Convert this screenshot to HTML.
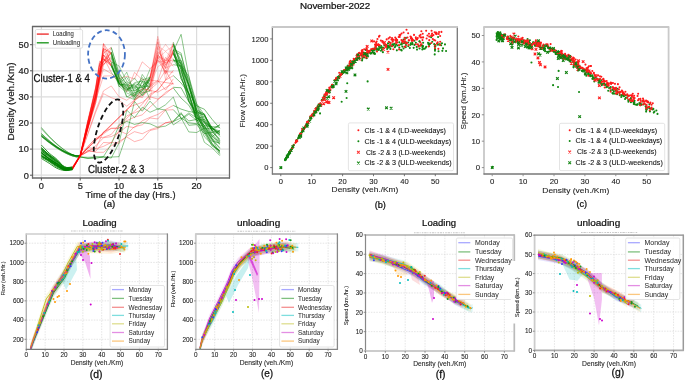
<!DOCTYPE html>
<html><head><meta charset="utf-8"><style>
html,body{margin:0;padding:0;background:#fff;}
svg{display:block;font-family:"Liberation Sans", sans-serif;will-change:transform;}
</style></head><body>
<svg width="685" height="380" viewBox="0 0 685 380">
<rect width="685" height="380" fill="#fff"/>
<text x="335.1" y="9.1" font-size="9.7" text-anchor="middle" fill="#111" stroke="#111" stroke-width="0.24" textLength="70.4" lengthAdjust="spacingAndGlyphs">November-2022</text>
<line x1="41.4" y1="26.5" x2="41.4" y2="178" stroke="#dcdcdc" stroke-width="1.2"/>
<line x1="80.2" y1="26.5" x2="80.2" y2="178" stroke="#dcdcdc" stroke-width="1.2"/>
<line x1="119" y1="26.5" x2="119" y2="178" stroke="#dcdcdc" stroke-width="1.2"/>
<line x1="157.8" y1="26.5" x2="157.8" y2="178" stroke="#dcdcdc" stroke-width="1.2"/>
<line x1="196.6" y1="26.5" x2="196.6" y2="178" stroke="#dcdcdc" stroke-width="1.2"/>
<line x1="32.5" y1="175.2" x2="229.5" y2="175.2" stroke="#dcdcdc" stroke-width="1.2"/>
<line x1="32.5" y1="149.1" x2="229.5" y2="149.1" stroke="#dcdcdc" stroke-width="1.2"/>
<line x1="32.5" y1="123" x2="229.5" y2="123" stroke="#dcdcdc" stroke-width="1.2"/>
<line x1="32.5" y1="96.9" x2="229.5" y2="96.9" stroke="#dcdcdc" stroke-width="1.2"/>
<line x1="32.5" y1="70.8" x2="229.5" y2="70.8" stroke="#dcdcdc" stroke-width="1.2"/>
<line x1="32.5" y1="44.7" x2="229.5" y2="44.7" stroke="#dcdcdc" stroke-width="1.2"/>
<clipPath id="c1"><rect x="32.5" y="26.5" width="197" height="151.5"/></clipPath><g clip-path="url(#c1)">
<polyline points="41.4,135.12 42.1,135.72 43.1,136.58 44.22,137.53 45.28,138.41 46.25,139.21 47.22,139.99 48.19,140.76 49.16,141.51 50.13,142.25 51.1,142.98 52.07,143.7 53.04,144.4 54.01,145.09 54.98,145.76 55.95,146.42 56.92,147.06 57.89,147.69 58.86,148.3 59.83,148.9 60.8,149.48 61.77,150.04 62.74,150.59 63.71,151.12 64.68,151.63 65.65,152.12 66.62,152.59 67.59,153.03 68.56,153.46 69.53,153.86 70.5,154.24 71.47,154.59 72.44,154.91 73.41,155.19 74.38,155.45 75.35,155.66 76.32,155.82 77.38,155.9 78.5,155.91 79.5,155.89 80.2,155.89" fill="none" stroke="#008000" stroke-width="1" stroke-opacity="0.5" stroke-linejoin="round"/>
<polyline points="80.2,155.89 87.96,150.19 95.72,152.34 103.48,152.31 111.24,145.78 119,141.5 126.76,136.98 134.52,141.65 142.28,139.31 150.04,130.47 157.8,128.62 165.56,122.72 173.32,121.87" fill="none" stroke="#ff0000" stroke-width="1" stroke-opacity="0.3" stroke-linejoin="round"/>
<polyline points="173.32,121.87 181.08,113.97 188.84,120.93 196.6,119.48 204.36,125.62 212.12,126.68 219.88,127.21" fill="none" stroke="#008000" stroke-width="1" stroke-opacity="0.5" stroke-linejoin="round"/>
<polyline points="41.4,136.2 42.1,136.76 43.1,137.57 44.22,138.48 45.28,139.32 46.25,140.07 47.22,140.81 48.19,141.54 49.16,142.25 50.13,142.96 51.1,143.65 52.07,144.33 53.04,144.99 54.01,145.64 54.98,146.28 55.95,146.91 56.92,147.52 57.89,148.11 58.86,148.7 59.83,149.26 60.8,149.81 61.77,150.35 62.74,150.86 63.71,151.37 64.68,151.85 65.65,152.31 66.62,152.76 67.59,153.18 68.56,153.58 69.53,153.96 70.5,154.33 71.47,154.66 72.44,154.96 73.41,155.23 74.38,155.47 75.35,155.68 76.32,155.82 77.38,155.9 78.5,155.91 79.5,155.89 80.2,155.89" fill="none" stroke="#008000" stroke-width="1" stroke-opacity="0.5" stroke-linejoin="round"/>
<polyline points="80.2,155.89 87.96,150.83 95.72,148.82 103.48,146.36 111.24,142.46 119,143.36 126.76,136.15 134.52,131.67 142.28,133.76 150.04,129.77 157.8,127.11 165.56,122.91 173.32,120.89" fill="none" stroke="#ff0000" stroke-width="1" stroke-opacity="0.3" stroke-linejoin="round"/>
<polyline points="173.32,120.89 181.08,112.67 188.84,125.27 196.6,124.6 204.36,133.49 212.12,132.37 219.88,131.5" fill="none" stroke="#008000" stroke-width="1" stroke-opacity="0.5" stroke-linejoin="round"/>
<polyline points="41.4,127.49 42.1,128.3 43.1,129.47 44.22,130.78 45.28,131.99 46.25,133.07 47.22,134.14 48.19,135.19 49.16,136.22 50.13,137.24 51.1,138.24 52.07,139.21 53.04,140.17 54.01,141.11 54.98,142.04 55.95,142.94 56.92,143.82 57.89,144.68 58.86,145.52 59.83,146.33 60.8,147.13 61.77,147.9 62.74,148.64 63.71,149.37 64.68,150.06 65.65,150.73 66.62,151.37 67.59,151.99 68.56,152.56 69.53,153.11 70.5,153.64 71.47,154.12 72.44,154.55 73.41,154.94 74.38,155.29 75.35,155.58 76.32,155.79 77.38,155.9 78.5,155.92 79.5,155.9 80.2,155.89" fill="none" stroke="#008000" stroke-width="1" stroke-opacity="0.5" stroke-linejoin="round"/>
<polyline points="80.2,155.89 87.96,151.68 95.72,151.27 103.48,142.48 111.24,142.9 119,130.62 126.76,134.18 134.52,126.57 142.28,124.83 150.04,117.97 157.8,118.96 165.56,110.07 173.32,109.7" fill="none" stroke="#ff0000" stroke-width="1" stroke-opacity="0.3" stroke-linejoin="round"/>
<polyline points="173.32,109.7 181.08,118.04 188.84,122.86 196.6,123.68 204.36,126.79 212.12,136.73 219.88,130.31" fill="none" stroke="#008000" stroke-width="1" stroke-opacity="0.5" stroke-linejoin="round"/>
<polyline points="41.4,136.04 42.1,136.61 43.1,137.43 44.22,138.34 45.28,139.18 46.25,139.94 47.22,140.69 48.19,141.42 49.16,142.14 50.13,142.85 51.1,143.55 52.07,144.23 53.04,144.9 54.01,145.56 54.98,146.21 55.95,146.84 56.92,147.45 57.89,148.05 58.86,148.64 59.83,149.21 60.8,149.76 61.77,150.3 62.74,150.82 63.71,151.33 64.68,151.81 65.65,152.28 66.62,152.73 67.59,153.16 68.56,153.56 69.53,153.95 70.5,154.31 71.47,154.65 72.44,154.95 73.41,155.22 74.38,155.47 75.35,155.67 76.32,155.82 77.38,155.9 78.5,155.91 79.5,155.89 80.2,155.89" fill="none" stroke="#008000" stroke-width="1" stroke-opacity="0.5" stroke-linejoin="round"/>
<polyline points="80.2,155.89 87.96,151.55 95.72,145.83 103.48,137.76 111.24,136.6 119,132.59 126.76,126.45 134.52,127.67 142.28,120.77 150.04,117.32 157.8,114.47 165.56,109.48 173.32,105.43" fill="none" stroke="#ff0000" stroke-width="1" stroke-opacity="0.3" stroke-linejoin="round"/>
<polyline points="173.32,105.43 181.08,109.12 188.84,111.53 196.6,112.65 204.36,123.49 212.12,128.89 219.88,124.83" fill="none" stroke="#008000" stroke-width="1" stroke-opacity="0.5" stroke-linejoin="round"/>
<polyline points="41.4,128.61 42.1,129.4 43.1,130.52 44.22,131.77 45.28,132.94 46.25,133.98 47.22,135 48.19,136.01 49.16,137 50.13,137.98 51.1,138.94 52.07,139.88 53.04,140.8 54.01,141.7 54.98,142.59 55.95,143.45 56.92,144.3 57.89,145.12 58.86,145.93 59.83,146.71 60.8,147.47 61.77,148.21 62.74,148.93 63.71,149.62 64.68,150.29 65.65,150.93 66.62,151.55 67.59,152.14 68.56,152.7 69.53,153.22 70.5,153.72 71.47,154.19 72.44,154.6 73.41,154.98 74.38,155.31 75.35,155.59 76.32,155.8 77.38,155.9 78.5,155.92 79.5,155.9 80.2,155.89" fill="none" stroke="#008000" stroke-width="1" stroke-opacity="0.5" stroke-linejoin="round"/>
<polyline points="80.2,155.89 87.96,147.68 95.72,148.5 103.48,131.84 111.24,128.43 119,127.96 126.76,120.69 134.52,117.17 142.28,114.87 150.04,106.98 157.8,99.98 165.56,92.18 173.32,87.98" fill="none" stroke="#ff0000" stroke-width="1" stroke-opacity="0.3" stroke-linejoin="round"/>
<polyline points="173.32,87.98 181.08,98.12 188.84,105.19 196.6,118.68 204.36,116.51 212.12,130.59 219.88,133.8" fill="none" stroke="#008000" stroke-width="1" stroke-opacity="0.5" stroke-linejoin="round"/>
<polyline points="41.4,135.05 42.1,135.64 43.1,136.5 44.22,137.46 45.28,138.35 46.25,139.14 47.22,139.93 48.19,140.7 49.16,141.46 50.13,142.2 51.1,142.93 52.07,143.65 53.04,144.36 54.01,145.05 54.98,145.72 55.95,146.38 56.92,147.03 57.89,147.66 58.86,148.28 59.83,148.88 60.8,149.46 61.77,150.02 62.74,150.57 63.71,151.1 64.68,151.61 65.65,152.1 66.62,152.57 67.59,153.02 68.56,153.45 69.53,153.85 70.5,154.23 71.47,154.59 72.44,154.9 73.41,155.19 74.38,155.45 75.35,155.66 76.32,155.82 77.38,155.9 78.5,155.91 79.5,155.89 80.2,155.89" fill="none" stroke="#008000" stroke-width="1" stroke-opacity="0.5" stroke-linejoin="round"/>
<polyline points="80.2,155.89 87.96,146.13 95.72,138.48 103.48,137.27 111.24,134.53 119,124.59 126.76,115.83 134.52,112.8 142.28,109.61 150.04,96.81 157.8,99.09 165.56,93.82 173.32,87.31" fill="none" stroke="#ff0000" stroke-width="1" stroke-opacity="0.3" stroke-linejoin="round"/>
<polyline points="173.32,87.31 181.08,87.76 188.84,101.86 196.6,111.68 204.36,115.4 212.12,128.78 219.88,130.93" fill="none" stroke="#008000" stroke-width="1" stroke-opacity="0.5" stroke-linejoin="round"/>
<polyline points="41.4,133.8 42.1,134.43 43.1,135.34 44.22,136.36 45.28,137.3 46.25,138.14 47.22,138.97 48.19,139.79 49.16,140.59 50.13,141.38 51.1,142.16 52.07,142.92 53.04,143.67 54.01,144.4 54.98,145.11 55.95,145.82 56.92,146.5 57.89,147.17 58.86,147.82 59.83,148.46 60.8,149.07 61.77,149.67 62.74,150.25 63.71,150.81 64.68,151.35 65.65,151.87 66.62,152.38 67.59,152.85 68.56,153.3 69.53,153.73 70.5,154.14 71.47,154.51 72.44,154.85 73.41,155.15 74.38,155.42 75.35,155.65 76.32,155.82 77.38,155.9 78.5,155.91 79.5,155.89 80.2,155.89" fill="none" stroke="#008000" stroke-width="1" stroke-opacity="0.5" stroke-linejoin="round"/>
<polyline points="80.2,155.89 87.96,146.97 95.72,138.1 103.48,133.85 111.24,128.29 119,128.28 126.76,118.15 134.52,111.16 142.28,104.26 150.04,94.09 157.8,90.32 165.56,80.14 173.32,75.68" fill="none" stroke="#ff0000" stroke-width="1" stroke-opacity="0.3" stroke-linejoin="round"/>
<polyline points="173.32,75.68 181.08,83.01 188.84,93.24 196.6,105.87 204.36,109.24 212.12,119.37 219.88,128.33" fill="none" stroke="#008000" stroke-width="1" stroke-opacity="0.5" stroke-linejoin="round"/>
<polyline points="80.2,155.89 87.96,134.09 95.72,112.3 103.48,93.61 111.24,97.66 119,100.24 126.76,106.23 134.52,99.94 142.28,95.79 150.04,89.55 157.8,82.85 165.56,70.28 173.32,84.46" fill="none" stroke="#ff0000" stroke-width="1" stroke-opacity="0.28" stroke-linejoin="round"/>
<polyline points="80.2,155.89 87.96,133.14 95.72,110.39 103.48,90.89 111.24,85.92 119,96.78 126.76,100.28 134.52,94.34 142.28,97.7 150.04,85.18 157.8,80.46 165.56,90.1 173.32,78.89" fill="none" stroke="#ff0000" stroke-width="1" stroke-opacity="0.28" stroke-linejoin="round"/>
<polyline points="80.2,155.89 87.96,127.95 95.72,100.01 103.48,76.06 111.24,75.84 119,80.05 126.76,91.99 134.52,72.39 142.28,79.77 150.04,80.12 157.8,81.07 165.56,57.4 173.32,66.29" fill="none" stroke="#ff0000" stroke-width="1" stroke-opacity="0.28" stroke-linejoin="round"/>
<polyline points="80.2,155.89 87.96,125.42 95.72,94.95 103.48,68.83 111.24,73.69 119,78.67 126.76,76.29 134.52,79.09 142.28,61.86 150.04,68.7 157.8,60.41 165.56,71.65 173.32,72.21" fill="none" stroke="#ff0000" stroke-width="1" stroke-opacity="0.28" stroke-linejoin="round"/>
<polyline points="41.4,135.79 45.28,139.14 49.16,142.29 53.04,145.23 56.92,147.95 60.8,150.41 64.68,152.59 68.56,154.46 72.44,155.93 76.32,156.86 80.2,156.93 87.96,158.32 95.72,158.43 103.48,156.63 111.24,144.2 119,125.28 126.76,121.39 134.52,124.4 142.28,122.54 150.04,123.83 157.8,127.35 165.56,126.1 173.32,121.54 181.08,117.92 188.84,131.95 196.6,132.51 204.36,128.12 212.12,128.89 219.88,132.73" fill="none" stroke="#008000" stroke-width="1" stroke-opacity="0.45" stroke-linejoin="round"/>
<polyline points="41.4,133.44 45.28,137.16 49.16,140.67 53.04,143.93 56.92,146.95 60.8,149.68 64.68,152.11 68.56,154.18 72.44,155.82 76.32,156.85 80.2,156.93 87.96,157.31 95.72,157 103.48,156.5 111.24,158.09 119,143.06 126.76,110.12 134.52,117.64 142.28,107.21 150.04,112.29 157.8,108.8 165.56,110.06 173.32,124.91 181.08,119.73 188.84,114.22 196.6,120.32 204.36,119.33 212.12,130.53 219.88,124.71" fill="none" stroke="#008000" stroke-width="1" stroke-opacity="0.45" stroke-linejoin="round"/>
<polyline points="41.4,136.57 45.28,139.8 49.16,142.84 53.04,145.67 56.92,148.28 60.8,150.65 64.68,152.75 68.56,154.55 72.44,155.97 76.32,156.86 80.2,156.93 87.96,158.46 95.72,156.85 103.48,157.65 111.24,157.04 119,156.7 126.76,134.11 134.52,101.37 142.28,111.22 150.04,101.18 157.8,109.49 165.56,104.77 173.32,97.09 181.08,118.79 188.84,112.94 196.6,117.81 204.36,121.9 212.12,127.95 219.88,132.88" fill="none" stroke="#008000" stroke-width="1" stroke-opacity="0.45" stroke-linejoin="round"/>
<polyline points="41.4,156.67 42.79,157.29 44.8,158.18 47.04,159.24 49.16,160.39 51.1,161.7 53.04,163.17 54.98,164.65 56.92,165.97 58.86,167.15 60.8,168.27 62.74,169.2 64.68,169.8 66.8,169.93 69.05,169.7 71.05,169.35 72.44,169.13" fill="none" stroke="#008000" stroke-width="1" stroke-opacity="0.8" stroke-linejoin="round"/>
<polyline points="72.44,169.13 80.2,155.93 87.96,126.98 95.72,100.71 99.6,79.89 103.48,54.57 111.24,62.44" fill="none" stroke="#ff0000" stroke-width="1" stroke-opacity="0.3" stroke-linejoin="round"/>
<polyline points="111.24,62.44 119,85.98 126.76,92.98 134.52,96.29 142.28,81.26 150.04,99.87" fill="none" stroke="#008000" stroke-width="1" stroke-opacity="0.38" stroke-linejoin="round"/>
<polyline points="150.04,99.87 157.8,54.76 165.56,63.01 173.32,59.5" fill="none" stroke="#ff0000" stroke-width="1" stroke-opacity="0.2" stroke-linejoin="round"/>
<polyline points="173.32,59.5 181.08,71.84 188.84,92.85 196.6,118.88 204.36,133.26 212.12,146.17 219.88,150.78" fill="none" stroke="#008000" stroke-width="1" stroke-opacity="0.45" stroke-linejoin="round"/>
<polyline points="41.4,149.46 42.79,150.68 44.8,152.44 47.04,154.39 49.16,156.19 51.1,157.79 53.04,159.36 54.98,160.91 56.92,162.43 58.86,164.05 60.8,165.74 62.74,167.23 64.68,168.28 66.8,168.69 69.05,168.65 71.05,168.43 72.44,168.3" fill="none" stroke="#008000" stroke-width="1" stroke-opacity="0.8" stroke-linejoin="round"/>
<polyline points="72.44,168.3 80.2,154.96 87.96,121.88 95.72,90.55 99.6,65.36 103.48,61.6 111.24,53.03" fill="none" stroke="#ff0000" stroke-width="1" stroke-opacity="0.3" stroke-linejoin="round"/>
<polyline points="111.24,53.03 119,76.43 126.76,96.55 134.52,99.64 142.28,94.54 150.04,77.7" fill="none" stroke="#008000" stroke-width="1" stroke-opacity="0.38" stroke-linejoin="round"/>
<polyline points="150.04,77.7 157.8,41.7 165.56,68.32 173.32,44.26" fill="none" stroke="#ff0000" stroke-width="1" stroke-opacity="0.2" stroke-linejoin="round"/>
<polyline points="173.32,44.26 181.08,60.82 188.84,84.66 196.6,109.53 204.36,121.39 212.12,136.86 219.88,141.73" fill="none" stroke="#008000" stroke-width="1" stroke-opacity="0.45" stroke-linejoin="round"/>
<polyline points="41.4,156.01 42.79,156.72 44.8,157.75 47.04,158.93 49.16,160.11 51.1,161.29 53.04,162.54 54.98,163.81 56.92,165.07 58.86,166.41 60.8,167.84 62.74,169.09 64.68,169.94 66.8,170.19 69.05,170.03 71.05,169.71 72.44,169.51" fill="none" stroke="#008000" stroke-width="1" stroke-opacity="0.8" stroke-linejoin="round"/>
<polyline points="72.44,169.51 80.2,156.11 87.96,127.94 95.72,97.18 99.6,78.99 103.48,62.15 111.24,51.89" fill="none" stroke="#ff0000" stroke-width="1" stroke-opacity="0.3" stroke-linejoin="round"/>
<polyline points="111.24,51.89 119,78.02 126.76,97.06 134.52,92.68 142.28,89.51 150.04,83.72" fill="none" stroke="#008000" stroke-width="1" stroke-opacity="0.38" stroke-linejoin="round"/>
<polyline points="150.04,83.72 157.8,51.43 165.56,60.67 173.32,52.1" fill="none" stroke="#ff0000" stroke-width="1" stroke-opacity="0.2" stroke-linejoin="round"/>
<polyline points="173.32,52.1 181.08,76.16 188.84,100.64 196.6,114.26 204.36,131.58 212.12,143.31 219.88,154.49" fill="none" stroke="#008000" stroke-width="1" stroke-opacity="0.45" stroke-linejoin="round"/>
<polyline points="41.4,152.35 42.79,153.61 44.8,155.43 47.04,157.4 49.16,159.08 51.1,160.35 53.04,161.43 54.98,162.47 56.92,163.61 58.86,165.03 60.8,166.62 62.74,168.04 64.68,168.98 66.8,169.24 69.05,169.02 71.05,168.64 72.44,168.4" fill="none" stroke="#008000" stroke-width="1" stroke-opacity="0.8" stroke-linejoin="round"/>
<polyline points="72.44,168.4 80.2,155.72 87.96,124.52 95.72,93.46 99.6,75.16 103.48,44.2 111.24,62.65" fill="none" stroke="#ff0000" stroke-width="1" stroke-opacity="0.3" stroke-linejoin="round"/>
<polyline points="111.24,62.65 119,86.83 126.76,81.82 134.52,96.3 142.28,90.47 150.04,77.69" fill="none" stroke="#008000" stroke-width="1" stroke-opacity="0.38" stroke-linejoin="round"/>
<polyline points="150.04,77.69 157.8,42.42 165.56,73.04 173.32,49.21" fill="none" stroke="#ff0000" stroke-width="1" stroke-opacity="0.2" stroke-linejoin="round"/>
<polyline points="173.32,49.21 181.08,53.07 188.84,85.48 196.6,114.18 204.36,128.45 212.12,139.08 219.88,147.76" fill="none" stroke="#008000" stroke-width="1" stroke-opacity="0.45" stroke-linejoin="round"/>
<polyline points="41.4,153.19 42.79,154.2 44.8,155.65 47.04,157.26 49.16,158.74 51.1,160.03 53.04,161.28 54.98,162.51 56.92,163.77 58.86,165.19 60.8,166.71 62.74,168.07 64.68,169.01 66.8,169.36 69.05,169.3 71.05,169.07 72.44,168.93" fill="none" stroke="#008000" stroke-width="1" stroke-opacity="0.8" stroke-linejoin="round"/>
<polyline points="72.44,168.93 80.2,155.28 87.96,125.77 95.72,96.05 99.6,75.14 103.48,59.14 111.24,64.03" fill="none" stroke="#ff0000" stroke-width="1" stroke-opacity="0.3" stroke-linejoin="round"/>
<polyline points="111.24,64.03 119,82.73 126.76,72.21 134.52,93.19 142.28,88.76 150.04,76.22" fill="none" stroke="#008000" stroke-width="1" stroke-opacity="0.38" stroke-linejoin="round"/>
<polyline points="150.04,76.22 157.8,46.31 165.56,51.18 173.32,45.96" fill="none" stroke="#ff0000" stroke-width="1" stroke-opacity="0.2" stroke-linejoin="round"/>
<polyline points="173.32,45.96 181.08,78.84 188.84,94.18 196.6,113.54 204.36,125.57 212.12,135.5 219.88,144.04" fill="none" stroke="#008000" stroke-width="1" stroke-opacity="0.45" stroke-linejoin="round"/>
<polyline points="41.4,152.99 42.79,154.02 44.8,155.51 47.04,157.17 49.16,158.71 51.1,160.09 53.04,161.47 54.98,162.81 56.92,164.09 58.86,165.39 60.8,166.69 62.74,167.83 64.68,168.63 66.8,168.95 69.05,168.91 71.05,168.73 72.44,168.63" fill="none" stroke="#008000" stroke-width="1" stroke-opacity="0.8" stroke-linejoin="round"/>
<polyline points="72.44,168.63 80.2,156.01 87.96,125.53 95.72,93.92 99.6,72.04 103.48,48.68 111.24,52.38" fill="none" stroke="#ff0000" stroke-width="1" stroke-opacity="0.3" stroke-linejoin="round"/>
<polyline points="111.24,52.38 119,76.24 126.76,86.48 134.52,84.57 142.28,95.45 150.04,85.23" fill="none" stroke="#008000" stroke-width="1" stroke-opacity="0.38" stroke-linejoin="round"/>
<polyline points="150.04,85.23 157.8,58.66 165.56,51.49 173.32,59.13" fill="none" stroke="#ff0000" stroke-width="1" stroke-opacity="0.2" stroke-linejoin="round"/>
<polyline points="173.32,59.13 181.08,66.54 188.84,89.06 196.6,109.56 204.36,129.46 212.12,141.17 219.88,142.99" fill="none" stroke="#008000" stroke-width="1" stroke-opacity="0.45" stroke-linejoin="round"/>
<polyline points="41.4,155.61 42.79,156.62 44.8,158.08 47.04,159.7 49.16,161.16 51.1,162.41 53.04,163.61 54.98,164.77 56.92,165.92 58.86,167.2 60.8,168.56 62.74,169.71 64.68,170.4 66.8,170.39 69.05,169.88 71.05,169.23 72.44,168.81" fill="none" stroke="#008000" stroke-width="1" stroke-opacity="0.8" stroke-linejoin="round"/>
<polyline points="72.44,168.81 80.2,156.11 87.96,127.61 95.72,96.49 99.6,77.99 103.48,43.39 111.24,55.2" fill="none" stroke="#ff0000" stroke-width="1" stroke-opacity="0.3" stroke-linejoin="round"/>
<polyline points="111.24,55.2 119,83.33 126.76,85.76 134.52,78.17 142.28,87.96 150.04,80.79" fill="none" stroke="#008000" stroke-width="1" stroke-opacity="0.38" stroke-linejoin="round"/>
<polyline points="150.04,80.79 157.8,48.22 165.56,65.59 173.32,52.66" fill="none" stroke="#ff0000" stroke-width="1" stroke-opacity="0.2" stroke-linejoin="round"/>
<polyline points="173.32,52.66 181.08,74.77 188.84,101.17 196.6,115.6 204.36,129.88 212.12,143.51 219.88,152.02" fill="none" stroke="#008000" stroke-width="1" stroke-opacity="0.45" stroke-linejoin="round"/>
<polyline points="41.4,158.52 42.79,159.37 44.8,160.58 47.04,161.94 49.16,163.26 51.1,164.57 53.04,165.94 54.98,167.23 56.92,168.3 58.86,169.12 60.8,169.77 62.74,170.24 64.68,170.53 66.8,170.55 69.05,170.33 71.05,170.05 72.44,169.86" fill="none" stroke="#008000" stroke-width="1" stroke-opacity="0.8" stroke-linejoin="round"/>
<polyline points="72.44,169.86 80.2,156.16 87.96,128.9 95.72,102.73 99.6,83.95 103.48,55.11 111.24,64.89" fill="none" stroke="#ff0000" stroke-width="1" stroke-opacity="0.3" stroke-linejoin="round"/>
<polyline points="111.24,64.89 119,83.54 126.76,89.8 134.52,90.67 142.28,85.79 150.04,79.65" fill="none" stroke="#008000" stroke-width="1" stroke-opacity="0.38" stroke-linejoin="round"/>
<polyline points="150.04,79.65 157.8,38.87 165.56,79.87 173.32,50.17" fill="none" stroke="#ff0000" stroke-width="1" stroke-opacity="0.2" stroke-linejoin="round"/>
<polyline points="173.32,50.17 181.08,78.66 188.84,93.25 196.6,120.11 204.36,142.3 212.12,147.82 219.88,155.71" fill="none" stroke="#008000" stroke-width="1" stroke-opacity="0.45" stroke-linejoin="round"/>
<polyline points="41.4,149.54 42.79,150.59 44.8,152.09 47.04,153.79 49.16,155.43 51.1,157.01 53.04,158.62 54.98,160.24 56.92,161.82 58.86,163.48 60.8,165.2 62.74,166.72 64.68,167.81 66.8,168.28 69.05,168.3 71.05,168.14 72.44,168.05" fill="none" stroke="#008000" stroke-width="1" stroke-opacity="0.8" stroke-linejoin="round"/>
<polyline points="72.44,168.05 80.2,156.09 87.96,121.61 95.72,88.58 99.6,68.11 103.48,64.41 111.24,56.48" fill="none" stroke="#ff0000" stroke-width="1" stroke-opacity="0.3" stroke-linejoin="round"/>
<polyline points="111.24,56.48 119,77.85 126.76,87.61 134.52,89.16 142.28,77.47 150.04,91.44" fill="none" stroke="#008000" stroke-width="1" stroke-opacity="0.38" stroke-linejoin="round"/>
<polyline points="150.04,91.44 157.8,57.19 165.56,74.16 173.32,60.23" fill="none" stroke="#ff0000" stroke-width="1" stroke-opacity="0.2" stroke-linejoin="round"/>
<polyline points="173.32,60.23 181.08,62.62 188.84,86.35 196.6,109.55 204.36,114.28 212.12,132.16 219.88,138.99" fill="none" stroke="#008000" stroke-width="1" stroke-opacity="0.45" stroke-linejoin="round"/>
<polyline points="41.4,145.09 42.79,146.58 44.8,148.73 47.04,151.08 49.16,153.14 51.1,154.77 53.04,156.22 54.98,157.66 56.92,159.26 58.86,161.27 60.8,163.54 62.74,165.61 64.68,167.03 66.8,167.54 69.05,167.42 71.05,167.06 72.44,166.84" fill="none" stroke="#008000" stroke-width="1" stroke-opacity="0.8" stroke-linejoin="round"/>
<polyline points="72.44,166.84 80.2,155.54 87.96,119.6 95.72,86.63 99.6,61.16 103.48,64.4 111.24,58.16" fill="none" stroke="#ff0000" stroke-width="1" stroke-opacity="0.3" stroke-linejoin="round"/>
<polyline points="111.24,58.16 119,83.5 126.76,90.46 134.52,82.67 142.28,80.93 150.04,83.43" fill="none" stroke="#008000" stroke-width="1" stroke-opacity="0.38" stroke-linejoin="round"/>
<polyline points="150.04,83.43 157.8,60.05 165.56,66.97 173.32,51.37" fill="none" stroke="#ff0000" stroke-width="1" stroke-opacity="0.2" stroke-linejoin="round"/>
<polyline points="173.32,51.37 181.08,34.33 188.84,76.52 196.6,103.54 204.36,115.17 212.12,127.59 219.88,134.94" fill="none" stroke="#008000" stroke-width="1" stroke-opacity="0.45" stroke-linejoin="round"/>
<polyline points="41.4,152.15 42.79,153.31 44.8,154.97 47.04,156.81 49.16,158.51 51.1,160.01 53.04,161.49 54.98,162.92 56.92,164.32 58.86,165.8 60.8,167.33 62.74,168.65 64.68,169.49 66.8,169.65 69.05,169.3 71.05,168.8 72.44,168.47" fill="none" stroke="#008000" stroke-width="1" stroke-opacity="0.8" stroke-linejoin="round"/>
<polyline points="72.44,168.47 80.2,155.69 87.96,125.75 95.72,96.62 99.6,74.62 103.48,48.52 111.24,53.82" fill="none" stroke="#ff0000" stroke-width="1" stroke-opacity="0.3" stroke-linejoin="round"/>
<polyline points="111.24,53.82 119,80.01 126.76,88.57 134.52,86.89 142.28,87.85 150.04,69.11" fill="none" stroke="#008000" stroke-width="1" stroke-opacity="0.38" stroke-linejoin="round"/>
<polyline points="150.04,69.11 157.8,61.99 165.56,60.92 173.32,42.25" fill="none" stroke="#ff0000" stroke-width="1" stroke-opacity="0.2" stroke-linejoin="round"/>
<polyline points="173.32,42.25 181.08,67.35 188.84,84.83 196.6,113.77 204.36,126.33 212.12,139.5 219.88,148.55" fill="none" stroke="#008000" stroke-width="1" stroke-opacity="0.45" stroke-linejoin="round"/>
<polyline points="41.4,154.24 42.79,155.32 44.8,156.88 47.04,158.6 49.16,160.17 51.1,161.56 53.04,162.91 54.98,164.19 56.92,165.38 58.86,166.53 60.8,167.64 62.74,168.57 64.68,169.19 66.8,169.37 69.05,169.22 71.05,168.95 72.44,168.77" fill="none" stroke="#008000" stroke-width="1" stroke-opacity="0.8" stroke-linejoin="round"/>
<polyline points="72.44,168.77 80.2,155.48 87.96,126.79 95.72,98.89 99.6,76.68 103.48,59.2 111.24,66.09" fill="none" stroke="#ff0000" stroke-width="1" stroke-opacity="0.3" stroke-linejoin="round"/>
<polyline points="111.24,66.09 119,82.6 126.76,90.01 134.52,84.91 142.28,93.03 150.04,91.05" fill="none" stroke="#008000" stroke-width="1" stroke-opacity="0.38" stroke-linejoin="round"/>
<polyline points="150.04,91.05 157.8,55.3 165.56,44.37 173.32,54.27" fill="none" stroke="#ff0000" stroke-width="1" stroke-opacity="0.2" stroke-linejoin="round"/>
<polyline points="173.32,54.27 181.08,69.56 188.84,95.37 196.6,116.7 204.36,128.28 212.12,139.29 219.88,153.24" fill="none" stroke="#008000" stroke-width="1" stroke-opacity="0.45" stroke-linejoin="round"/>
<polyline points="41.4,147.79 42.79,149.04 44.8,150.85 47.04,152.82 49.16,154.59 51.1,156.02 53.04,157.31 54.98,158.63 56.92,160.11 58.86,162.01 60.8,164.17 62.74,166.15 64.68,167.5 66.8,167.96 69.05,167.81 71.05,167.43 72.44,167.2" fill="none" stroke="#008000" stroke-width="1" stroke-opacity="0.8" stroke-linejoin="round"/>
<polyline points="72.44,167.2 80.2,154.89 87.96,121.91 95.72,87.61 99.6,64.41 103.48,57.43 111.24,72.33" fill="none" stroke="#ff0000" stroke-width="1" stroke-opacity="0.3" stroke-linejoin="round"/>
<polyline points="111.24,72.33 119,83.31 126.76,87.71 134.52,96.59 142.28,74.42 150.04,85.51" fill="none" stroke="#008000" stroke-width="1" stroke-opacity="0.38" stroke-linejoin="round"/>
<polyline points="150.04,85.51 157.8,55.82 165.56,60.33 173.32,60.99" fill="none" stroke="#ff0000" stroke-width="1" stroke-opacity="0.2" stroke-linejoin="round"/>
<polyline points="173.32,60.99 181.08,60.46 188.84,79.82 196.6,104.47 204.36,119.38 212.12,129.78 219.88,140.4" fill="none" stroke="#008000" stroke-width="1" stroke-opacity="0.45" stroke-linejoin="round"/>
<polyline points="41.4,150.92 42.79,151.9 44.8,153.3 47.04,154.91 49.16,156.5 51.1,158.1 53.04,159.79 54.98,161.47 56.92,163.05 58.86,164.6 60.8,166.15 62.74,167.49 64.68,168.4 66.8,168.71 69.05,168.58 71.05,168.27 72.44,168.09" fill="none" stroke="#008000" stroke-width="1" stroke-opacity="0.8" stroke-linejoin="round"/>
<polyline points="72.44,168.09 80.2,155.96 87.96,121.15 95.72,92.02 99.6,70.7 103.48,62.2 111.24,47.76" fill="none" stroke="#ff0000" stroke-width="1" stroke-opacity="0.3" stroke-linejoin="round"/>
<polyline points="111.24,47.76 119,72.92 126.76,84.51 134.52,98.35 142.28,91.45 150.04,79.67" fill="none" stroke="#008000" stroke-width="1" stroke-opacity="0.38" stroke-linejoin="round"/>
<polyline points="150.04,79.67 157.8,56.81 165.56,67.95 173.32,64.68" fill="none" stroke="#ff0000" stroke-width="1" stroke-opacity="0.2" stroke-linejoin="round"/>
<polyline points="173.32,64.68 181.08,65.9 188.84,85.61 196.6,111.87 204.36,122.56 212.12,127.07 219.88,136.53" fill="none" stroke="#008000" stroke-width="1" stroke-opacity="0.45" stroke-linejoin="round"/>
<polyline points="41.4,155.44 42.79,156.37 44.8,157.71 47.04,159.22 49.16,160.64 51.1,161.97 53.04,163.33 54.98,164.63 56.92,165.8 58.86,166.86 60.8,167.84 62.74,168.65 64.68,169.21 66.8,169.42 69.05,169.34 71.05,169.16 72.44,169.04" fill="none" stroke="#008000" stroke-width="1" stroke-opacity="0.8" stroke-linejoin="round"/>
<polyline points="72.44,169.04 80.2,156.02 87.96,127.04 95.72,99.03 99.6,76.41 103.48,50.37 111.24,66.15" fill="none" stroke="#ff0000" stroke-width="1" stroke-opacity="0.3" stroke-linejoin="round"/>
<polyline points="111.24,66.15 119,83.89 126.76,91.66 134.52,83.53 142.28,86.12 150.04,77.81" fill="none" stroke="#008000" stroke-width="1" stroke-opacity="0.38" stroke-linejoin="round"/>
<polyline points="150.04,77.81 157.8,53.05 165.56,74.19 173.32,49.71" fill="none" stroke="#ff0000" stroke-width="1" stroke-opacity="0.2" stroke-linejoin="round"/>
<polyline points="173.32,49.71 181.08,69.56 188.84,93.85 196.6,122.06 204.36,131.31 212.12,145.11 219.88,151.09" fill="none" stroke="#008000" stroke-width="1" stroke-opacity="0.45" stroke-linejoin="round"/>
<polyline points="41.4,150.89 42.79,152.09 44.8,153.82 47.04,155.74 49.16,157.52 51.1,159.11 53.04,160.67 54.98,162.2 56.92,163.69 58.86,165.29 60.8,166.95 62.74,168.39 64.68,169.32 66.8,169.53 69.05,169.2 71.05,168.7 72.44,168.38" fill="none" stroke="#008000" stroke-width="1" stroke-opacity="0.8" stroke-linejoin="round"/>
<polyline points="72.44,168.38 80.2,155.09 87.96,123.52 95.72,95.66 99.6,73.27 103.48,53.14 111.24,47.27" fill="none" stroke="#ff0000" stroke-width="1" stroke-opacity="0.3" stroke-linejoin="round"/>
<polyline points="111.24,47.27 119,74.23 126.76,84.07 134.52,87.73 142.28,95.51 150.04,86.92" fill="none" stroke="#008000" stroke-width="1" stroke-opacity="0.38" stroke-linejoin="round"/>
<polyline points="150.04,86.92 157.8,55.31 165.56,64.42 173.32,53.26" fill="none" stroke="#ff0000" stroke-width="1" stroke-opacity="0.2" stroke-linejoin="round"/>
<polyline points="173.32,53.26 181.08,64.53 188.84,85.44 196.6,106.22 204.36,121.26 212.12,134.23 219.88,142.66" fill="none" stroke="#008000" stroke-width="1" stroke-opacity="0.45" stroke-linejoin="round"/>
<polyline points="41.4,157.25 42.79,158.02 44.8,159.11 47.04,160.38 49.16,161.66 51.1,163.01 53.04,164.49 54.98,165.91 56.92,167.09 58.86,167.98 60.8,168.69 62.74,169.21 64.68,169.57 66.8,169.69 69.05,169.59 71.05,169.41 72.44,169.29" fill="none" stroke="#008000" stroke-width="1" stroke-opacity="0.8" stroke-linejoin="round"/>
<polyline points="72.44,169.29 80.2,155.88 87.96,128.13 95.72,102.67 99.6,77.42 103.48,65.54 111.24,52" fill="none" stroke="#ff0000" stroke-width="1" stroke-opacity="0.3" stroke-linejoin="round"/>
<polyline points="111.24,52 119,84.58 126.76,84.64 134.52,94.54 142.28,90.81 150.04,77.6" fill="none" stroke="#008000" stroke-width="1" stroke-opacity="0.38" stroke-linejoin="round"/>
<polyline points="150.04,77.6 157.8,36.28 165.56,65.04 173.32,53.74" fill="none" stroke="#ff0000" stroke-width="1" stroke-opacity="0.2" stroke-linejoin="round"/>
<polyline points="173.32,53.74 181.08,68.01 188.84,101.46 196.6,118.27 204.36,136.8 212.12,144.51 219.88,150.67" fill="none" stroke="#008000" stroke-width="1" stroke-opacity="0.45" stroke-linejoin="round"/>
<polyline points="41.4,148.09 42.79,149.45 44.8,151.41 47.04,153.54 49.16,155.43 51.1,156.94 53.04,158.29 54.98,159.62 56.92,161.08 58.86,162.9 60.8,164.92 62.74,166.76 64.68,168 66.8,168.4 69.05,168.22 71.05,167.83 72.44,167.59" fill="none" stroke="#008000" stroke-width="1" stroke-opacity="0.8" stroke-linejoin="round"/>
<polyline points="72.44,167.59 80.2,154.72 87.96,120.99 95.72,89.63 99.6,64.28 103.48,55.13 111.24,65.55" fill="none" stroke="#ff0000" stroke-width="1" stroke-opacity="0.3" stroke-linejoin="round"/>
<polyline points="111.24,65.55 119,83.37 126.76,77.2 134.52,91.13 142.28,86.87 150.04,86.18" fill="none" stroke="#008000" stroke-width="1" stroke-opacity="0.38" stroke-linejoin="round"/>
<polyline points="150.04,86.18 157.8,66.61 165.56,62.15 173.32,50.58" fill="none" stroke="#ff0000" stroke-width="1" stroke-opacity="0.2" stroke-linejoin="round"/>
<polyline points="173.32,50.58 181.08,55.01 188.84,81.84 196.6,112.92 204.36,114.82 212.12,128.52 219.88,134.88" fill="none" stroke="#008000" stroke-width="1" stroke-opacity="0.45" stroke-linejoin="round"/>
<polyline points="41.4,148.22 42.79,149.43 44.8,151.17 47.04,153.11 49.16,154.9 51.1,156.48 53.04,158.03 54.98,159.55 56.92,161.05 58.86,162.62 60.8,164.24 62.74,165.71 64.68,166.83 66.8,167.51 69.05,167.86 71.05,168.04 72.44,168.18" fill="none" stroke="#008000" stroke-width="1" stroke-opacity="0.8" stroke-linejoin="round"/>
<polyline points="72.44,168.18 80.2,155.38 87.96,121.81 95.72,87.79 99.6,63.22 103.48,58.76 111.24,65.52" fill="none" stroke="#ff0000" stroke-width="1" stroke-opacity="0.3" stroke-linejoin="round"/>
<polyline points="111.24,65.52 119,80.94 126.76,88.32 134.52,99.54 142.28,81.3 150.04,87.4" fill="none" stroke="#008000" stroke-width="1" stroke-opacity="0.38" stroke-linejoin="round"/>
<polyline points="150.04,87.4 157.8,46.82 165.56,69.08 173.32,43.82" fill="none" stroke="#ff0000" stroke-width="1" stroke-opacity="0.2" stroke-linejoin="round"/>
<polyline points="173.32,43.82 181.08,65.19 188.84,76.46 196.6,111.44 204.36,113.82 212.12,130.87 219.88,141.15" fill="none" stroke="#008000" stroke-width="1" stroke-opacity="0.45" stroke-linejoin="round"/>
<polyline points="41.4,152.82 42.79,153.98 44.8,155.63 47.04,157.46 49.16,159.1 51.1,160.51 53.04,161.85 54.98,163.14 56.92,164.37 58.86,165.64 60.8,166.92 62.74,168.03 64.68,168.78 66.8,169.05 69.05,168.96 71.05,168.73 72.44,168.58" fill="none" stroke="#008000" stroke-width="1" stroke-opacity="0.8" stroke-linejoin="round"/>
<polyline points="72.44,168.58 80.2,156.89 87.96,125.19 95.72,94.78 99.6,74.08 103.48,48.54 111.24,62.07" fill="none" stroke="#ff0000" stroke-width="1" stroke-opacity="0.3" stroke-linejoin="round"/>
<polyline points="111.24,62.07 119,65.91 126.76,81.24 134.52,86.95 142.28,79.84 150.04,77.37" fill="none" stroke="#008000" stroke-width="1" stroke-opacity="0.38" stroke-linejoin="round"/>
<polyline points="150.04,77.37 157.8,51.68 165.56,63.09 173.32,44.48" fill="none" stroke="#ff0000" stroke-width="1" stroke-opacity="0.2" stroke-linejoin="round"/>
<polyline points="173.32,44.48 181.08,63.05 188.84,98.01 196.6,117.25 204.36,125.5 212.12,138.42 219.88,144.38" fill="none" stroke="#008000" stroke-width="1" stroke-opacity="0.45" stroke-linejoin="round"/>
<polyline points="80.2,155.62 103.48,132.77 129.86,107.15 142.28,88.64 157.8,92.15 173.32,83.33" fill="none" stroke="#ff0000" stroke-width="1" stroke-opacity="0.3" stroke-linejoin="round"/>
<polyline points="80.2,155.62 103.48,133.1 129.86,106.37 142.28,92.79 157.8,81.3 173.32,83.73" fill="none" stroke="#ff0000" stroke-width="1" stroke-opacity="0.3" stroke-linejoin="round"/>
<polyline points="80.2,155.62 103.48,132.22 129.86,106.73 142.28,102.34 157.8,89.79 173.32,70.35" fill="none" stroke="#ff0000" stroke-width="1" stroke-opacity="0.3" stroke-linejoin="round"/>
</g>
<ellipse cx="106.5" cy="54.4" rx="18.4" ry="24.2" fill="none" stroke="#4472c4" stroke-width="1.8" stroke-dasharray="5 3.2"/>
<ellipse cx="108.5" cy="131" rx="11.2" ry="33" transform="rotate(18 108.5 131)" fill="none" stroke="#111" stroke-width="1.8" stroke-dasharray="5 3.2"/>
<line x1="32.5" y1="26" x2="32.5" y2="178.5" stroke="#6a6a6a" stroke-width="1.3"/>
<line x1="229.5" y1="26" x2="229.5" y2="178.5" stroke="#6a6a6a" stroke-width="1.3"/>
<line x1="32" y1="26.5" x2="230" y2="26.5" stroke="#666" stroke-width="1.3"/>
<line x1="32" y1="178" x2="230" y2="178" stroke="#6a6a6a" stroke-width="1.3"/>
<line x1="41.4" y1="178" x2="41.4" y2="180.5" stroke="#555" stroke-width="1"/>
<text x="41.4" y="188.5" font-size="9.2" text-anchor="middle" fill="#222" stroke="#222" stroke-width="0.23">0</text>
<line x1="80.2" y1="178" x2="80.2" y2="180.5" stroke="#555" stroke-width="1"/>
<text x="80.2" y="188.5" font-size="9.2" text-anchor="middle" fill="#222" stroke="#222" stroke-width="0.23">5</text>
<line x1="119" y1="178" x2="119" y2="180.5" stroke="#555" stroke-width="1"/>
<text x="119" y="188.5" font-size="9.2" text-anchor="middle" fill="#222" stroke="#222" stroke-width="0.23">10</text>
<line x1="157.8" y1="178" x2="157.8" y2="180.5" stroke="#555" stroke-width="1"/>
<text x="157.8" y="188.5" font-size="9.2" text-anchor="middle" fill="#222" stroke="#222" stroke-width="0.23">15</text>
<line x1="196.6" y1="178" x2="196.6" y2="180.5" stroke="#555" stroke-width="1"/>
<text x="196.6" y="188.5" font-size="9.2" text-anchor="middle" fill="#222" stroke="#222" stroke-width="0.23">20</text>
<line x1="30" y1="175.2" x2="32.5" y2="175.2" stroke="#555" stroke-width="1"/>
<text x="28.8" y="178.5" font-size="9.2" text-anchor="end" fill="#222" stroke="#222" stroke-width="0.23">0</text>
<line x1="30" y1="149.1" x2="32.5" y2="149.1" stroke="#555" stroke-width="1"/>
<text x="28.8" y="152.4" font-size="9.2" text-anchor="end" fill="#222" stroke="#222" stroke-width="0.23">10</text>
<line x1="30" y1="123" x2="32.5" y2="123" stroke="#555" stroke-width="1"/>
<text x="28.8" y="126.3" font-size="9.2" text-anchor="end" fill="#222" stroke="#222" stroke-width="0.23">20</text>
<line x1="30" y1="96.9" x2="32.5" y2="96.9" stroke="#555" stroke-width="1"/>
<text x="28.8" y="100.2" font-size="9.2" text-anchor="end" fill="#222" stroke="#222" stroke-width="0.23">30</text>
<line x1="30" y1="70.8" x2="32.5" y2="70.8" stroke="#555" stroke-width="1"/>
<text x="28.8" y="74.1" font-size="9.2" text-anchor="end" fill="#222" stroke="#222" stroke-width="0.23">40</text>
<line x1="30" y1="44.7" x2="32.5" y2="44.7" stroke="#555" stroke-width="1"/>
<text x="28.8" y="48" font-size="9.2" text-anchor="end" fill="#222" stroke="#222" stroke-width="0.23">50</text>
<text x="13.6" y="101.5" font-size="9.6" text-anchor="middle" fill="#222" stroke="#222" stroke-width="0.24" transform="rotate(-90 13.6 101.5)" textLength="78" lengthAdjust="spacingAndGlyphs">Density (veh./Km)</text>
<text x="130.5" y="198.4" font-size="9.6" text-anchor="middle" fill="#222" stroke="#222" stroke-width="0.24" textLength="90" lengthAdjust="spacingAndGlyphs">Time of the day (Hrs.)</text>
<text x="109.4" y="207.3" font-size="9.6" text-anchor="middle" fill="#111" stroke="#111" stroke-width="0.24">(a)</text>
<rect x="33.4" y="73.5" width="57" height="9.8" fill="#fff" fill-opacity="1" stroke="none" stroke-width="1" rx="0"/>
<text x="33.5" y="81.8" font-size="10.2" text-anchor="start" fill="#111" stroke="#111" stroke-width="0.26" textLength="56.5" lengthAdjust="spacingAndGlyphs">Cluster-1 &amp; 4</text>
<rect x="87.3" y="164.2" width="58" height="10" fill="#fff" fill-opacity="1" stroke="none" stroke-width="1" rx="0"/>
<text x="87.9" y="172.8" font-size="10.2" text-anchor="start" fill="#111" stroke="#111" stroke-width="0.26" textLength="56.6" lengthAdjust="spacingAndGlyphs">Cluster-2 &amp; 3</text>
<rect x="35.3" y="29.5" width="47.3" height="18.7" fill="#fff" fill-opacity="0.85" stroke="#d8d8d8" stroke-width="0.8" rx="1.5"/>
<line x1="36.8" y1="34.1" x2="48.8" y2="34.1" stroke="#ee3333" stroke-width="1.4"/>
<line x1="36.8" y1="42.8" x2="48.8" y2="42.8" stroke="#229922" stroke-width="1.4"/>
<text x="52.8" y="36.3" font-size="6.3" text-anchor="start" fill="#333" stroke="#333" stroke-width="0.08" textLength="21" lengthAdjust="spacingAndGlyphs">Loading</text>
<text x="52.8" y="45" font-size="6.3" text-anchor="start" fill="#333" stroke="#333" stroke-width="0.08" textLength="27.2" lengthAdjust="spacingAndGlyphs">Unloading</text>
<line x1="272.4" y1="26.5" x2="272.4" y2="174.5" stroke="#808080" stroke-width="1.3"/>
<line x1="457.3" y1="26.5" x2="457.3" y2="174.5" stroke="#777" stroke-width="1.3"/>
<line x1="271.9" y1="27" x2="457.8" y2="27" stroke="#c8c8c8" stroke-width="1.8"/>
<line x1="271.9" y1="174" x2="457.8" y2="174" stroke="#777" stroke-width="1.3"/>
<clipPath id="c2"><rect x="272.4" y="27" width="184.9" height="147"/></clipPath><g clip-path="url(#c2)">
<circle cx="446.07" cy="50.96" r="1.05" fill="#118811" fill-opacity="1"/>
<circle cx="285.65" cy="159.2" r="1.05" fill="#118811" fill-opacity="1"/>
<circle cx="368.76" cy="52.47" r="1.05" fill="#118811" fill-opacity="1"/>
<circle cx="296.39" cy="141.13" r="1.05" fill="#118811" fill-opacity="1"/>
<circle cx="298.1" cy="138.27" r="1.05" fill="#118811" fill-opacity="1"/>
<circle cx="296.55" cy="140.49" r="1.05" fill="#118811" fill-opacity="1"/>
<circle cx="292.33" cy="147.71" r="1.05" fill="#118811" fill-opacity="1"/>
<circle cx="375.09" cy="48.03" r="1.05" fill="#118811" fill-opacity="1"/>
<circle cx="287.45" cy="155.95" r="1.05" fill="#118811" fill-opacity="1"/>
<circle cx="385.61" cy="45.24" r="1.05" fill="#118811" fill-opacity="1"/>
<circle cx="324.19" cy="96.2" r="1.05" fill="#118811" fill-opacity="1"/>
<circle cx="381.4" cy="47.71" r="1.05" fill="#118811" fill-opacity="1"/>
<circle cx="389.81" cy="46.96" r="1.05" fill="#118811" fill-opacity="1"/>
<circle cx="362.08" cy="60.55" r="1.05" fill="#118811" fill-opacity="1"/>
<circle cx="325.76" cy="94.39" r="1.05" fill="#118811" fill-opacity="1"/>
<circle cx="290.85" cy="150.2" r="1.05" fill="#118811" fill-opacity="1"/>
<circle cx="340.26" cy="74.99" r="1.05" fill="#118811" fill-opacity="1"/>
<circle cx="302.31" cy="131.23" r="1.05" fill="#118811" fill-opacity="1"/>
<circle cx="382.27" cy="47.73" r="1.05" fill="#118811" fill-opacity="1"/>
<circle cx="295.96" cy="141.69" r="1.05" fill="#118811" fill-opacity="1"/>
<circle cx="287.25" cy="156.51" r="1.05" fill="#118811" fill-opacity="1"/>
<circle cx="340.43" cy="74.72" r="1.05" fill="#118811" fill-opacity="1"/>
<circle cx="378.99" cy="46.36" r="1.05" fill="#118811" fill-opacity="1"/>
<circle cx="381.92" cy="49.71" r="1.05" fill="#118811" fill-opacity="1"/>
<circle cx="419.56" cy="48.54" r="1.05" fill="#118811" fill-opacity="1"/>
<circle cx="401.66" cy="50.41" r="1.05" fill="#118811" fill-opacity="1"/>
<circle cx="418.83" cy="45.61" r="1.05" fill="#118811" fill-opacity="1"/>
<circle cx="286.38" cy="157.89" r="1.05" fill="#118811" fill-opacity="1"/>
<circle cx="397.73" cy="45.47" r="1.05" fill="#118811" fill-opacity="1"/>
<circle cx="379.17" cy="47.95" r="1.05" fill="#118811" fill-opacity="1"/>
<circle cx="285.5" cy="159.37" r="1.05" fill="#118811" fill-opacity="1"/>
<circle cx="439.9" cy="44.25" r="1.05" fill="#118811" fill-opacity="1"/>
<circle cx="326.93" cy="94.09" r="1.05" fill="#118811" fill-opacity="1"/>
<circle cx="289.47" cy="152.6" r="1.05" fill="#118811" fill-opacity="1"/>
<circle cx="421.12" cy="44.72" r="1.05" fill="#118811" fill-opacity="1"/>
<circle cx="317.03" cy="108.44" r="1.05" fill="#118811" fill-opacity="1"/>
<circle cx="361.63" cy="54.36" r="1.05" fill="#118811" fill-opacity="1"/>
<circle cx="287.48" cy="156.18" r="1.05" fill="#118811" fill-opacity="1"/>
<circle cx="363.98" cy="57.4" r="1.05" fill="#118811" fill-opacity="1"/>
<circle cx="437.92" cy="44.79" r="1.05" fill="#118811" fill-opacity="1"/>
<circle cx="443.03" cy="48.41" r="1.05" fill="#118811" fill-opacity="1"/>
<circle cx="357.37" cy="58.15" r="1.05" fill="#118811" fill-opacity="1"/>
<circle cx="292.38" cy="147.41" r="1.05" fill="#118811" fill-opacity="1"/>
<circle cx="429.56" cy="44.19" r="1.05" fill="#118811" fill-opacity="1"/>
<circle cx="324.39" cy="97.13" r="1.05" fill="#118811" fill-opacity="1"/>
<circle cx="347.37" cy="66.38" r="1.05" fill="#118811" fill-opacity="1"/>
<circle cx="328.65" cy="91.31" r="1.05" fill="#118811" fill-opacity="1"/>
<circle cx="423.17" cy="42.77" r="1.05" fill="#118811" fill-opacity="1"/>
<circle cx="388.72" cy="47.4" r="1.05" fill="#118811" fill-opacity="1"/>
<circle cx="368.59" cy="52.52" r="1.05" fill="#118811" fill-opacity="1"/>
<circle cx="286.38" cy="157.76" r="1.05" fill="#118811" fill-opacity="1"/>
<circle cx="321.7" cy="100.25" r="1.05" fill="#118811" fill-opacity="1"/>
<circle cx="342.07" cy="74.08" r="1.05" fill="#118811" fill-opacity="1"/>
<circle cx="417.02" cy="49.6" r="1.05" fill="#118811" fill-opacity="1"/>
<circle cx="289.02" cy="153.67" r="1.05" fill="#118811" fill-opacity="1"/>
<circle cx="288.01" cy="155.17" r="1.05" fill="#118811" fill-opacity="1"/>
<circle cx="292.19" cy="148.19" r="1.05" fill="#118811" fill-opacity="1"/>
<circle cx="402" cy="42.93" r="1.05" fill="#118811" fill-opacity="1"/>
<circle cx="444.97" cy="44.42" r="1.05" fill="#118811" fill-opacity="1"/>
<circle cx="396.84" cy="50.35" r="1.05" fill="#118811" fill-opacity="1"/>
<circle cx="416.76" cy="46.91" r="1.05" fill="#118811" fill-opacity="1"/>
<circle cx="373.66" cy="48.77" r="1.05" fill="#118811" fill-opacity="1"/>
<circle cx="301.17" cy="132.88" r="1.05" fill="#118811" fill-opacity="1"/>
<circle cx="410.72" cy="43.29" r="1.05" fill="#118811" fill-opacity="1"/>
<circle cx="339.28" cy="75.73" r="1.05" fill="#118811" fill-opacity="1"/>
<circle cx="300.18" cy="134.98" r="1.05" fill="#118811" fill-opacity="1"/>
<circle cx="396.8" cy="40.36" r="1.05" fill="#118811" fill-opacity="1"/>
<circle cx="422.86" cy="46.24" r="1.05" fill="#118811" fill-opacity="1"/>
<circle cx="387.6" cy="45.88" r="1.05" fill="#118811" fill-opacity="1"/>
<circle cx="328.25" cy="90.27" r="1.05" fill="#118811" fill-opacity="1"/>
<circle cx="377.09" cy="49.51" r="1.05" fill="#118811" fill-opacity="1"/>
<circle cx="318.18" cy="106.31" r="1.05" fill="#118811" fill-opacity="1"/>
<circle cx="432.28" cy="41.7" r="1.05" fill="#118811" fill-opacity="1"/>
<circle cx="306.53" cy="124.95" r="1.05" fill="#118811" fill-opacity="1"/>
<circle cx="378.57" cy="49.3" r="1.05" fill="#118811" fill-opacity="1"/>
<circle cx="323.91" cy="98.58" r="1.05" fill="#118811" fill-opacity="1"/>
<circle cx="332.92" cy="86.68" r="1.05" fill="#118811" fill-opacity="1"/>
<circle cx="289.82" cy="152.41" r="1.05" fill="#118811" fill-opacity="1"/>
<circle cx="325.87" cy="93.71" r="1.05" fill="#118811" fill-opacity="1"/>
<circle cx="429.07" cy="43.44" r="1.05" fill="#118811" fill-opacity="1"/>
<circle cx="356.95" cy="59.83" r="1.05" fill="#118811" fill-opacity="1"/>
<circle cx="338.55" cy="76.88" r="1.05" fill="#118811" fill-opacity="1"/>
<circle cx="386.72" cy="45.34" r="1.05" fill="#118811" fill-opacity="1"/>
<circle cx="285.98" cy="158.64" r="1.05" fill="#118811" fill-opacity="1"/>
<circle cx="386.42" cy="46.21" r="1.05" fill="#118811" fill-opacity="1"/>
<circle cx="393.13" cy="44.29" r="1.05" fill="#118811" fill-opacity="1"/>
<circle cx="405.97" cy="42.33" r="1.05" fill="#118811" fill-opacity="1"/>
<circle cx="441.12" cy="45.29" r="1.05" fill="#118811" fill-opacity="1"/>
<circle cx="424.72" cy="48.82" r="1.05" fill="#118811" fill-opacity="1"/>
<circle cx="400.98" cy="49.73" r="1.05" fill="#118811" fill-opacity="1"/>
<circle cx="366.47" cy="53.31" r="1.05" fill="#118811" fill-opacity="1"/>
<circle cx="285.81" cy="158.86" r="1.05" fill="#118811" fill-opacity="1"/>
<circle cx="289.69" cy="152.01" r="1.05" fill="#118811" fill-opacity="1"/>
<circle cx="419.49" cy="41.53" r="1.05" fill="#118811" fill-opacity="1"/>
<circle cx="403.51" cy="39.59" r="1.05" fill="#118811" fill-opacity="1"/>
<circle cx="442.33" cy="50.84" r="1.05" fill="#118811" fill-opacity="1"/>
<circle cx="285.89" cy="158.7" r="1.05" fill="#118811" fill-opacity="1"/>
<circle cx="363.61" cy="55.44" r="1.05" fill="#118811" fill-opacity="1"/>
<circle cx="408.14" cy="42.52" r="1.05" fill="#118811" fill-opacity="1"/>
<circle cx="350.29" cy="63.61" r="1.05" fill="#118811" fill-opacity="1"/>
<circle cx="289.55" cy="152.76" r="1.05" fill="#118811" fill-opacity="1"/>
<circle cx="441.96" cy="43.28" r="1.05" fill="#118811" fill-opacity="1"/>
<circle cx="300.21" cy="134.76" r="1.05" fill="#118811" fill-opacity="1"/>
<circle cx="307.88" cy="123.29" r="1.05" fill="#118811" fill-opacity="1"/>
<circle cx="346.91" cy="68.01" r="1.05" fill="#118811" fill-opacity="1"/>
<circle cx="336.65" cy="82.64" r="1.05" fill="#118811" fill-opacity="1"/>
<circle cx="400.99" cy="44.41" r="1.05" fill="#118811" fill-opacity="1"/>
<circle cx="344.15" cy="72.36" r="1.05" fill="#118811" fill-opacity="1"/>
<circle cx="373.19" cy="49.03" r="1.05" fill="#118811" fill-opacity="1"/>
<circle cx="396.22" cy="44.58" r="1.05" fill="#118811" fill-opacity="1"/>
<circle cx="287.14" cy="156.51" r="1.05" fill="#118811" fill-opacity="1"/>
<circle cx="376.68" cy="48.25" r="1.05" fill="#118811" fill-opacity="1"/>
<circle cx="437.55" cy="43.59" r="1.05" fill="#118811" fill-opacity="1"/>
<circle cx="288.05" cy="155.01" r="1.05" fill="#118811" fill-opacity="1"/>
<circle cx="348.02" cy="65.57" r="1.05" fill="#118811" fill-opacity="1"/>
<circle cx="351.52" cy="63.04" r="1.05" fill="#118811" fill-opacity="1"/>
<circle cx="296.87" cy="140.13" r="1.05" fill="#118811" fill-opacity="1"/>
<circle cx="365.7" cy="49.99" r="1.05" fill="#118811" fill-opacity="1"/>
<circle cx="287.2" cy="156.32" r="1.05" fill="#118811" fill-opacity="1"/>
<circle cx="296.84" cy="140.48" r="1.05" fill="#118811" fill-opacity="1"/>
<circle cx="413.64" cy="47.87" r="1.05" fill="#118811" fill-opacity="1"/>
<circle cx="392.94" cy="44.45" r="1.05" fill="#118811" fill-opacity="1"/>
<circle cx="293.82" cy="144.9" r="1.05" fill="#118811" fill-opacity="1"/>
<circle cx="428.4" cy="44.12" r="1.05" fill="#118811" fill-opacity="1"/>
<circle cx="434.71" cy="54.41" r="1.05" fill="#118811" fill-opacity="1"/>
<circle cx="431.09" cy="37.14" r="1.05" fill="#118811" fill-opacity="1"/>
<circle cx="290.92" cy="150.81" r="1.05" fill="#118811" fill-opacity="1"/>
<circle cx="324.57" cy="95.61" r="1.05" fill="#118811" fill-opacity="1"/>
<circle cx="333.45" cy="85.19" r="1.05" fill="#118811" fill-opacity="1"/>
<circle cx="308.98" cy="120.54" r="1.05" fill="#118811" fill-opacity="1"/>
<circle cx="288.52" cy="154.13" r="1.05" fill="#118811" fill-opacity="1"/>
<circle cx="430.1" cy="43.72" r="1.05" fill="#118811" fill-opacity="1"/>
<circle cx="285.26" cy="159.73" r="1.05" fill="#118811" fill-opacity="1"/>
<circle cx="311.18" cy="118.57" r="1.05" fill="#118811" fill-opacity="1"/>
<circle cx="435.45" cy="45.14" r="1.05" fill="#118811" fill-opacity="1"/>
<circle cx="288.31" cy="154.67" r="1.05" fill="#118811" fill-opacity="1"/>
<circle cx="409.84" cy="47.93" r="1.05" fill="#118811" fill-opacity="1"/>
<circle cx="288.97" cy="153.28" r="1.05" fill="#118811" fill-opacity="1"/>
<circle cx="401.79" cy="44.19" r="1.05" fill="#118811" fill-opacity="1"/>
<circle cx="350.26" cy="64" r="1.05" fill="#118811" fill-opacity="1"/>
<circle cx="366.62" cy="58.21" r="1.05" fill="#118811" fill-opacity="1"/>
<circle cx="380.97" cy="50.78" r="1.05" fill="#118811" fill-opacity="1"/>
<circle cx="377.3" cy="49.44" r="1.05" fill="#118811" fill-opacity="1"/>
<circle cx="402.37" cy="46.58" r="1.05" fill="#118811" fill-opacity="1"/>
<circle cx="290.84" cy="150.61" r="1.05" fill="#118811" fill-opacity="1"/>
<circle cx="415.87" cy="42.8" r="1.05" fill="#118811" fill-opacity="1"/>
<circle cx="288.84" cy="153.56" r="1.05" fill="#118811" fill-opacity="1"/>
<circle cx="291.15" cy="149.79" r="1.05" fill="#118811" fill-opacity="1"/>
<circle cx="362.24" cy="58.93" r="1.05" fill="#118811" fill-opacity="1"/>
<circle cx="374.9" cy="53.91" r="1.05" fill="#118811" fill-opacity="1"/>
<circle cx="438.07" cy="36.97" r="1.05" fill="#118811" fill-opacity="1"/>
<circle cx="316.27" cy="109.95" r="1.05" fill="#118811" fill-opacity="1"/>
<circle cx="301.11" cy="133.98" r="1.05" fill="#118811" fill-opacity="1"/>
<circle cx="352.47" cy="61.47" r="1.05" fill="#118811" fill-opacity="1"/>
<circle cx="338.05" cy="80.33" r="1.05" fill="#118811" fill-opacity="1"/>
<circle cx="287.73" cy="155.74" r="1.05" fill="#118811" fill-opacity="1"/>
<circle cx="380.54" cy="47.64" r="1.05" fill="#118811" fill-opacity="1"/>
<circle cx="285.78" cy="158.84" r="1.05" fill="#118811" fill-opacity="1"/>
<circle cx="312.44" cy="114.68" r="1.05" fill="#118811" fill-opacity="1"/>
<circle cx="414.45" cy="44.89" r="1.05" fill="#118811" fill-opacity="1"/>
<circle cx="332.01" cy="85.53" r="1.05" fill="#118811" fill-opacity="1"/>
<circle cx="390.39" cy="48.9" r="1.05" fill="#118811" fill-opacity="1"/>
<circle cx="332.22" cy="85.14" r="1.05" fill="#118811" fill-opacity="1"/>
<circle cx="317.98" cy="107.23" r="1.05" fill="#118811" fill-opacity="1"/>
<circle cx="285.51" cy="159.44" r="1.05" fill="#118811" fill-opacity="1"/>
<circle cx="285.45" cy="159.68" r="1.05" fill="#118811" fill-opacity="1"/>
<circle cx="369.26" cy="52.41" r="1.05" fill="#118811" fill-opacity="1"/>
<circle cx="307.99" cy="122.34" r="1.05" fill="#118811" fill-opacity="1"/>
<circle cx="387.65" cy="47.76" r="1.05" fill="#118811" fill-opacity="1"/>
<circle cx="306.89" cy="124.22" r="1.05" fill="#118811" fill-opacity="1"/>
<circle cx="290.2" cy="151.37" r="1.05" fill="#118811" fill-opacity="1"/>
<circle cx="393.52" cy="45.15" r="1.05" fill="#118811" fill-opacity="1"/>
<circle cx="404.72" cy="41.93" r="1.05" fill="#118811" fill-opacity="1"/>
<circle cx="308.51" cy="121.04" r="1.05" fill="#118811" fill-opacity="1"/>
<circle cx="331.45" cy="87.03" r="1.05" fill="#118811" fill-opacity="1"/>
<circle cx="372.64" cy="51.08" r="1.05" fill="#118811" fill-opacity="1"/>
<circle cx="364.7" cy="54.58" r="1.05" fill="#118811" fill-opacity="1"/>
<circle cx="439.52" cy="44.55" r="1.05" fill="#118811" fill-opacity="1"/>
<circle cx="285.78" cy="159" r="1.05" fill="#118811" fill-opacity="1"/>
<circle cx="389.26" cy="45.56" r="1.05" fill="#118811" fill-opacity="1"/>
<circle cx="317.63" cy="106.61" r="1.05" fill="#118811" fill-opacity="1"/>
<circle cx="361.78" cy="55.54" r="1.05" fill="#118811" fill-opacity="1"/>
<circle cx="434.22" cy="44.13" r="1.05" fill="#118811" fill-opacity="1"/>
<circle cx="375.85" cy="48.62" r="1.05" fill="#118811" fill-opacity="1"/>
<circle cx="378.87" cy="49.89" r="1.05" fill="#118811" fill-opacity="1"/>
<circle cx="422.51" cy="47.17" r="1.05" fill="#118811" fill-opacity="1"/>
<circle cx="306.35" cy="124.88" r="1.05" fill="#118811" fill-opacity="1"/>
<circle cx="332.42" cy="84.68" r="1.05" fill="#118811" fill-opacity="1"/>
<circle cx="392.23" cy="44.68" r="1.05" fill="#118811" fill-opacity="1"/>
<circle cx="344.06" cy="70.95" r="1.05" fill="#118811" fill-opacity="1"/>
<circle cx="289.81" cy="151.94" r="1.05" fill="#118811" fill-opacity="1"/>
<circle cx="292.34" cy="148.15" r="1.05" fill="#118811" fill-opacity="1"/>
<circle cx="391.56" cy="46.19" r="1.05" fill="#118811" fill-opacity="1"/>
<circle cx="342.92" cy="73.01" r="1.05" fill="#118811" fill-opacity="1"/>
<circle cx="285.6" cy="159.3" r="1.05" fill="#118811" fill-opacity="1"/>
<circle cx="298.55" cy="137.89" r="1.05" fill="#118811" fill-opacity="1"/>
<circle cx="318.52" cy="104.53" r="1.05" fill="#118811" fill-opacity="1"/>
<circle cx="371.16" cy="53.01" r="1.05" fill="#118811" fill-opacity="1"/>
<circle cx="288.21" cy="154.81" r="1.05" fill="#118811" fill-opacity="1"/>
<circle cx="336.55" cy="79.9" r="1.05" fill="#118811" fill-opacity="1"/>
<circle cx="288.92" cy="153.18" r="1.05" fill="#118811" fill-opacity="1"/>
<circle cx="305.48" cy="126.75" r="1.05" fill="#118811" fill-opacity="1"/>
<circle cx="307.54" cy="123.17" r="1.05" fill="#118811" fill-opacity="1"/>
<circle cx="376.89" cy="49.66" r="1.05" fill="#118811" fill-opacity="1"/>
<circle cx="333.65" cy="86.83" r="1.05" fill="#118811" fill-opacity="1"/>
<circle cx="323.34" cy="99.33" r="1.05" fill="#118811" fill-opacity="1"/>
<circle cx="435.15" cy="49.2" r="1.05" fill="#118811" fill-opacity="1"/>
<circle cx="342.33" cy="71.47" r="1.05" fill="#118811" fill-opacity="1"/>
<circle cx="374.73" cy="49.88" r="1.05" fill="#118811" fill-opacity="1"/>
<circle cx="364.77" cy="54.77" r="1.05" fill="#118811" fill-opacity="1"/>
<circle cx="435.05" cy="49.21" r="1.05" fill="#118811" fill-opacity="1"/>
<circle cx="408.33" cy="46.23" r="1.05" fill="#118811" fill-opacity="1"/>
<circle cx="365.49" cy="54.67" r="1.05" fill="#118811" fill-opacity="1"/>
<circle cx="286.63" cy="157.71" r="1.05" fill="#118811" fill-opacity="1"/>
<circle cx="405.99" cy="37.89" r="1.05" fill="#118811" fill-opacity="1"/>
<circle cx="286.37" cy="157.68" r="1.05" fill="#118811" fill-opacity="1"/>
<circle cx="288.44" cy="154.7" r="1.05" fill="#118811" fill-opacity="1"/>
<circle cx="290.31" cy="151.57" r="1.05" fill="#118811" fill-opacity="1"/>
<circle cx="289.43" cy="152.75" r="1.05" fill="#118811" fill-opacity="1"/>
<circle cx="290.47" cy="150.77" r="1.05" fill="#118811" fill-opacity="1"/>
<circle cx="290.79" cy="150.61" r="1.05" fill="#118811" fill-opacity="1"/>
<circle cx="368.37" cy="51.14" r="1.05" fill="#118811" fill-opacity="1"/>
<circle cx="435.34" cy="46.46" r="1.05" fill="#118811" fill-opacity="1"/>
<circle cx="310.59" cy="117.54" r="1.05" fill="#118811" fill-opacity="1"/>
<circle cx="356.6" cy="57.59" r="1.05" fill="#118811" fill-opacity="1"/>
<circle cx="410.32" cy="44.86" r="1.05" fill="#118811" fill-opacity="1"/>
<circle cx="287.22" cy="156.4" r="1.05" fill="#118811" fill-opacity="1"/>
<circle cx="395.46" cy="46.14" r="1.05" fill="#118811" fill-opacity="1"/>
<circle cx="422.77" cy="45.77" r="1.05" fill="#118811" fill-opacity="1"/>
<circle cx="370.97" cy="53.47" r="1.05" fill="#118811" fill-opacity="1"/>
<circle cx="388.13" cy="46.11" r="1.05" fill="#118811" fill-opacity="1"/>
<circle cx="287.25" cy="156.53" r="1.05" fill="#118811" fill-opacity="1"/>
<circle cx="412.56" cy="44.08" r="1.05" fill="#118811" fill-opacity="1"/>
<circle cx="366.77" cy="54.54" r="1.05" fill="#118811" fill-opacity="1"/>
<circle cx="286.63" cy="157.24" r="1.05" fill="#118811" fill-opacity="1"/>
<circle cx="421.46" cy="45.45" r="1.05" fill="#118811" fill-opacity="1"/>
<circle cx="351.85" cy="63.49" r="1.05" fill="#118811" fill-opacity="1"/>
<circle cx="289.02" cy="153.54" r="1.05" fill="#118811" fill-opacity="1"/>
<circle cx="382.97" cy="47.67" r="1.05" fill="#118811" fill-opacity="1"/>
<circle cx="339.21" cy="78.13" r="1.05" fill="#118811" fill-opacity="1"/>
<circle cx="349.91" cy="66.72" r="1.05" fill="#118811" fill-opacity="1"/>
<circle cx="399.33" cy="47.59" r="1.05" fill="#118811" fill-opacity="1"/>
<circle cx="287.06" cy="156.74" r="1.05" fill="#118811" fill-opacity="1"/>
<circle cx="285.23" cy="159.96" r="1.05" fill="#118811" fill-opacity="1"/>
<circle cx="306.09" cy="125.81" r="1.05" fill="#118811" fill-opacity="1"/>
<circle cx="366.45" cy="53.76" r="1.05" fill="#118811" fill-opacity="1"/>
<circle cx="291.77" cy="148.68" r="1.05" fill="#118811" fill-opacity="1"/>
<circle cx="422.33" cy="49.38" r="1.05" fill="#118811" fill-opacity="1"/>
<circle cx="403.97" cy="43.2" r="1.05" fill="#118811" fill-opacity="1"/>
<circle cx="291.69" cy="149.23" r="1.05" fill="#118811" fill-opacity="1"/>
<circle cx="322.03" cy="99.82" r="1.05" fill="#118811" fill-opacity="1"/>
<circle cx="287.87" cy="155.34" r="1.05" fill="#118811" fill-opacity="1"/>
<circle cx="286.76" cy="157.14" r="1.05" fill="#118811" fill-opacity="1"/>
<circle cx="405.95" cy="45.05" r="1.05" fill="#118811" fill-opacity="1"/>
<circle cx="316.16" cy="107.93" r="1.05" fill="#118811" fill-opacity="1"/>
<circle cx="324.62" cy="97.24" r="1.05" fill="#118811" fill-opacity="1"/>
<circle cx="362.39" cy="56.99" r="1.05" fill="#118811" fill-opacity="1"/>
<circle cx="411.97" cy="44.2" r="1.05" fill="#118811" fill-opacity="1"/>
<circle cx="426.25" cy="46.82" r="1.05" fill="#118811" fill-opacity="1"/>
<circle cx="434.99" cy="50.78" r="1.05" fill="#118811" fill-opacity="1"/>
<circle cx="356.83" cy="59.45" r="1.05" fill="#118811" fill-opacity="1"/>
<circle cx="403.59" cy="48.45" r="1.05" fill="#118811" fill-opacity="1"/>
<circle cx="320.28" cy="103.46" r="1.05" fill="#118811" fill-opacity="1"/>
<circle cx="412.24" cy="42.69" r="1.05" fill="#118811" fill-opacity="1"/>
<circle cx="289.08" cy="153.23" r="1.05" fill="#118811" fill-opacity="1"/>
<circle cx="289.62" cy="152.6" r="1.05" fill="#118811" fill-opacity="1"/>
<circle cx="312.45" cy="115.18" r="1.05" fill="#118811" fill-opacity="1"/>
<circle cx="288.28" cy="154.68" r="1.05" fill="#118811" fill-opacity="1"/>
<circle cx="285.17" cy="160.27" r="1.05" fill="#118811" fill-opacity="1"/>
<circle cx="342.41" cy="73.6" r="1.05" fill="#118811" fill-opacity="1"/>
<circle cx="301.54" cy="132.6" r="1.05" fill="#118811" fill-opacity="1"/>
<circle cx="289.59" cy="152.46" r="1.05" fill="#118811" fill-opacity="1"/>
<circle cx="366.62" cy="53.52" r="1.05" fill="#118811" fill-opacity="1"/>
<circle cx="387.14" cy="48.95" r="1.05" fill="#118811" fill-opacity="1"/>
<circle cx="316.94" cy="108.96" r="1.05" fill="#118811" fill-opacity="1"/>
<circle cx="326.69" cy="93.17" r="1.05" fill="#118811" fill-opacity="1"/>
<circle cx="419.53" cy="41.28" r="1.05" fill="#118811" fill-opacity="1"/>
<circle cx="290.06" cy="151.56" r="1.05" fill="#118811" fill-opacity="1"/>
<circle cx="304.03" cy="128.64" r="1.05" fill="#118811" fill-opacity="1"/>
<circle cx="425.68" cy="47.75" r="1.05" fill="#118811" fill-opacity="1"/>
<circle cx="339.72" cy="76.31" r="1.05" fill="#118811" fill-opacity="1"/>
<circle cx="302" cy="132.08" r="1.05" fill="#118811" fill-opacity="1"/>
<circle cx="434.81" cy="46.39" r="1.05" fill="#118811" fill-opacity="1"/>
<circle cx="365.33" cy="55.28" r="1.05" fill="#118811" fill-opacity="1"/>
<circle cx="313.67" cy="113.4" r="1.05" fill="#118811" fill-opacity="1"/>
<circle cx="290.13" cy="151.32" r="1.05" fill="#118811" fill-opacity="1"/>
<circle cx="336.6" cy="79.28" r="1.05" fill="#118811" fill-opacity="1"/>
<circle cx="336.85" cy="79.24" r="1.05" fill="#118811" fill-opacity="1"/>
<circle cx="287.69" cy="155.64" r="1.05" fill="#118811" fill-opacity="1"/>
<circle cx="323.3" cy="98.77" r="1.05" fill="#118811" fill-opacity="1"/>
<circle cx="364.08" cy="52.81" r="1.05" fill="#118811" fill-opacity="1"/>
<circle cx="399.31" cy="42.37" r="1.05" fill="#118811" fill-opacity="1"/>
<circle cx="428.01" cy="42.8" r="1.05" fill="#118811" fill-opacity="1"/>
<circle cx="332.38" cy="85.47" r="1.05" fill="#118811" fill-opacity="1"/>
<circle cx="370.54" cy="53.42" r="1.05" fill="#118811" fill-opacity="1"/>
<circle cx="381.14" cy="46.03" r="1.05" fill="#118811" fill-opacity="1"/>
<circle cx="394.76" cy="47.31" r="1.05" fill="#118811" fill-opacity="1"/>
<circle cx="310.4" cy="118.81" r="1.05" fill="#118811" fill-opacity="1"/>
<circle cx="429.12" cy="45.99" r="1.05" fill="#118811" fill-opacity="1"/>
<circle cx="384.39" cy="45.29" r="1.05" fill="#118811" fill-opacity="1"/>
<circle cx="288.43" cy="154.45" r="1.05" fill="#118811" fill-opacity="1"/>
<circle cx="290.73" cy="150.62" r="1.05" fill="#118811" fill-opacity="1"/>
<circle cx="299.39" cy="135.67" r="1.05" fill="#118811" fill-opacity="1"/>
<circle cx="394.71" cy="43.87" r="1.05" fill="#118811" fill-opacity="1"/>
<circle cx="288.51" cy="154.22" r="1.05" fill="#118811" fill-opacity="1"/>
<circle cx="371.74" cy="50.14" r="1.05" fill="#118811" fill-opacity="1"/>
<circle cx="423.4" cy="48.79" r="1.05" fill="#118811" fill-opacity="1"/>
<circle cx="288.64" cy="154.33" r="1.05" fill="#118811" fill-opacity="1"/>
<circle cx="389.79" cy="42.58" r="1.05" fill="#118811" fill-opacity="1"/>
<circle cx="414.46" cy="40.72" r="1.05" fill="#118811" fill-opacity="1"/>
<circle cx="438.52" cy="51.3" r="1.05" fill="#118811" fill-opacity="1"/>
<circle cx="310.14" cy="118.03" r="1.05" fill="#118811" fill-opacity="1"/>
<circle cx="405.71" cy="47.17" r="1.05" fill="#118811" fill-opacity="1"/>
<circle cx="288.18" cy="154.83" r="1.05" fill="#118811" fill-opacity="1"/>
<circle cx="354.58" cy="60.32" r="1.05" fill="#118811" fill-opacity="1"/>
<circle cx="388" cy="43.4" r="1.05" fill="#118811" fill-opacity="1"/>
<circle cx="335.96" cy="78.88" r="1.05" fill="#118811" fill-opacity="1"/>
<circle cx="329" cy="89.96" r="1.05" fill="#118811" fill-opacity="1"/>
<circle cx="382.89" cy="52.16" r="1.05" fill="#118811" fill-opacity="1"/>
<circle cx="339.22" cy="76.75" r="1.05" fill="#118811" fill-opacity="1"/>
<circle cx="280.8" cy="167.6" r="1.05" fill="#118811" fill-opacity="1"/>
<circle cx="281.26" cy="167.6" r="1.05" fill="#118811" fill-opacity="1"/>
<circle cx="320.04" cy="113.39" r="1.05" fill="#118811" fill-opacity="1"/>
<circle cx="341.67" cy="101.68" r="1.05" fill="#118811" fill-opacity="1"/>
<circle cx="346.62" cy="97.93" r="1.05" fill="#118811" fill-opacity="1"/>
<circle cx="347.24" cy="83.2" r="1.05" fill="#118811" fill-opacity="1"/>
<circle cx="367.63" cy="81.41" r="1.05" fill="#118811" fill-opacity="1"/>
<circle cx="396.23" cy="40.89" r="1.05" fill="#ff1a1a" fill-opacity="1"/>
<circle cx="434.9" cy="47.94" r="1.05" fill="#ff1a1a" fill-opacity="1"/>
<circle cx="410.86" cy="38.32" r="1.05" fill="#ff1a1a" fill-opacity="1"/>
<circle cx="375.42" cy="46.42" r="1.05" fill="#ff1a1a" fill-opacity="1"/>
<circle cx="435" cy="45.54" r="1.05" fill="#ff1a1a" fill-opacity="1"/>
<circle cx="319.62" cy="105.62" r="1.05" fill="#ff1a1a" fill-opacity="1"/>
<circle cx="375.89" cy="45.8" r="1.05" fill="#ff1a1a" fill-opacity="1"/>
<circle cx="389.91" cy="37.36" r="1.05" fill="#ff1a1a" fill-opacity="1"/>
<circle cx="295.94" cy="141.61" r="1.05" fill="#ff1a1a" fill-opacity="1"/>
<circle cx="431.88" cy="35.28" r="1.05" fill="#ff1a1a" fill-opacity="1"/>
<circle cx="414.01" cy="34.91" r="1.05" fill="#ff1a1a" fill-opacity="1"/>
<circle cx="324.49" cy="94.58" r="1.05" fill="#ff1a1a" fill-opacity="1"/>
<circle cx="395.53" cy="40.49" r="1.05" fill="#ff1a1a" fill-opacity="1"/>
<circle cx="426.63" cy="38.48" r="1.05" fill="#ff1a1a" fill-opacity="1"/>
<circle cx="336.95" cy="78.11" r="1.05" fill="#ff1a1a" fill-opacity="1"/>
<circle cx="426.75" cy="26.02" r="1.05" fill="#ff1a1a" fill-opacity="1"/>
<circle cx="349.8" cy="61.81" r="1.05" fill="#ff1a1a" fill-opacity="1"/>
<circle cx="403.18" cy="41.31" r="1.05" fill="#ff1a1a" fill-opacity="1"/>
<circle cx="336.16" cy="77.91" r="1.05" fill="#ff1a1a" fill-opacity="1"/>
<circle cx="437.67" cy="42.36" r="1.05" fill="#ff1a1a" fill-opacity="1"/>
<circle cx="429.25" cy="40.13" r="1.05" fill="#ff1a1a" fill-opacity="1"/>
<circle cx="329.44" cy="88.04" r="1.05" fill="#ff1a1a" fill-opacity="1"/>
<circle cx="325.78" cy="93.53" r="1.05" fill="#ff1a1a" fill-opacity="1"/>
<circle cx="393.69" cy="39.72" r="1.05" fill="#ff1a1a" fill-opacity="1"/>
<circle cx="292.19" cy="148.09" r="1.05" fill="#ff1a1a" fill-opacity="1"/>
<circle cx="352.97" cy="62.65" r="1.05" fill="#ff1a1a" fill-opacity="1"/>
<circle cx="420.36" cy="42.48" r="1.05" fill="#ff1a1a" fill-opacity="1"/>
<circle cx="377.55" cy="44.88" r="1.05" fill="#ff1a1a" fill-opacity="1"/>
<circle cx="406.52" cy="29.8" r="1.05" fill="#ff1a1a" fill-opacity="1"/>
<circle cx="298.97" cy="136.16" r="1.05" fill="#ff1a1a" fill-opacity="1"/>
<circle cx="412.07" cy="38.63" r="1.05" fill="#ff1a1a" fill-opacity="1"/>
<circle cx="416.67" cy="39.44" r="1.05" fill="#ff1a1a" fill-opacity="1"/>
<circle cx="361.34" cy="54.23" r="1.05" fill="#ff1a1a" fill-opacity="1"/>
<circle cx="305.29" cy="126.34" r="1.05" fill="#ff1a1a" fill-opacity="1"/>
<circle cx="332.07" cy="84.72" r="1.05" fill="#ff1a1a" fill-opacity="1"/>
<circle cx="412.79" cy="39.76" r="1.05" fill="#ff1a1a" fill-opacity="1"/>
<circle cx="433.42" cy="35.1" r="1.05" fill="#ff1a1a" fill-opacity="1"/>
<circle cx="359.67" cy="55.86" r="1.05" fill="#ff1a1a" fill-opacity="1"/>
<circle cx="383.41" cy="42.94" r="1.05" fill="#ff1a1a" fill-opacity="1"/>
<circle cx="411.9" cy="41.02" r="1.05" fill="#ff1a1a" fill-opacity="1"/>
<circle cx="417.81" cy="38" r="1.05" fill="#ff1a1a" fill-opacity="1"/>
<circle cx="435.28" cy="40.45" r="1.05" fill="#ff1a1a" fill-opacity="1"/>
<circle cx="315.19" cy="111.27" r="1.05" fill="#ff1a1a" fill-opacity="1"/>
<circle cx="432.08" cy="33.58" r="1.05" fill="#ff1a1a" fill-opacity="1"/>
<circle cx="357.48" cy="54.46" r="1.05" fill="#ff1a1a" fill-opacity="1"/>
<circle cx="353.35" cy="61.81" r="1.05" fill="#ff1a1a" fill-opacity="1"/>
<circle cx="354.01" cy="59.66" r="1.05" fill="#ff1a1a" fill-opacity="1"/>
<circle cx="326.36" cy="93.18" r="1.05" fill="#ff1a1a" fill-opacity="1"/>
<circle cx="404.6" cy="37.85" r="1.05" fill="#ff1a1a" fill-opacity="1"/>
<circle cx="305.73" cy="125.59" r="1.05" fill="#ff1a1a" fill-opacity="1"/>
<circle cx="439.97" cy="44.87" r="1.05" fill="#ff1a1a" fill-opacity="1"/>
<circle cx="341.55" cy="73.41" r="1.05" fill="#ff1a1a" fill-opacity="1"/>
<circle cx="392.51" cy="39.33" r="1.05" fill="#ff1a1a" fill-opacity="1"/>
<circle cx="369.31" cy="51.47" r="1.05" fill="#ff1a1a" fill-opacity="1"/>
<circle cx="307.43" cy="122.67" r="1.05" fill="#ff1a1a" fill-opacity="1"/>
<circle cx="379.23" cy="44.95" r="1.05" fill="#ff1a1a" fill-opacity="1"/>
<circle cx="422.73" cy="33.74" r="1.05" fill="#ff1a1a" fill-opacity="1"/>
<circle cx="435.74" cy="33.73" r="1.05" fill="#ff1a1a" fill-opacity="1"/>
<circle cx="397.19" cy="40.05" r="1.05" fill="#ff1a1a" fill-opacity="1"/>
<circle cx="371.11" cy="49.27" r="1.05" fill="#ff1a1a" fill-opacity="1"/>
<circle cx="326.43" cy="92.95" r="1.05" fill="#ff1a1a" fill-opacity="1"/>
<circle cx="373.7" cy="48.86" r="1.05" fill="#ff1a1a" fill-opacity="1"/>
<circle cx="441.4" cy="31.89" r="1.05" fill="#ff1a1a" fill-opacity="1"/>
<circle cx="373.75" cy="53.18" r="1.05" fill="#ff1a1a" fill-opacity="1"/>
<circle cx="378.5" cy="45.27" r="1.05" fill="#ff1a1a" fill-opacity="1"/>
<circle cx="350.06" cy="66.03" r="1.05" fill="#ff1a1a" fill-opacity="1"/>
<circle cx="366.77" cy="49.1" r="1.05" fill="#ff1a1a" fill-opacity="1"/>
<circle cx="440.16" cy="36.07" r="1.05" fill="#ff1a1a" fill-opacity="1"/>
<circle cx="436.89" cy="43.57" r="1.05" fill="#ff1a1a" fill-opacity="1"/>
<circle cx="357.26" cy="58.82" r="1.05" fill="#ff1a1a" fill-opacity="1"/>
<circle cx="314.77" cy="111.45" r="1.05" fill="#ff1a1a" fill-opacity="1"/>
<circle cx="426.16" cy="30.81" r="1.05" fill="#ff1a1a" fill-opacity="1"/>
<circle cx="360.63" cy="53.6" r="1.05" fill="#ff1a1a" fill-opacity="1"/>
<circle cx="405.27" cy="46.56" r="1.05" fill="#ff1a1a" fill-opacity="1"/>
<circle cx="401.45" cy="39.97" r="1.05" fill="#ff1a1a" fill-opacity="1"/>
<circle cx="406.5" cy="43.53" r="1.05" fill="#ff1a1a" fill-opacity="1"/>
<circle cx="348.48" cy="68.66" r="1.05" fill="#ff1a1a" fill-opacity="1"/>
<circle cx="404.81" cy="39.51" r="1.05" fill="#ff1a1a" fill-opacity="1"/>
<circle cx="350.5" cy="60.78" r="1.05" fill="#ff1a1a" fill-opacity="1"/>
<circle cx="390.79" cy="43.11" r="1.05" fill="#ff1a1a" fill-opacity="1"/>
<circle cx="295.42" cy="142.85" r="1.05" fill="#ff1a1a" fill-opacity="1"/>
<circle cx="402.4" cy="41.01" r="1.05" fill="#ff1a1a" fill-opacity="1"/>
<circle cx="375.05" cy="44.51" r="1.05" fill="#ff1a1a" fill-opacity="1"/>
<circle cx="417.86" cy="44.39" r="1.05" fill="#ff1a1a" fill-opacity="1"/>
<circle cx="358.66" cy="58.06" r="1.05" fill="#ff1a1a" fill-opacity="1"/>
<circle cx="421.52" cy="44.33" r="1.05" fill="#ff1a1a" fill-opacity="1"/>
<circle cx="358.97" cy="53.23" r="1.05" fill="#ff1a1a" fill-opacity="1"/>
<circle cx="404.49" cy="46.68" r="1.05" fill="#ff1a1a" fill-opacity="1"/>
<circle cx="438.76" cy="34.02" r="1.05" fill="#ff1a1a" fill-opacity="1"/>
<circle cx="384.03" cy="44.06" r="1.05" fill="#ff1a1a" fill-opacity="1"/>
<circle cx="329.48" cy="87.56" r="1.05" fill="#ff1a1a" fill-opacity="1"/>
<circle cx="377.01" cy="51.46" r="1.05" fill="#ff1a1a" fill-opacity="1"/>
<circle cx="404.88" cy="41.28" r="1.05" fill="#ff1a1a" fill-opacity="1"/>
<circle cx="330.48" cy="90.01" r="1.05" fill="#ff1a1a" fill-opacity="1"/>
<circle cx="415.78" cy="44.26" r="1.05" fill="#ff1a1a" fill-opacity="1"/>
<circle cx="369.18" cy="50.9" r="1.05" fill="#ff1a1a" fill-opacity="1"/>
<circle cx="396.34" cy="39.75" r="1.05" fill="#ff1a1a" fill-opacity="1"/>
<circle cx="408.47" cy="45.1" r="1.05" fill="#ff1a1a" fill-opacity="1"/>
<circle cx="300.33" cy="134.08" r="1.05" fill="#ff1a1a" fill-opacity="1"/>
<circle cx="399.69" cy="36.88" r="1.05" fill="#ff1a1a" fill-opacity="1"/>
<circle cx="338.55" cy="77.84" r="1.05" fill="#ff1a1a" fill-opacity="1"/>
<circle cx="304.08" cy="129.09" r="1.05" fill="#ff1a1a" fill-opacity="1"/>
<circle cx="376.23" cy="45.58" r="1.05" fill="#ff1a1a" fill-opacity="1"/>
<circle cx="323.51" cy="97.48" r="1.05" fill="#ff1a1a" fill-opacity="1"/>
<circle cx="354.09" cy="59.39" r="1.05" fill="#ff1a1a" fill-opacity="1"/>
<circle cx="302.49" cy="130.48" r="1.05" fill="#ff1a1a" fill-opacity="1"/>
<circle cx="375.38" cy="49.06" r="1.05" fill="#ff1a1a" fill-opacity="1"/>
<circle cx="392.02" cy="37.93" r="1.05" fill="#ff1a1a" fill-opacity="1"/>
<circle cx="341.64" cy="72.9" r="1.05" fill="#ff1a1a" fill-opacity="1"/>
<circle cx="366.99" cy="50.42" r="1.05" fill="#ff1a1a" fill-opacity="1"/>
<circle cx="348.12" cy="66.61" r="1.05" fill="#ff1a1a" fill-opacity="1"/>
<circle cx="421.9" cy="37.49" r="1.05" fill="#ff1a1a" fill-opacity="1"/>
<circle cx="362.46" cy="50.16" r="1.05" fill="#ff1a1a" fill-opacity="1"/>
<circle cx="315.94" cy="109.1" r="1.05" fill="#ff1a1a" fill-opacity="1"/>
<circle cx="386.14" cy="44.77" r="1.05" fill="#ff1a1a" fill-opacity="1"/>
<circle cx="436.72" cy="34.11" r="1.05" fill="#ff1a1a" fill-opacity="1"/>
<circle cx="420.36" cy="45.69" r="1.05" fill="#ff1a1a" fill-opacity="1"/>
<circle cx="398.7" cy="37.04" r="1.05" fill="#ff1a1a" fill-opacity="1"/>
<circle cx="361.82" cy="51.74" r="1.05" fill="#ff1a1a" fill-opacity="1"/>
<circle cx="388.59" cy="38.39" r="1.05" fill="#ff1a1a" fill-opacity="1"/>
<circle cx="436.59" cy="33.01" r="1.05" fill="#ff1a1a" fill-opacity="1"/>
<circle cx="359.13" cy="56.13" r="1.05" fill="#ff1a1a" fill-opacity="1"/>
<circle cx="429.21" cy="36.59" r="1.05" fill="#ff1a1a" fill-opacity="1"/>
<circle cx="388.85" cy="41.86" r="1.05" fill="#ff1a1a" fill-opacity="1"/>
<circle cx="395.24" cy="37.49" r="1.05" fill="#ff1a1a" fill-opacity="1"/>
<circle cx="428.96" cy="33.74" r="1.05" fill="#ff1a1a" fill-opacity="1"/>
<circle cx="362.75" cy="54.5" r="1.05" fill="#ff1a1a" fill-opacity="1"/>
<circle cx="350.14" cy="63.21" r="1.05" fill="#ff1a1a" fill-opacity="1"/>
<circle cx="438.34" cy="48.84" r="1.05" fill="#ff1a1a" fill-opacity="1"/>
<circle cx="431.58" cy="30.76" r="1.05" fill="#ff1a1a" fill-opacity="1"/>
<circle cx="392.75" cy="41.67" r="1.05" fill="#ff1a1a" fill-opacity="1"/>
<circle cx="379.6" cy="35.75" r="1.05" fill="#ff1a1a" fill-opacity="1"/>
<circle cx="368.43" cy="52.5" r="1.05" fill="#ff1a1a" fill-opacity="1"/>
<circle cx="378.98" cy="36.63" r="1.05" fill="#ff1a1a" fill-opacity="1"/>
<circle cx="349.35" cy="65.54" r="1.05" fill="#ff1a1a" fill-opacity="1"/>
<circle cx="396.08" cy="40.31" r="1.05" fill="#ff1a1a" fill-opacity="1"/>
<circle cx="372.35" cy="48.68" r="1.05" fill="#ff1a1a" fill-opacity="1"/>
<circle cx="421.35" cy="31.29" r="1.05" fill="#ff1a1a" fill-opacity="1"/>
<circle cx="295.97" cy="141.96" r="1.05" fill="#ff1a1a" fill-opacity="1"/>
<circle cx="434.07" cy="40.05" r="1.05" fill="#ff1a1a" fill-opacity="1"/>
<circle cx="415.97" cy="38.71" r="1.05" fill="#ff1a1a" fill-opacity="1"/>
<circle cx="327.43" cy="91.05" r="1.05" fill="#ff1a1a" fill-opacity="1"/>
<circle cx="440.21" cy="41.76" r="1.05" fill="#ff1a1a" fill-opacity="1"/>
<circle cx="376.65" cy="41.61" r="1.05" fill="#ff1a1a" fill-opacity="1"/>
<circle cx="399.03" cy="45.14" r="1.05" fill="#ff1a1a" fill-opacity="1"/>
<circle cx="320.59" cy="103.39" r="1.05" fill="#ff1a1a" fill-opacity="1"/>
<circle cx="413.36" cy="40.56" r="1.05" fill="#ff1a1a" fill-opacity="1"/>
<circle cx="356.91" cy="54.87" r="1.05" fill="#ff1a1a" fill-opacity="1"/>
<circle cx="350.96" cy="65.11" r="1.05" fill="#ff1a1a" fill-opacity="1"/>
<circle cx="360.59" cy="54.95" r="1.05" fill="#ff1a1a" fill-opacity="1"/>
<circle cx="411.49" cy="40.06" r="1.05" fill="#ff1a1a" fill-opacity="1"/>
<circle cx="343.99" cy="70.45" r="1.05" fill="#ff1a1a" fill-opacity="1"/>
<circle cx="374.04" cy="41.42" r="1.05" fill="#ff1a1a" fill-opacity="1"/>
<circle cx="386.19" cy="45.89" r="1.05" fill="#ff1a1a" fill-opacity="1"/>
<circle cx="296.42" cy="140.8" r="1.05" fill="#ff1a1a" fill-opacity="1"/>
<circle cx="390.13" cy="45.13" r="1.05" fill="#ff1a1a" fill-opacity="1"/>
<circle cx="406.96" cy="42.77" r="1.05" fill="#ff1a1a" fill-opacity="1"/>
<circle cx="431.34" cy="42.95" r="1.05" fill="#ff1a1a" fill-opacity="1"/>
<circle cx="364.14" cy="55.63" r="1.05" fill="#ff1a1a" fill-opacity="1"/>
<circle cx="334.75" cy="80.15" r="1.05" fill="#ff1a1a" fill-opacity="1"/>
<circle cx="350.9" cy="62.68" r="1.05" fill="#ff1a1a" fill-opacity="1"/>
<circle cx="422.48" cy="40.08" r="1.05" fill="#ff1a1a" fill-opacity="1"/>
<circle cx="405.27" cy="42.93" r="1.05" fill="#ff1a1a" fill-opacity="1"/>
<circle cx="415.83" cy="37.39" r="1.05" fill="#ff1a1a" fill-opacity="1"/>
<circle cx="431.22" cy="35.61" r="1.05" fill="#ff1a1a" fill-opacity="1"/>
<circle cx="386.65" cy="39.39" r="1.05" fill="#ff1a1a" fill-opacity="1"/>
<circle cx="379.79" cy="45.22" r="1.05" fill="#ff1a1a" fill-opacity="1"/>
<circle cx="391.46" cy="39.56" r="1.05" fill="#ff1a1a" fill-opacity="1"/>
<circle cx="419.56" cy="35.89" r="1.05" fill="#ff1a1a" fill-opacity="1"/>
<circle cx="420.49" cy="37.39" r="1.05" fill="#ff1a1a" fill-opacity="1"/>
<circle cx="417.16" cy="39.26" r="1.05" fill="#ff1a1a" fill-opacity="1"/>
<circle cx="408.74" cy="40.23" r="1.05" fill="#ff1a1a" fill-opacity="1"/>
<circle cx="439.05" cy="32.11" r="1.05" fill="#ff1a1a" fill-opacity="1"/>
<circle cx="305.81" cy="125.46" r="1.05" fill="#ff1a1a" fill-opacity="1"/>
<circle cx="423.17" cy="37.4" r="1.05" fill="#ff1a1a" fill-opacity="1"/>
<circle cx="436.02" cy="32.64" r="1.05" fill="#ff1a1a" fill-opacity="1"/>
<circle cx="407.48" cy="37.46" r="1.05" fill="#ff1a1a" fill-opacity="1"/>
<circle cx="432.07" cy="36.1" r="1.05" fill="#ff1a1a" fill-opacity="1"/>
<circle cx="326.51" cy="94.42" r="1.05" fill="#ff1a1a" fill-opacity="1"/>
<circle cx="328.59" cy="91.33" r="1.05" fill="#ff1a1a" fill-opacity="1"/>
<circle cx="396.17" cy="38.9" r="1.05" fill="#ff1a1a" fill-opacity="1"/>
<circle cx="363.24" cy="52.4" r="1.05" fill="#ff1a1a" fill-opacity="1"/>
<circle cx="311.12" cy="115.91" r="1.05" fill="#ff1a1a" fill-opacity="1"/>
<circle cx="411.16" cy="37.27" r="1.05" fill="#ff1a1a" fill-opacity="1"/>
<circle cx="427.46" cy="35.47" r="1.05" fill="#ff1a1a" fill-opacity="1"/>
<circle cx="353.67" cy="58.74" r="1.05" fill="#ff1a1a" fill-opacity="1"/>
<circle cx="393.32" cy="49.25" r="1.05" fill="#ff1a1a" fill-opacity="1"/>
<circle cx="362.51" cy="52.83" r="1.05" fill="#ff1a1a" fill-opacity="1"/>
<circle cx="307.44" cy="122.95" r="1.05" fill="#ff1a1a" fill-opacity="1"/>
<circle cx="397.31" cy="42.41" r="1.05" fill="#ff1a1a" fill-opacity="1"/>
<circle cx="380.89" cy="40.61" r="1.05" fill="#ff1a1a" fill-opacity="1"/>
<circle cx="395.97" cy="43.03" r="1.05" fill="#ff1a1a" fill-opacity="1"/>
<circle cx="345.72" cy="69.65" r="1.05" fill="#ff1a1a" fill-opacity="1"/>
<circle cx="412.17" cy="40.06" r="1.05" fill="#ff1a1a" fill-opacity="1"/>
<circle cx="382.38" cy="41.94" r="1.05" fill="#ff1a1a" fill-opacity="1"/>
<circle cx="362.08" cy="52.24" r="1.05" fill="#ff1a1a" fill-opacity="1"/>
<circle cx="410.48" cy="36.48" r="1.05" fill="#ff1a1a" fill-opacity="1"/>
<circle cx="400.31" cy="34.9" r="1.05" fill="#ff1a1a" fill-opacity="1"/>
<circle cx="313.96" cy="112.68" r="1.05" fill="#ff1a1a" fill-opacity="1"/>
<circle cx="321.86" cy="100.8" r="1.05" fill="#ff1a1a" fill-opacity="1"/>
<circle cx="392.51" cy="40.59" r="1.05" fill="#ff1a1a" fill-opacity="1"/>
<circle cx="377.45" cy="39.07" r="1.05" fill="#ff1a1a" fill-opacity="1"/>
<circle cx="354.98" cy="58.96" r="1.05" fill="#ff1a1a" fill-opacity="1"/>
<circle cx="409.03" cy="40.35" r="1.05" fill="#ff1a1a" fill-opacity="1"/>
<circle cx="306.95" cy="122.56" r="1.05" fill="#ff1a1a" fill-opacity="1"/>
<circle cx="403.59" cy="32.5" r="1.05" fill="#ff1a1a" fill-opacity="1"/>
<circle cx="339.22" cy="72.83" r="1.05" fill="#ff1a1a" fill-opacity="1"/>
<circle cx="401.58" cy="33.44" r="1.05" fill="#ff1a1a" fill-opacity="1"/>
<circle cx="420.61" cy="34.8" r="1.05" fill="#ff1a1a" fill-opacity="1"/>
<circle cx="359.6" cy="52.83" r="1.05" fill="#ff1a1a" fill-opacity="1"/>
<circle cx="341.18" cy="74.7" r="1.05" fill="#ff1a1a" fill-opacity="1"/>
<circle cx="358.77" cy="53.21" r="1.05" fill="#ff1a1a" fill-opacity="1"/>
<circle cx="364.18" cy="49.23" r="1.05" fill="#ff1a1a" fill-opacity="1"/>
<circle cx="399.41" cy="35" r="1.05" fill="#ff1a1a" fill-opacity="1"/>
<circle cx="418.69" cy="46.42" r="1.05" fill="#ff1a1a" fill-opacity="1"/>
<circle cx="382.45" cy="40.95" r="1.05" fill="#ff1a1a" fill-opacity="1"/>
<circle cx="392.34" cy="46.26" r="1.05" fill="#ff1a1a" fill-opacity="1"/>
<circle cx="365.58" cy="52.93" r="1.05" fill="#ff1a1a" fill-opacity="1"/>
<circle cx="316.39" cy="108.06" r="1.05" fill="#ff1a1a" fill-opacity="1"/>
<circle cx="303.47" cy="129.16" r="1.05" fill="#ff1a1a" fill-opacity="1"/>
<circle cx="428.72" cy="46.53" r="1.05" fill="#ff1a1a" fill-opacity="1"/>
<circle cx="290.53" cy="150.73" r="1.05" fill="#ff1a1a" fill-opacity="1"/>
<circle cx="376.04" cy="42.63" r="1.05" fill="#ff1a1a" fill-opacity="1"/>
<circle cx="370.28" cy="50.75" r="1.05" fill="#ff1a1a" fill-opacity="1"/>
<circle cx="375.41" cy="44.69" r="1.05" fill="#ff1a1a" fill-opacity="1"/>
<circle cx="328.2" cy="90.54" r="1.05" fill="#ff1a1a" fill-opacity="1"/>
<circle cx="362.57" cy="56.66" r="1.05" fill="#ff1a1a" fill-opacity="1"/>
<circle cx="326.95" cy="91.03" r="1.05" fill="#ff1a1a" fill-opacity="1"/>
<circle cx="344.25" cy="70.09" r="1.05" fill="#ff1a1a" fill-opacity="1"/>
<circle cx="349.45" cy="63.36" r="1.05" fill="#ff1a1a" fill-opacity="1"/>
<circle cx="341.2" cy="73.93" r="1.05" fill="#ff1a1a" fill-opacity="1"/>
<circle cx="432.83" cy="38.99" r="1.05" fill="#ff1a1a" fill-opacity="1"/>
<circle cx="361.75" cy="50.52" r="1.05" fill="#ff1a1a" fill-opacity="1"/>
<circle cx="402.68" cy="42.38" r="1.05" fill="#ff1a1a" fill-opacity="1"/>
<circle cx="376.25" cy="44.31" r="1.05" fill="#ff1a1a" fill-opacity="1"/>
<circle cx="402.02" cy="40.82" r="1.05" fill="#ff1a1a" fill-opacity="1"/>
<circle cx="350.07" cy="65.26" r="1.05" fill="#ff1a1a" fill-opacity="1"/>
<circle cx="328.95" cy="91.86" r="1.05" fill="#ff1a1a" fill-opacity="1"/>
<circle cx="335.53" cy="79.87" r="1.05" fill="#ff1a1a" fill-opacity="1"/>
<circle cx="312.46" cy="114.72" r="1.05" fill="#ff1a1a" fill-opacity="1"/>
<circle cx="366.38" cy="48.51" r="1.05" fill="#ff1a1a" fill-opacity="1"/>
<circle cx="353.25" cy="61.06" r="1.05" fill="#ff1a1a" fill-opacity="1"/>
<circle cx="375.75" cy="46.93" r="1.05" fill="#ff1a1a" fill-opacity="1"/>
<circle cx="408.16" cy="33.22" r="1.05" fill="#ff1a1a" fill-opacity="1"/>
<circle cx="328.97" cy="89.79" r="1.05" fill="#ff1a1a" fill-opacity="1"/>
<circle cx="434.67" cy="32.18" r="1.05" fill="#ff1a1a" fill-opacity="1"/>
<circle cx="399.16" cy="49.42" r="1.05" fill="#ff1a1a" fill-opacity="1"/>
<circle cx="293.44" cy="145.45" r="1.05" fill="#ff1a1a" fill-opacity="1"/>
<circle cx="308.62" cy="120.77" r="1.05" fill="#ff1a1a" fill-opacity="1"/>
<circle cx="304.85" cy="127.68" r="1.05" fill="#ff1a1a" fill-opacity="1"/>
<path d="M327.4,91.08L330,93.68M327.4,93.68L330,91.08" stroke="#ff2020" stroke-width="1.15" fill="none"/>
<path d="M384.43,45.57L387.03,48.17M384.43,48.17L387.03,45.57" stroke="#ff2020" stroke-width="1.15" fill="none"/>
<path d="M299.3,133.75L301.9,136.35M299.3,136.35L301.9,133.75" stroke="#ff2020" stroke-width="1.15" fill="none"/>
<path d="M345.34,67.88L347.94,70.48M345.34,70.48L347.94,67.88" stroke="#ff2020" stroke-width="1.15" fill="none"/>
<path d="M299.32,132.84L301.92,135.44M299.32,135.44L301.92,132.84" stroke="#ff2020" stroke-width="1.15" fill="none"/>
<path d="M370.44,39.66L373.04,42.26M370.44,42.26L373.04,39.66" stroke="#ff2020" stroke-width="1.15" fill="none"/>
<path d="M316.12,107.15L318.72,109.75M316.12,109.75L318.72,107.15" stroke="#ff2020" stroke-width="1.15" fill="none"/>
<path d="M306.64,121.41L309.24,124.01M306.64,124.01L309.24,121.41" stroke="#ff2020" stroke-width="1.15" fill="none"/>
<path d="M313.33,110.07L315.93,112.67M313.33,112.67L315.93,110.07" stroke="#ff2020" stroke-width="1.15" fill="none"/>
<path d="M318.68,103.12L321.28,105.72M318.68,105.72L321.28,103.12" stroke="#ff2020" stroke-width="1.15" fill="none"/>
<path d="M301.21,128.22L303.81,130.82M301.21,130.82L303.81,128.22" stroke="#ff2020" stroke-width="1.15" fill="none"/>
<path d="M365.85,45.12L368.45,47.72M365.85,47.72L368.45,45.12" stroke="#ff2020" stroke-width="1.15" fill="none"/>
<path d="M383.11,41.26L385.71,43.86M383.11,43.86L385.71,41.26" stroke="#ff2020" stroke-width="1.15" fill="none"/>
<path d="M319.38,104.04L321.98,106.64M319.38,106.64L321.98,104.04" stroke="#ff2020" stroke-width="1.15" fill="none"/>
<path d="M311.15,114.47L313.75,117.07M311.15,117.07L313.75,114.47" stroke="#ff2020" stroke-width="1.15" fill="none"/>
<path d="M311.76,113.07L314.36,115.67M311.76,115.67L314.36,113.07" stroke="#ff2020" stroke-width="1.15" fill="none"/>
<path d="M363.91,52.92L366.51,55.52M363.91,55.52L366.51,52.92" stroke="#ff2020" stroke-width="1.15" fill="none"/>
<path d="M324.14,94.93L326.74,97.53M324.14,97.53L326.74,94.93" stroke="#ff2020" stroke-width="1.15" fill="none"/>
<path d="M376.33,43.33L378.93,45.93M376.33,45.93L378.93,43.33" stroke="#ff2020" stroke-width="1.15" fill="none"/>
<path d="M365.02,55.71L367.62,58.31M365.02,58.31L367.62,55.71" stroke="#ff2020" stroke-width="1.15" fill="none"/>
<path d="M382.29,47.97L384.89,50.57M382.29,50.57L384.89,47.97" stroke="#ff2020" stroke-width="1.15" fill="none"/>
<path d="M349.86,64.27L352.46,66.87M349.86,66.87L352.46,64.27" stroke="#ff2020" stroke-width="1.15" fill="none"/>
<path d="M322,96.96L324.6,99.56M322,99.56L324.6,96.96" stroke="#ff2020" stroke-width="1.15" fill="none"/>
<path d="M338.78,74.94L341.38,77.54M338.78,77.54L341.38,74.94" stroke="#ff2020" stroke-width="1.15" fill="none"/>
<path d="M306.46,121.14L309.06,123.74M306.46,123.74L309.06,121.14" stroke="#ff2020" stroke-width="1.15" fill="none"/>
<path d="M330.21,85.86L332.81,88.46M330.21,88.46L332.81,85.86" stroke="#ff2020" stroke-width="1.15" fill="none"/>
<path d="M386.63,50.79L389.23,53.39M386.63,53.39L389.23,50.79" stroke="#ff2020" stroke-width="1.15" fill="none"/>
<path d="M366.25,50.69L368.85,53.29M366.25,53.29L368.85,50.69" stroke="#ff2020" stroke-width="1.15" fill="none"/>
<path d="M351.7,62.79L354.3,65.39M351.7,65.39L354.3,62.79" stroke="#ff2020" stroke-width="1.15" fill="none"/>
<path d="M325.33,91.78L327.93,94.38M325.33,94.38L327.93,91.78" stroke="#ff2020" stroke-width="1.15" fill="none"/>
<path d="M355.71,55.2L358.31,57.8M355.71,57.8L358.31,55.2" stroke="#ff2020" stroke-width="1.15" fill="none"/>
<path d="M323.23,98.39L325.83,100.99M323.23,100.99L325.83,98.39" stroke="#ff2020" stroke-width="1.15" fill="none"/>
<path d="M309.27,115.96L311.87,118.56M309.27,118.56L311.87,115.96" stroke="#ff2020" stroke-width="1.15" fill="none"/>
<path d="M316.8,105.72L319.4,108.32M316.8,108.32L319.4,105.72" stroke="#ff2020" stroke-width="1.15" fill="none"/>
<path d="M295.48,139.55L298.08,142.15M295.48,142.15L298.08,139.55" stroke="#ff2020" stroke-width="1.15" fill="none"/>
<path d="M314.61,108.29L317.21,110.89M314.61,110.89L317.21,108.29" stroke="#ff2020" stroke-width="1.15" fill="none"/>
<path d="M358.59,57.81L361.19,60.41M358.59,60.41L361.19,57.81" stroke="#ff2020" stroke-width="1.15" fill="none"/>
<path d="M364.94,53.11L367.54,55.71M364.94,55.71L367.54,53.11" stroke="#ff2020" stroke-width="1.15" fill="none"/>
<path d="M314.73,108.4L317.33,111M314.73,111L317.33,108.4" stroke="#ff2020" stroke-width="1.15" fill="none"/>
<path d="M351.66,62.32L354.26,64.92M351.66,64.92L354.26,62.32" stroke="#ff2020" stroke-width="1.15" fill="none"/>
<path d="M322.3,102.43L324.9,105.03M322.3,105.03L324.9,102.43" stroke="#ff2020" stroke-width="1.15" fill="none"/>
<path d="M325.23,100.43L327.83,103.03M325.23,103.03L327.83,100.43" stroke="#ff2020" stroke-width="1.15" fill="none"/>
<path d="M326.78,100.99L329.38,103.59M326.78,103.59L329.38,100.99" stroke="#ff2020" stroke-width="1.15" fill="none"/>
<path d="M327.7,101.22L330.3,103.82M327.7,103.82L330.3,101.22" stroke="#ff2020" stroke-width="1.15" fill="none"/>
<path d="M332.34,96.43L334.94,99.03M332.34,99.03L334.94,96.43" stroke="#ff2020" stroke-width="1.15" fill="none"/>
<path d="M386.72,68.05L389.32,70.65M386.72,70.65L389.32,68.05" stroke="#ff2020" stroke-width="1.15" fill="none"/>
<path d="M350.57,63.06L353.17,65.66M350.57,65.66L353.17,63.06" stroke="#108010" stroke-width="1.15" fill="none"/>
<path d="M366.27,54.61L368.87,57.21M366.27,57.21L368.87,54.61" stroke="#108010" stroke-width="1.15" fill="none"/>
<path d="M343.43,70.2L346.03,72.8M343.43,72.8L346.03,70.2" stroke="#108010" stroke-width="1.15" fill="none"/>
<path d="M301.73,129.57L304.33,132.17M301.73,132.17L304.33,129.57" stroke="#108010" stroke-width="1.15" fill="none"/>
<path d="M328.03,90.18L330.63,92.78M328.03,92.78L330.63,90.18" stroke="#108010" stroke-width="1.15" fill="none"/>
<path d="M354.04,59.88L356.64,62.48M354.04,62.48L356.64,59.88" stroke="#108010" stroke-width="1.15" fill="none"/>
<path d="M316.8,107.37L319.4,109.97M316.8,109.97L319.4,107.37" stroke="#108010" stroke-width="1.15" fill="none"/>
<path d="M363.19,52.37L365.79,54.97M363.19,54.97L365.79,52.37" stroke="#108010" stroke-width="1.15" fill="none"/>
<path d="M312.61,113.63L315.21,116.23M312.61,116.23L315.21,113.63" stroke="#108010" stroke-width="1.15" fill="none"/>
<path d="M345.9,68.47L348.5,71.07M345.9,71.07L348.5,68.47" stroke="#108010" stroke-width="1.15" fill="none"/>
<path d="M313.56,110.97L316.16,113.57M313.56,113.57L316.16,110.97" stroke="#108010" stroke-width="1.15" fill="none"/>
<path d="M340.78,70.43L343.38,73.03M340.78,73.03L343.38,70.43" stroke="#108010" stroke-width="1.15" fill="none"/>
<path d="M344.89,66.7L347.49,69.3M344.89,69.3L347.49,66.7" stroke="#108010" stroke-width="1.15" fill="none"/>
<path d="M336.94,76.04L339.54,78.64M336.94,78.64L339.54,76.04" stroke="#108010" stroke-width="1.15" fill="none"/>
<path d="M302.49,126.6L305.09,129.2M302.49,129.2L305.09,126.6" stroke="#108010" stroke-width="1.15" fill="none"/>
<path d="M286.1,154.71L288.7,157.31M286.1,157.31L288.7,154.71" stroke="#108010" stroke-width="1.15" fill="none"/>
<path d="M331.13,85.4L333.73,88M331.13,88L333.73,85.4" stroke="#108010" stroke-width="1.15" fill="none"/>
<path d="M309.57,116.61L312.17,119.21M309.57,119.21L312.17,116.61" stroke="#108010" stroke-width="1.15" fill="none"/>
<path d="M299.35,134.34L301.95,136.94M299.35,136.94L301.95,134.34" stroke="#108010" stroke-width="1.15" fill="none"/>
<path d="M291.62,145.24L294.22,147.84M291.62,147.84L294.22,145.24" stroke="#108010" stroke-width="1.15" fill="none"/>
<path d="M317.28,105.72L319.88,108.32M317.28,108.32L319.88,105.72" stroke="#108010" stroke-width="1.15" fill="none"/>
<path d="M286.1,155.32L288.7,157.92M286.1,157.92L288.7,155.32" stroke="#108010" stroke-width="1.15" fill="none"/>
<path d="M305.7,123.34L308.3,125.94M305.7,125.94L308.3,123.34" stroke="#108010" stroke-width="1.15" fill="none"/>
<path d="M325.8,89.18L328.4,91.78M325.8,91.78L328.4,89.18" stroke="#108010" stroke-width="1.15" fill="none"/>
<path d="M308.41,119.83L311.01,122.43M308.41,122.43L311.01,119.83" stroke="#108010" stroke-width="1.15" fill="none"/>
<path d="M298.22,134.86L300.82,137.46M298.22,137.46L300.82,134.86" stroke="#108010" stroke-width="1.15" fill="none"/>
<path d="M347,66.7L349.6,69.3M347,69.3L349.6,66.7" stroke="#108010" stroke-width="1.15" fill="none"/>
<path d="M334.78,82.6L337.38,85.2M334.78,85.2L337.38,82.6" stroke="#108010" stroke-width="1.15" fill="none"/>
<path d="M356.75,53.61L359.35,56.21M356.75,56.21L359.35,53.61" stroke="#108010" stroke-width="1.15" fill="none"/>
<path d="M288.31,151.4L290.91,154M288.31,154L290.91,151.4" stroke="#108010" stroke-width="1.15" fill="none"/>
<path d="M331.74,85.31L334.34,87.91M331.74,87.91L334.34,85.31" stroke="#108010" stroke-width="1.15" fill="none"/>
<path d="M348.62,66.45L351.22,69.05M348.62,69.05L351.22,66.45" stroke="#108010" stroke-width="1.15" fill="none"/>
<path d="M318.8,104.22L321.4,106.82M318.8,106.82L321.4,104.22" stroke="#108010" stroke-width="1.15" fill="none"/>
<path d="M347.28,68.1L349.88,70.7M347.28,70.7L349.88,68.1" stroke="#108010" stroke-width="1.15" fill="none"/>
<path d="M371.36,49.91L373.96,52.51M371.36,52.51L373.96,49.91" stroke="#108010" stroke-width="1.15" fill="none"/>
<path d="M350.5,66.55L353.1,69.15M350.5,69.15L353.1,66.55" stroke="#108010" stroke-width="1.15" fill="none"/>
<path d="M305.87,123.65L308.47,126.25M305.87,126.25L308.47,123.65" stroke="#108010" stroke-width="1.15" fill="none"/>
<path d="M289.88,148.99L292.48,151.59M289.88,151.59L292.48,148.99" stroke="#108010" stroke-width="1.15" fill="none"/>
<path d="M355.22,58.05L357.82,60.65M355.22,60.65L357.82,58.05" stroke="#108010" stroke-width="1.15" fill="none"/>
<path d="M333.5,79.97L336.1,82.57M333.5,82.57L336.1,79.97" stroke="#108010" stroke-width="1.15" fill="none"/>
<path d="M352.2,60.95L354.8,63.55M352.2,63.55L354.8,60.95" stroke="#108010" stroke-width="1.15" fill="none"/>
<path d="M372.68,51.62L375.28,54.22M372.68,54.22L375.28,51.62" stroke="#108010" stroke-width="1.15" fill="none"/>
<path d="M325.89,96.96L328.49,99.56M325.89,99.56L328.49,96.96" stroke="#108010" stroke-width="1.15" fill="none"/>
<path d="M314.65,110.59L317.25,113.19M314.65,113.19L317.25,110.59" stroke="#108010" stroke-width="1.15" fill="none"/>
<path d="M351.43,60.93L354.03,63.53M351.43,63.53L354.03,60.93" stroke="#108010" stroke-width="1.15" fill="none"/>
<path d="M357.38,57.03L359.98,59.63M357.38,59.63L359.98,57.03" stroke="#108010" stroke-width="1.15" fill="none"/>
<path d="M345.57,71.58L348.17,74.18M345.57,74.18L348.17,71.58" stroke="#108010" stroke-width="1.15" fill="none"/>
<path d="M365.18,53.05L367.78,55.65M365.18,55.65L367.78,53.05" stroke="#108010" stroke-width="1.15" fill="none"/>
<path d="M297.95,136.27L300.55,138.87M297.95,138.87L300.55,136.27" stroke="#108010" stroke-width="1.15" fill="none"/>
<path d="M350,63L352.6,65.6M350,65.6L352.6,63" stroke="#108010" stroke-width="1.15" fill="none"/>
<path d="M299.28,135.07L301.88,137.67M299.28,137.67L301.88,135.07" stroke="#108010" stroke-width="1.15" fill="none"/>
<path d="M305.76,125L308.37,127.6M305.76,127.6L308.37,125" stroke="#108010" stroke-width="1.15" fill="none"/>
<path d="M316.27,108.48L318.87,111.08M316.27,111.08L318.87,108.48" stroke="#108010" stroke-width="1.15" fill="none"/>
<path d="M327.39,95.48L330,98.08M327.39,98.08L330,95.48" stroke="#108010" stroke-width="1.15" fill="none"/>
<path d="M344.7,90.04L347.3,92.64M344.7,92.64L347.3,90.04" stroke="#108010" stroke-width="1.15" fill="none"/>
<path d="M353.66,73.64L356.26,76.24M353.66,76.24L356.26,73.64" stroke="#108010" stroke-width="1.15" fill="none"/>
<path d="M366.95,107.72L369.55,110.32M366.95,110.32L369.55,107.72" stroke="#108010" stroke-width="1.15" fill="none"/>
<path d="M385.18,106.51L387.78,109.11M385.18,109.11L387.78,106.51" stroke="#108010" stroke-width="1.15" fill="none"/>
<path d="M389.81,106.95L392.41,109.55M389.81,109.55L392.41,106.95" stroke="#108010" stroke-width="1.15" fill="none"/>
<path d="M279.5,166.3L282.1,168.9M279.5,168.9L282.1,166.3" stroke="#108010" stroke-width="1.15" fill="none"/>
</g>
<line x1="280.8" y1="174" x2="280.8" y2="176.2" stroke="#666" stroke-width="0.9"/>
<text x="280.8" y="184" font-size="7.6" text-anchor="middle" fill="#222" stroke="#222" stroke-width="0.09">0</text>
<line x1="311.7" y1="174" x2="311.7" y2="176.2" stroke="#666" stroke-width="0.9"/>
<text x="311.7" y="184" font-size="7.6" text-anchor="middle" fill="#222" stroke="#222" stroke-width="0.09">10</text>
<line x1="342.6" y1="174" x2="342.6" y2="176.2" stroke="#666" stroke-width="0.9"/>
<text x="342.6" y="184" font-size="7.6" text-anchor="middle" fill="#222" stroke="#222" stroke-width="0.09">20</text>
<line x1="373.5" y1="174" x2="373.5" y2="176.2" stroke="#666" stroke-width="0.9"/>
<text x="373.5" y="184" font-size="7.6" text-anchor="middle" fill="#222" stroke="#222" stroke-width="0.09">30</text>
<line x1="404.4" y1="174" x2="404.4" y2="176.2" stroke="#666" stroke-width="0.9"/>
<text x="404.4" y="184" font-size="7.6" text-anchor="middle" fill="#222" stroke="#222" stroke-width="0.09">40</text>
<line x1="435.3" y1="174" x2="435.3" y2="176.2" stroke="#666" stroke-width="0.9"/>
<text x="435.3" y="184" font-size="7.6" text-anchor="middle" fill="#222" stroke="#222" stroke-width="0.09">50</text>
<line x1="270.2" y1="167.6" x2="272.4" y2="167.6" stroke="#666" stroke-width="0.9"/>
<text x="268.4" y="170.3" font-size="7.6" text-anchor="end" fill="#222" stroke="#222" stroke-width="0.09">0</text>
<line x1="270.2" y1="146.15" x2="272.4" y2="146.15" stroke="#666" stroke-width="0.9"/>
<text x="268.4" y="148.85" font-size="7.6" text-anchor="end" fill="#222" stroke="#222" stroke-width="0.09">200</text>
<line x1="270.2" y1="124.7" x2="272.4" y2="124.7" stroke="#666" stroke-width="0.9"/>
<text x="268.4" y="127.4" font-size="7.6" text-anchor="end" fill="#222" stroke="#222" stroke-width="0.09">400</text>
<line x1="270.2" y1="103.25" x2="272.4" y2="103.25" stroke="#666" stroke-width="0.9"/>
<text x="268.4" y="105.95" font-size="7.6" text-anchor="end" fill="#222" stroke="#222" stroke-width="0.09">600</text>
<line x1="270.2" y1="81.8" x2="272.4" y2="81.8" stroke="#666" stroke-width="0.9"/>
<text x="268.4" y="84.5" font-size="7.6" text-anchor="end" fill="#222" stroke="#222" stroke-width="0.09">800</text>
<line x1="270.2" y1="60.35" x2="272.4" y2="60.35" stroke="#666" stroke-width="0.9"/>
<text x="268.4" y="63.05" font-size="7.6" text-anchor="end" fill="#222" stroke="#222" stroke-width="0.09">1000</text>
<line x1="270.2" y1="38.9" x2="272.4" y2="38.9" stroke="#666" stroke-width="0.9"/>
<text x="268.4" y="41.6" font-size="7.6" text-anchor="end" fill="#222" stroke="#222" stroke-width="0.09">1200</text>
<text x="244.9" y="100.7" font-size="7.8" text-anchor="middle" fill="#222" stroke="#222" stroke-width="0.09" transform="rotate(-90 244.9 100.7)" textLength="53.4" lengthAdjust="spacingAndGlyphs">Flow (veh./Hr.)</text>
<text x="365" y="192.4" font-size="7.8" text-anchor="middle" fill="#222" stroke="#222" stroke-width="0.09" textLength="66.8" lengthAdjust="spacingAndGlyphs">Density (veh./Km)</text>
<text x="380.3" y="207.7" font-size="9.2" text-anchor="middle" fill="#111" stroke="#111" stroke-width="0.23">(b)</text>
<rect x="348.4" y="122.9" width="105.1" height="47.8" fill="#fff" fill-opacity="1" stroke="#dddddd" stroke-width="0.8" rx="1.5"/>
<circle cx="358.4" cy="130.3" r="1" fill="#ff1a1a" fill-opacity="1"/>
<circle cx="358.4" cy="141.3" r="1" fill="#118811" fill-opacity="1"/>
<path d="M357.05,150.95L359.75,153.65M357.05,153.65L359.75,150.95" stroke="#ff3333" stroke-width="1.1" fill="none"/>
<path d="M357.05,161.65L359.75,164.35M357.05,164.35L359.75,161.65" stroke="#1a8a1a" stroke-width="1.1" fill="none"/>
<text x="364.5" y="132.6" font-size="7.6" text-anchor="start" fill="#111" stroke="#111" stroke-width="0.09" textLength="81.5" lengthAdjust="spacingAndGlyphs">Cls -1 &amp; 4 (LD-weekdays)</text>
<text x="364.5" y="143.6" font-size="7.6" text-anchor="start" fill="#111" stroke="#111" stroke-width="0.09" textLength="86.6" lengthAdjust="spacingAndGlyphs">Cls -1 &amp; 4 (ULD-weekdays)</text>
<text x="366" y="154.7" font-size="7.6" text-anchor="start" fill="#111" stroke="#111" stroke-width="0.09" textLength="79.5" lengthAdjust="spacingAndGlyphs">Cls -2 &amp; 3 (LD-weekends)</text>
<text x="364.5" y="165.3" font-size="7.6" text-anchor="start" fill="#111" stroke="#111" stroke-width="0.09" textLength="87.2" lengthAdjust="spacingAndGlyphs">Cls -2 &amp; 3 (ULD-weekends)</text>
<line x1="484" y1="26.5" x2="484" y2="174.5" stroke="#c8c8c8" stroke-width="1.8"/>
<line x1="668.6" y1="26.5" x2="668.6" y2="174.5" stroke="#cacaca" stroke-width="1.8"/>
<line x1="483.5" y1="27" x2="669.1" y2="27" stroke="#c8c8c8" stroke-width="1.8"/>
<line x1="483.5" y1="174" x2="669.1" y2="174" stroke="#777" stroke-width="1.3"/>
<clipPath id="c3"><rect x="484" y="27" width="184.6" height="147"/></clipPath><g clip-path="url(#c3)">
<circle cx="657.47" cy="113.88" r="1.05" fill="#118811" fill-opacity="1"/>
<circle cx="497.05" cy="35.84" r="1.05" fill="#118811" fill-opacity="1"/>
<circle cx="580.16" cy="67.97" r="1.05" fill="#118811" fill-opacity="1"/>
<circle cx="507.79" cy="38.38" r="1.05" fill="#118811" fill-opacity="1"/>
<circle cx="509.5" cy="38.58" r="1.05" fill="#118811" fill-opacity="1"/>
<circle cx="507.95" cy="36.58" r="1.05" fill="#118811" fill-opacity="1"/>
<circle cx="503.73" cy="36.3" r="1.05" fill="#118811" fill-opacity="1"/>
<circle cx="586.49" cy="71.08" r="1.05" fill="#118811" fill-opacity="1"/>
<circle cx="498.85" cy="34.34" r="1.05" fill="#118811" fill-opacity="1"/>
<circle cx="597.01" cy="78.74" r="1.05" fill="#118811" fill-opacity="1"/>
<circle cx="535.59" cy="42.34" r="1.05" fill="#118811" fill-opacity="1"/>
<circle cx="592.8" cy="76.88" r="1.05" fill="#118811" fill-opacity="1"/>
<circle cx="601.21" cy="83.36" r="1.05" fill="#118811" fill-opacity="1"/>
<circle cx="573.48" cy="67.35" r="1.05" fill="#118811" fill-opacity="1"/>
<circle cx="537.16" cy="43.66" r="1.05" fill="#118811" fill-opacity="1"/>
<circle cx="502.25" cy="35.85" r="1.05" fill="#118811" fill-opacity="1"/>
<circle cx="551.66" cy="49.05" r="1.05" fill="#118811" fill-opacity="1"/>
<circle cx="513.71" cy="38.91" r="1.05" fill="#118811" fill-opacity="1"/>
<circle cx="593.67" cy="77.68" r="1.05" fill="#118811" fill-opacity="1"/>
<circle cx="507.36" cy="37.51" r="1.05" fill="#118811" fill-opacity="1"/>
<circle cx="498.65" cy="36.68" r="1.05" fill="#118811" fill-opacity="1"/>
<circle cx="551.83" cy="49.04" r="1.05" fill="#118811" fill-opacity="1"/>
<circle cx="590.39" cy="73.62" r="1.05" fill="#118811" fill-opacity="1"/>
<circle cx="593.32" cy="78.86" r="1.05" fill="#118811" fill-opacity="1"/>
<circle cx="630.96" cy="102.29" r="1.05" fill="#118811" fill-opacity="1"/>
<circle cx="613.06" cy="93.79" r="1.05" fill="#118811" fill-opacity="1"/>
<circle cx="630.23" cy="100.32" r="1.05" fill="#118811" fill-opacity="1"/>
<circle cx="497.78" cy="35.19" r="1.05" fill="#118811" fill-opacity="1"/>
<circle cx="609.13" cy="88.1" r="1.05" fill="#118811" fill-opacity="1"/>
<circle cx="590.57" cy="75.01" r="1.05" fill="#118811" fill-opacity="1"/>
<circle cx="496.9" cy="34.4" r="1.05" fill="#118811" fill-opacity="1"/>
<circle cx="651.3" cy="108.58" r="1.05" fill="#118811" fill-opacity="1"/>
<circle cx="538.33" cy="46.32" r="1.05" fill="#118811" fill-opacity="1"/>
<circle cx="500.87" cy="35.95" r="1.05" fill="#118811" fill-opacity="1"/>
<circle cx="632.52" cy="100.94" r="1.05" fill="#118811" fill-opacity="1"/>
<circle cx="528.43" cy="43.29" r="1.05" fill="#118811" fill-opacity="1"/>
<circle cx="573.03" cy="60.96" r="1.05" fill="#118811" fill-opacity="1"/>
<circle cx="498.88" cy="37.38" r="1.05" fill="#118811" fill-opacity="1"/>
<circle cx="575.38" cy="66.75" r="1.05" fill="#118811" fill-opacity="1"/>
<circle cx="649.32" cy="108.1" r="1.05" fill="#118811" fill-opacity="1"/>
<circle cx="654.43" cy="111.67" r="1.05" fill="#118811" fill-opacity="1"/>
<circle cx="568.77" cy="58.8" r="1.05" fill="#118811" fill-opacity="1"/>
<circle cx="503.78" cy="34.88" r="1.05" fill="#118811" fill-opacity="1"/>
<circle cx="640.96" cy="104.45" r="1.05" fill="#118811" fill-opacity="1"/>
<circle cx="535.79" cy="44.53" r="1.05" fill="#118811" fill-opacity="1"/>
<circle cx="558.77" cy="51.86" r="1.05" fill="#118811" fill-opacity="1"/>
<circle cx="540.05" cy="46.24" r="1.05" fill="#118811" fill-opacity="1"/>
<circle cx="634.57" cy="100.86" r="1.05" fill="#118811" fill-opacity="1"/>
<circle cx="600.12" cy="82.82" r="1.05" fill="#118811" fill-opacity="1"/>
<circle cx="579.99" cy="67.82" r="1.05" fill="#118811" fill-opacity="1"/>
<circle cx="497.78" cy="33.46" r="1.05" fill="#118811" fill-opacity="1"/>
<circle cx="533.1" cy="42.24" r="1.05" fill="#118811" fill-opacity="1"/>
<circle cx="553.47" cy="51.41" r="1.05" fill="#118811" fill-opacity="1"/>
<circle cx="628.42" cy="101.66" r="1.05" fill="#118811" fill-opacity="1"/>
<circle cx="500.42" cy="38.59" r="1.05" fill="#118811" fill-opacity="1"/>
<circle cx="499.41" cy="36.44" r="1.05" fill="#118811" fill-opacity="1"/>
<circle cx="503.59" cy="37.81" r="1.05" fill="#118811" fill-opacity="1"/>
<circle cx="613.4" cy="89.3" r="1.05" fill="#118811" fill-opacity="1"/>
<circle cx="656.37" cy="110.49" r="1.05" fill="#118811" fill-opacity="1"/>
<circle cx="608.24" cy="90.69" r="1.05" fill="#118811" fill-opacity="1"/>
<circle cx="628.16" cy="100.03" r="1.05" fill="#118811" fill-opacity="1"/>
<circle cx="585.06" cy="70.19" r="1.05" fill="#118811" fill-opacity="1"/>
<circle cx="512.57" cy="37.88" r="1.05" fill="#118811" fill-opacity="1"/>
<circle cx="622.12" cy="94.77" r="1.05" fill="#118811" fill-opacity="1"/>
<circle cx="550.68" cy="48.01" r="1.05" fill="#118811" fill-opacity="1"/>
<circle cx="511.58" cy="39.5" r="1.05" fill="#118811" fill-opacity="1"/>
<circle cx="608.2" cy="84.11" r="1.05" fill="#118811" fill-opacity="1"/>
<circle cx="634.26" cy="102.58" r="1.05" fill="#118811" fill-opacity="1"/>
<circle cx="599" cy="80.85" r="1.05" fill="#118811" fill-opacity="1"/>
<circle cx="539.65" cy="43.54" r="1.05" fill="#118811" fill-opacity="1"/>
<circle cx="588.49" cy="74.24" r="1.05" fill="#118811" fill-opacity="1"/>
<circle cx="529.58" cy="42.79" r="1.05" fill="#118811" fill-opacity="1"/>
<circle cx="643.68" cy="104.34" r="1.05" fill="#118811" fill-opacity="1"/>
<circle cx="517.93" cy="41.42" r="1.05" fill="#118811" fill-opacity="1"/>
<circle cx="589.97" cy="75.5" r="1.05" fill="#118811" fill-opacity="1"/>
<circle cx="535.31" cy="45.73" r="1.05" fill="#118811" fill-opacity="1"/>
<circle cx="544.32" cy="49.42" r="1.05" fill="#118811" fill-opacity="1"/>
<circle cx="501.22" cy="39.42" r="1.05" fill="#118811" fill-opacity="1"/>
<circle cx="537.27" cy="42.81" r="1.05" fill="#118811" fill-opacity="1"/>
<circle cx="640.47" cy="103.86" r="1.05" fill="#118811" fill-opacity="1"/>
<circle cx="568.35" cy="59.89" r="1.05" fill="#118811" fill-opacity="1"/>
<circle cx="549.95" cy="48.03" r="1.05" fill="#118811" fill-opacity="1"/>
<circle cx="598.12" cy="79.74" r="1.05" fill="#118811" fill-opacity="1"/>
<circle cx="497.38" cy="35.98" r="1.05" fill="#118811" fill-opacity="1"/>
<circle cx="597.82" cy="80.12" r="1.05" fill="#118811" fill-opacity="1"/>
<circle cx="604.53" cy="84.04" r="1.05" fill="#118811" fill-opacity="1"/>
<circle cx="617.37" cy="91.42" r="1.05" fill="#118811" fill-opacity="1"/>
<circle cx="652.52" cy="109.53" r="1.05" fill="#118811" fill-opacity="1"/>
<circle cx="636.12" cy="104.78" r="1.05" fill="#118811" fill-opacity="1"/>
<circle cx="612.38" cy="92.95" r="1.05" fill="#118811" fill-opacity="1"/>
<circle cx="577.87" cy="66.05" r="1.05" fill="#118811" fill-opacity="1"/>
<circle cx="497.21" cy="34.96" r="1.05" fill="#118811" fill-opacity="1"/>
<circle cx="501.09" cy="34.18" r="1.05" fill="#118811" fill-opacity="1"/>
<circle cx="630.89" cy="98.41" r="1.05" fill="#118811" fill-opacity="1"/>
<circle cx="614.91" cy="88.2" r="1.05" fill="#118811" fill-opacity="1"/>
<circle cx="653.73" cy="112.58" r="1.05" fill="#118811" fill-opacity="1"/>
<circle cx="497.29" cy="34.55" r="1.05" fill="#118811" fill-opacity="1"/>
<circle cx="575.01" cy="64.5" r="1.05" fill="#118811" fill-opacity="1"/>
<circle cx="619.54" cy="92.83" r="1.05" fill="#118811" fill-opacity="1"/>
<circle cx="561.69" cy="53.7" r="1.05" fill="#118811" fill-opacity="1"/>
<circle cx="500.95" cy="38.59" r="1.05" fill="#118811" fill-opacity="1"/>
<circle cx="653.36" cy="108.88" r="1.05" fill="#118811" fill-opacity="1"/>
<circle cx="511.61" cy="38.8" r="1.05" fill="#118811" fill-opacity="1"/>
<circle cx="519.28" cy="43.06" r="1.05" fill="#118811" fill-opacity="1"/>
<circle cx="558.31" cy="52.94" r="1.05" fill="#118811" fill-opacity="1"/>
<circle cx="548.05" cy="51.8" r="1.05" fill="#118811" fill-opacity="1"/>
<circle cx="612.39" cy="89.59" r="1.05" fill="#118811" fill-opacity="1"/>
<circle cx="555.55" cy="53.16" r="1.05" fill="#118811" fill-opacity="1"/>
<circle cx="584.59" cy="69.91" r="1.05" fill="#118811" fill-opacity="1"/>
<circle cx="607.62" cy="86.47" r="1.05" fill="#118811" fill-opacity="1"/>
<circle cx="498.54" cy="34.33" r="1.05" fill="#118811" fill-opacity="1"/>
<circle cx="588.08" cy="72.84" r="1.05" fill="#118811" fill-opacity="1"/>
<circle cx="648.95" cy="107.38" r="1.05" fill="#118811" fill-opacity="1"/>
<circle cx="499.45" cy="35.46" r="1.05" fill="#118811" fill-opacity="1"/>
<circle cx="559.42" cy="52.06" r="1.05" fill="#118811" fill-opacity="1"/>
<circle cx="562.92" cy="55.05" r="1.05" fill="#118811" fill-opacity="1"/>
<circle cx="508.27" cy="37.43" r="1.05" fill="#118811" fill-opacity="1"/>
<circle cx="577.1" cy="62.16" r="1.05" fill="#118811" fill-opacity="1"/>
<circle cx="498.6" cy="33.37" r="1.05" fill="#118811" fill-opacity="1"/>
<circle cx="508.24" cy="38.94" r="1.05" fill="#118811" fill-opacity="1"/>
<circle cx="625.04" cy="98.99" r="1.05" fill="#118811" fill-opacity="1"/>
<circle cx="604.34" cy="84.01" r="1.05" fill="#118811" fill-opacity="1"/>
<circle cx="505.22" cy="34.9" r="1.05" fill="#118811" fill-opacity="1"/>
<circle cx="639.8" cy="103.92" r="1.05" fill="#118811" fill-opacity="1"/>
<circle cx="646.11" cy="111.62" r="1.05" fill="#118811" fill-opacity="1"/>
<circle cx="642.49" cy="101.52" r="1.05" fill="#118811" fill-opacity="1"/>
<circle cx="502.32" cy="41.29" r="1.05" fill="#118811" fill-opacity="1"/>
<circle cx="535.97" cy="42.4" r="1.05" fill="#118811" fill-opacity="1"/>
<circle cx="544.85" cy="48.44" r="1.05" fill="#118811" fill-opacity="1"/>
<circle cx="520.38" cy="40.51" r="1.05" fill="#118811" fill-opacity="1"/>
<circle cx="499.92" cy="34.76" r="1.05" fill="#118811" fill-opacity="1"/>
<circle cx="641.5" cy="104.44" r="1.05" fill="#118811" fill-opacity="1"/>
<circle cx="496.66" cy="33.29" r="1.05" fill="#118811" fill-opacity="1"/>
<circle cx="522.58" cy="44.76" r="1.05" fill="#118811" fill-opacity="1"/>
<circle cx="646.85" cy="107.33" r="1.05" fill="#118811" fill-opacity="1"/>
<circle cx="499.71" cy="36.51" r="1.05" fill="#118811" fill-opacity="1"/>
<circle cx="621.24" cy="97" r="1.05" fill="#118811" fill-opacity="1"/>
<circle cx="500.37" cy="34.19" r="1.05" fill="#118811" fill-opacity="1"/>
<circle cx="613.19" cy="89.96" r="1.05" fill="#118811" fill-opacity="1"/>
<circle cx="561.66" cy="54.08" r="1.05" fill="#118811" fill-opacity="1"/>
<circle cx="578.02" cy="70.58" r="1.05" fill="#118811" fill-opacity="1"/>
<circle cx="592.37" cy="78.83" r="1.05" fill="#118811" fill-opacity="1"/>
<circle cx="588.7" cy="74.4" r="1.05" fill="#118811" fill-opacity="1"/>
<circle cx="613.77" cy="91.83" r="1.05" fill="#118811" fill-opacity="1"/>
<circle cx="502.24" cy="38.82" r="1.05" fill="#118811" fill-opacity="1"/>
<circle cx="627.27" cy="97.27" r="1.05" fill="#118811" fill-opacity="1"/>
<circle cx="500.24" cy="34.68" r="1.05" fill="#118811" fill-opacity="1"/>
<circle cx="502.55" cy="36.61" r="1.05" fill="#118811" fill-opacity="1"/>
<circle cx="573.64" cy="66.02" r="1.05" fill="#118811" fill-opacity="1"/>
<circle cx="586.3" cy="75.63" r="1.05" fill="#118811" fill-opacity="1"/>
<circle cx="649.47" cy="104.38" r="1.05" fill="#118811" fill-opacity="1"/>
<circle cx="527.67" cy="43.87" r="1.05" fill="#118811" fill-opacity="1"/>
<circle cx="512.51" cy="41.59" r="1.05" fill="#118811" fill-opacity="1"/>
<circle cx="563.87" cy="54.87" r="1.05" fill="#118811" fill-opacity="1"/>
<circle cx="549.45" cy="51.56" r="1.05" fill="#118811" fill-opacity="1"/>
<circle cx="499.13" cy="37.31" r="1.05" fill="#118811" fill-opacity="1"/>
<circle cx="591.94" cy="76.05" r="1.05" fill="#118811" fill-opacity="1"/>
<circle cx="497.18" cy="33.71" r="1.05" fill="#118811" fill-opacity="1"/>
<circle cx="523.84" cy="40.28" r="1.05" fill="#118811" fill-opacity="1"/>
<circle cx="625.85" cy="97.71" r="1.05" fill="#118811" fill-opacity="1"/>
<circle cx="543.41" cy="45.61" r="1.05" fill="#118811" fill-opacity="1"/>
<circle cx="601.79" cy="85.15" r="1.05" fill="#118811" fill-opacity="1"/>
<circle cx="543.62" cy="45.53" r="1.05" fill="#118811" fill-opacity="1"/>
<circle cx="529.38" cy="44.01" r="1.05" fill="#118811" fill-opacity="1"/>
<circle cx="496.91" cy="35.74" r="1.05" fill="#118811" fill-opacity="1"/>
<circle cx="496.85" cy="37.94" r="1.05" fill="#118811" fill-opacity="1"/>
<circle cx="580.66" cy="68.49" r="1.05" fill="#118811" fill-opacity="1"/>
<circle cx="519.39" cy="40.88" r="1.05" fill="#118811" fill-opacity="1"/>
<circle cx="599.05" cy="82.23" r="1.05" fill="#118811" fill-opacity="1"/>
<circle cx="518.29" cy="41.05" r="1.05" fill="#118811" fill-opacity="1"/>
<circle cx="501.6" cy="36.19" r="1.05" fill="#118811" fill-opacity="1"/>
<circle cx="604.92" cy="84.91" r="1.05" fill="#118811" fill-opacity="1"/>
<circle cx="616.12" cy="90.4" r="1.05" fill="#118811" fill-opacity="1"/>
<circle cx="519.91" cy="39.7" r="1.05" fill="#118811" fill-opacity="1"/>
<circle cx="542.85" cy="46.51" r="1.05" fill="#118811" fill-opacity="1"/>
<circle cx="584.04" cy="71.02" r="1.05" fill="#118811" fill-opacity="1"/>
<circle cx="576.1" cy="65.05" r="1.05" fill="#118811" fill-opacity="1"/>
<circle cx="650.92" cy="108.59" r="1.05" fill="#118811" fill-opacity="1"/>
<circle cx="497.18" cy="36.12" r="1.05" fill="#118811" fill-opacity="1"/>
<circle cx="600.66" cy="81.95" r="1.05" fill="#118811" fill-opacity="1"/>
<circle cx="529.03" cy="41.55" r="1.05" fill="#118811" fill-opacity="1"/>
<circle cx="573.18" cy="62.27" r="1.05" fill="#118811" fill-opacity="1"/>
<circle cx="645.62" cy="106.34" r="1.05" fill="#118811" fill-opacity="1"/>
<circle cx="587.25" cy="72.31" r="1.05" fill="#118811" fill-opacity="1"/>
<circle cx="590.27" cy="76.23" r="1.05" fill="#118811" fill-opacity="1"/>
<circle cx="633.91" cy="102.91" r="1.05" fill="#118811" fill-opacity="1"/>
<circle cx="517.75" cy="40.3" r="1.05" fill="#118811" fill-opacity="1"/>
<circle cx="543.82" cy="45.32" r="1.05" fill="#118811" fill-opacity="1"/>
<circle cx="603.63" cy="83.64" r="1.05" fill="#118811" fill-opacity="1"/>
<circle cx="555.46" cy="51.31" r="1.05" fill="#118811" fill-opacity="1"/>
<circle cx="501.21" cy="35.31" r="1.05" fill="#118811" fill-opacity="1"/>
<circle cx="503.74" cy="39.28" r="1.05" fill="#118811" fill-opacity="1"/>
<circle cx="602.96" cy="84.16" r="1.05" fill="#118811" fill-opacity="1"/>
<circle cx="554.32" cy="51.68" r="1.05" fill="#118811" fill-opacity="1"/>
<circle cx="497" cy="36.01" r="1.05" fill="#118811" fill-opacity="1"/>
<circle cx="509.95" cy="40.21" r="1.05" fill="#118811" fill-opacity="1"/>
<circle cx="529.92" cy="40.32" r="1.05" fill="#118811" fill-opacity="1"/>
<circle cx="582.56" cy="71.07" r="1.05" fill="#118811" fill-opacity="1"/>
<circle cx="499.61" cy="36.24" r="1.05" fill="#118811" fill-opacity="1"/>
<circle cx="547.95" cy="47.86" r="1.05" fill="#118811" fill-opacity="1"/>
<circle cx="500.32" cy="32.39" r="1.05" fill="#118811" fill-opacity="1"/>
<circle cx="516.88" cy="41.6" r="1.05" fill="#118811" fill-opacity="1"/>
<circle cx="518.94" cy="41.1" r="1.05" fill="#118811" fill-opacity="1"/>
<circle cx="588.29" cy="74.17" r="1.05" fill="#118811" fill-opacity="1"/>
<circle cx="545.05" cy="51.28" r="1.05" fill="#118811" fill-opacity="1"/>
<circle cx="534.74" cy="45.44" r="1.05" fill="#118811" fill-opacity="1"/>
<circle cx="646.55" cy="109.21" r="1.05" fill="#118811" fill-opacity="1"/>
<circle cx="553.73" cy="48.68" r="1.05" fill="#118811" fill-opacity="1"/>
<circle cx="586.13" cy="72.2" r="1.05" fill="#118811" fill-opacity="1"/>
<circle cx="576.17" cy="65.32" r="1.05" fill="#118811" fill-opacity="1"/>
<circle cx="646.45" cy="109.18" r="1.05" fill="#118811" fill-opacity="1"/>
<circle cx="619.73" cy="95.16" r="1.05" fill="#118811" fill-opacity="1"/>
<circle cx="576.89" cy="66.1" r="1.05" fill="#118811" fill-opacity="1"/>
<circle cx="498.03" cy="38.44" r="1.05" fill="#118811" fill-opacity="1"/>
<circle cx="617.39" cy="88.73" r="1.05" fill="#118811" fill-opacity="1"/>
<circle cx="497.77" cy="32" r="1.05" fill="#118811" fill-opacity="1"/>
<circle cx="499.84" cy="39.03" r="1.05" fill="#118811" fill-opacity="1"/>
<circle cx="501.71" cy="39.28" r="1.05" fill="#118811" fill-opacity="1"/>
<circle cx="500.83" cy="36.61" r="1.05" fill="#118811" fill-opacity="1"/>
<circle cx="501.87" cy="35.09" r="1.05" fill="#118811" fill-opacity="1"/>
<circle cx="502.19" cy="38.18" r="1.05" fill="#118811" fill-opacity="1"/>
<circle cx="579.77" cy="66.37" r="1.05" fill="#118811" fill-opacity="1"/>
<circle cx="646.74" cy="107.93" r="1.05" fill="#118811" fill-opacity="1"/>
<circle cx="521.99" cy="39.68" r="1.05" fill="#118811" fill-opacity="1"/>
<circle cx="568" cy="57.14" r="1.05" fill="#118811" fill-opacity="1"/>
<circle cx="621.72" cy="95.46" r="1.05" fill="#118811" fill-opacity="1"/>
<circle cx="498.62" cy="34.8" r="1.05" fill="#118811" fill-opacity="1"/>
<circle cx="606.86" cy="86.97" r="1.05" fill="#118811" fill-opacity="1"/>
<circle cx="634.17" cy="102.28" r="1.05" fill="#118811" fill-opacity="1"/>
<circle cx="582.37" cy="71.25" r="1.05" fill="#118811" fill-opacity="1"/>
<circle cx="599.53" cy="81.44" r="1.05" fill="#118811" fill-opacity="1"/>
<circle cx="498.65" cy="36.99" r="1.05" fill="#118811" fill-opacity="1"/>
<circle cx="623.96" cy="96.25" r="1.05" fill="#118811" fill-opacity="1"/>
<circle cx="578.17" cy="67.49" r="1.05" fill="#118811" fill-opacity="1"/>
<circle cx="498.03" cy="32.35" r="1.05" fill="#118811" fill-opacity="1"/>
<circle cx="632.86" cy="101.5" r="1.05" fill="#118811" fill-opacity="1"/>
<circle cx="563.25" cy="56.06" r="1.05" fill="#118811" fill-opacity="1"/>
<circle cx="500.42" cy="37.4" r="1.05" fill="#118811" fill-opacity="1"/>
<circle cx="594.37" cy="78.25" r="1.05" fill="#118811" fill-opacity="1"/>
<circle cx="550.61" cy="51.01" r="1.05" fill="#118811" fill-opacity="1"/>
<circle cx="561.31" cy="56.49" r="1.05" fill="#118811" fill-opacity="1"/>
<circle cx="610.73" cy="90.53" r="1.05" fill="#118811" fill-opacity="1"/>
<circle cx="498.46" cy="35.48" r="1.05" fill="#118811" fill-opacity="1"/>
<circle cx="496.63" cy="36.39" r="1.05" fill="#118811" fill-opacity="1"/>
<circle cx="517.49" cy="41.8" r="1.05" fill="#118811" fill-opacity="1"/>
<circle cx="577.85" cy="66.43" r="1.05" fill="#118811" fill-opacity="1"/>
<circle cx="503.17" cy="36.36" r="1.05" fill="#118811" fill-opacity="1"/>
<circle cx="633.73" cy="104.02" r="1.05" fill="#118811" fill-opacity="1"/>
<circle cx="615.37" cy="90.72" r="1.05" fill="#118811" fill-opacity="1"/>
<circle cx="503.09" cy="39.17" r="1.05" fill="#118811" fill-opacity="1"/>
<circle cx="533.43" cy="42.46" r="1.05" fill="#118811" fill-opacity="1"/>
<circle cx="499.27" cy="35.55" r="1.05" fill="#118811" fill-opacity="1"/>
<circle cx="498.16" cy="34.01" r="1.05" fill="#118811" fill-opacity="1"/>
<circle cx="617.35" cy="93.06" r="1.05" fill="#118811" fill-opacity="1"/>
<circle cx="527.56" cy="39.16" r="1.05" fill="#118811" fill-opacity="1"/>
<circle cx="536.02" cy="45.38" r="1.05" fill="#118811" fill-opacity="1"/>
<circle cx="573.79" cy="64.4" r="1.05" fill="#118811" fill-opacity="1"/>
<circle cx="623.37" cy="95.99" r="1.05" fill="#118811" fill-opacity="1"/>
<circle cx="637.65" cy="104.4" r="1.05" fill="#118811" fill-opacity="1"/>
<circle cx="646.39" cy="109.93" r="1.05" fill="#118811" fill-opacity="1"/>
<circle cx="568.23" cy="59.33" r="1.05" fill="#118811" fill-opacity="1"/>
<circle cx="614.99" cy="93.74" r="1.05" fill="#118811" fill-opacity="1"/>
<circle cx="531.68" cy="43.93" r="1.05" fill="#118811" fill-opacity="1"/>
<circle cx="623.64" cy="95.26" r="1.05" fill="#118811" fill-opacity="1"/>
<circle cx="500.48" cy="35.56" r="1.05" fill="#118811" fill-opacity="1"/>
<circle cx="501.02" cy="38.12" r="1.05" fill="#118811" fill-opacity="1"/>
<circle cx="523.85" cy="41.54" r="1.05" fill="#118811" fill-opacity="1"/>
<circle cx="499.68" cy="36.11" r="1.05" fill="#118811" fill-opacity="1"/>
<circle cx="496.57" cy="39.91" r="1.05" fill="#118811" fill-opacity="1"/>
<circle cx="553.81" cy="51.46" r="1.05" fill="#118811" fill-opacity="1"/>
<circle cx="512.94" cy="39.12" r="1.05" fill="#118811" fill-opacity="1"/>
<circle cx="500.99" cy="36.45" r="1.05" fill="#118811" fill-opacity="1"/>
<circle cx="578.02" cy="66.42" r="1.05" fill="#118811" fill-opacity="1"/>
<circle cx="598.54" cy="82.66" r="1.05" fill="#118811" fill-opacity="1"/>
<circle cx="528.34" cy="44.1" r="1.05" fill="#118811" fill-opacity="1"/>
<circle cx="538.09" cy="44.14" r="1.05" fill="#118811" fill-opacity="1"/>
<circle cx="630.93" cy="98.29" r="1.05" fill="#118811" fill-opacity="1"/>
<circle cx="501.46" cy="35.74" r="1.05" fill="#118811" fill-opacity="1"/>
<circle cx="515.43" cy="39.94" r="1.05" fill="#118811" fill-opacity="1"/>
<circle cx="637.08" cy="104.63" r="1.05" fill="#118811" fill-opacity="1"/>
<circle cx="551.12" cy="49.67" r="1.05" fill="#118811" fill-opacity="1"/>
<circle cx="513.4" cy="40.05" r="1.05" fill="#118811" fill-opacity="1"/>
<circle cx="646.21" cy="107.69" r="1.05" fill="#118811" fill-opacity="1"/>
<circle cx="576.73" cy="66.45" r="1.05" fill="#118811" fill-opacity="1"/>
<circle cx="525.07" cy="42.09" r="1.05" fill="#118811" fill-opacity="1"/>
<circle cx="501.53" cy="34.76" r="1.05" fill="#118811" fill-opacity="1"/>
<circle cx="548" cy="47.11" r="1.05" fill="#118811" fill-opacity="1"/>
<circle cx="548.25" cy="47.6" r="1.05" fill="#118811" fill-opacity="1"/>
<circle cx="499.09" cy="35.44" r="1.05" fill="#118811" fill-opacity="1"/>
<circle cx="534.7" cy="44.32" r="1.05" fill="#118811" fill-opacity="1"/>
<circle cx="575.48" cy="62.68" r="1.05" fill="#118811" fill-opacity="1"/>
<circle cx="610.71" cy="87.17" r="1.05" fill="#118811" fill-opacity="1"/>
<circle cx="639.41" cy="103.07" r="1.05" fill="#118811" fill-opacity="1"/>
<circle cx="543.78" cy="46.39" r="1.05" fill="#118811" fill-opacity="1"/>
<circle cx="581.94" cy="70.74" r="1.05" fill="#118811" fill-opacity="1"/>
<circle cx="592.54" cy="75.37" r="1.05" fill="#118811" fill-opacity="1"/>
<circle cx="606.16" cy="87.25" r="1.05" fill="#118811" fill-opacity="1"/>
<circle cx="521.8" cy="42.12" r="1.05" fill="#118811" fill-opacity="1"/>
<circle cx="640.52" cy="105.19" r="1.05" fill="#118811" fill-opacity="1"/>
<circle cx="595.79" cy="77.72" r="1.05" fill="#118811" fill-opacity="1"/>
<circle cx="499.83" cy="36.41" r="1.05" fill="#118811" fill-opacity="1"/>
<circle cx="502.13" cy="37.42" r="1.05" fill="#118811" fill-opacity="1"/>
<circle cx="510.79" cy="36.85" r="1.05" fill="#118811" fill-opacity="1"/>
<circle cx="606.11" cy="84.92" r="1.05" fill="#118811" fill-opacity="1"/>
<circle cx="499.91" cy="35.5" r="1.05" fill="#118811" fill-opacity="1"/>
<circle cx="583.14" cy="69.28" r="1.05" fill="#118811" fill-opacity="1"/>
<circle cx="634.8" cy="104.18" r="1.05" fill="#118811" fill-opacity="1"/>
<circle cx="500.04" cy="38.85" r="1.05" fill="#118811" fill-opacity="1"/>
<circle cx="601.19" cy="80.29" r="1.05" fill="#118811" fill-opacity="1"/>
<circle cx="625.86" cy="95.34" r="1.05" fill="#118811" fill-opacity="1"/>
<circle cx="649.92" cy="111.47" r="1.05" fill="#118811" fill-opacity="1"/>
<circle cx="521.54" cy="39" r="1.05" fill="#118811" fill-opacity="1"/>
<circle cx="617.11" cy="94.21" r="1.05" fill="#118811" fill-opacity="1"/>
<circle cx="499.58" cy="35.91" r="1.05" fill="#118811" fill-opacity="1"/>
<circle cx="565.98" cy="56.93" r="1.05" fill="#118811" fill-opacity="1"/>
<circle cx="599.4" cy="79.41" r="1.05" fill="#118811" fill-opacity="1"/>
<circle cx="547.36" cy="45.17" r="1.05" fill="#118811" fill-opacity="1"/>
<circle cx="540.4" cy="45" r="1.05" fill="#118811" fill-opacity="1"/>
<circle cx="594.29" cy="81.53" r="1.05" fill="#118811" fill-opacity="1"/>
<circle cx="550.62" cy="49.21" r="1.05" fill="#118811" fill-opacity="1"/>
<circle cx="492.2" cy="167.6" r="1.05" fill="#118811" fill-opacity="1"/>
<circle cx="492.66" cy="166.81" r="1.05" fill="#118811" fill-opacity="1"/>
<circle cx="531.44" cy="62.45" r="1.05" fill="#118811" fill-opacity="1"/>
<circle cx="553.07" cy="85.17" r="1.05" fill="#118811" fill-opacity="1"/>
<circle cx="558.02" cy="87.02" r="1.05" fill="#118811" fill-opacity="1"/>
<circle cx="558.63" cy="70.9" r="1.05" fill="#118811" fill-opacity="1"/>
<circle cx="579.03" cy="92.04" r="1.05" fill="#118811" fill-opacity="1"/>
<circle cx="607.63" cy="84.04" r="1.05" fill="#ff1a1a" fill-opacity="1"/>
<circle cx="646.3" cy="108.49" r="1.05" fill="#ff1a1a" fill-opacity="1"/>
<circle cx="622.26" cy="91.94" r="1.05" fill="#ff1a1a" fill-opacity="1"/>
<circle cx="586.82" cy="70.11" r="1.05" fill="#ff1a1a" fill-opacity="1"/>
<circle cx="646.4" cy="107.34" r="1.05" fill="#ff1a1a" fill-opacity="1"/>
<circle cx="531.02" cy="46.08" r="1.05" fill="#ff1a1a" fill-opacity="1"/>
<circle cx="587.29" cy="70.09" r="1.05" fill="#ff1a1a" fill-opacity="1"/>
<circle cx="601.31" cy="76.74" r="1.05" fill="#ff1a1a" fill-opacity="1"/>
<circle cx="507.34" cy="36.92" r="1.05" fill="#ff1a1a" fill-opacity="1"/>
<circle cx="643.28" cy="100.93" r="1.05" fill="#ff1a1a" fill-opacity="1"/>
<circle cx="625.41" cy="91.78" r="1.05" fill="#ff1a1a" fill-opacity="1"/>
<circle cx="535.89" cy="40.4" r="1.05" fill="#ff1a1a" fill-opacity="1"/>
<circle cx="606.93" cy="83.27" r="1.05" fill="#ff1a1a" fill-opacity="1"/>
<circle cx="638.03" cy="100.2" r="1.05" fill="#ff1a1a" fill-opacity="1"/>
<circle cx="548.35" cy="46.28" r="1.05" fill="#ff1a1a" fill-opacity="1"/>
<circle cx="638.15" cy="93.76" r="1.05" fill="#ff1a1a" fill-opacity="1"/>
<circle cx="561.2" cy="50.89" r="1.05" fill="#ff1a1a" fill-opacity="1"/>
<circle cx="614.58" cy="89.05" r="1.05" fill="#ff1a1a" fill-opacity="1"/>
<circle cx="547.56" cy="44.28" r="1.05" fill="#ff1a1a" fill-opacity="1"/>
<circle cx="649.07" cy="106.83" r="1.05" fill="#ff1a1a" fill-opacity="1"/>
<circle cx="640.65" cy="102.24" r="1.05" fill="#ff1a1a" fill-opacity="1"/>
<circle cx="540.84" cy="43.09" r="1.05" fill="#ff1a1a" fill-opacity="1"/>
<circle cx="537.18" cy="42.25" r="1.05" fill="#ff1a1a" fill-opacity="1"/>
<circle cx="605.09" cy="81.37" r="1.05" fill="#ff1a1a" fill-opacity="1"/>
<circle cx="503.59" cy="37.26" r="1.05" fill="#ff1a1a" fill-opacity="1"/>
<circle cx="564.37" cy="56.9" r="1.05" fill="#ff1a1a" fill-opacity="1"/>
<circle cx="631.76" cy="99.36" r="1.05" fill="#ff1a1a" fill-opacity="1"/>
<circle cx="588.95" cy="71.05" r="1.05" fill="#ff1a1a" fill-opacity="1"/>
<circle cx="617.92" cy="84.17" r="1.05" fill="#ff1a1a" fill-opacity="1"/>
<circle cx="510.37" cy="35.89" r="1.05" fill="#ff1a1a" fill-opacity="1"/>
<circle cx="623.47" cy="92.81" r="1.05" fill="#ff1a1a" fill-opacity="1"/>
<circle cx="628.07" cy="95.8" r="1.05" fill="#ff1a1a" fill-opacity="1"/>
<circle cx="572.74" cy="60.46" r="1.05" fill="#ff1a1a" fill-opacity="1"/>
<circle cx="516.69" cy="39.34" r="1.05" fill="#ff1a1a" fill-opacity="1"/>
<circle cx="543.47" cy="44.56" r="1.05" fill="#ff1a1a" fill-opacity="1"/>
<circle cx="624.19" cy="93.88" r="1.05" fill="#ff1a1a" fill-opacity="1"/>
<circle cx="644.82" cy="101.51" r="1.05" fill="#ff1a1a" fill-opacity="1"/>
<circle cx="571.07" cy="59.76" r="1.05" fill="#ff1a1a" fill-opacity="1"/>
<circle cx="594.81" cy="75.12" r="1.05" fill="#ff1a1a" fill-opacity="1"/>
<circle cx="623.3" cy="94.1" r="1.05" fill="#ff1a1a" fill-opacity="1"/>
<circle cx="629.21" cy="95.6" r="1.05" fill="#ff1a1a" fill-opacity="1"/>
<circle cx="646.68" cy="104.95" r="1.05" fill="#ff1a1a" fill-opacity="1"/>
<circle cx="526.59" cy="42.92" r="1.05" fill="#ff1a1a" fill-opacity="1"/>
<circle cx="643.48" cy="100.16" r="1.05" fill="#ff1a1a" fill-opacity="1"/>
<circle cx="568.88" cy="55.29" r="1.05" fill="#ff1a1a" fill-opacity="1"/>
<circle cx="564.75" cy="56.6" r="1.05" fill="#ff1a1a" fill-opacity="1"/>
<circle cx="565.41" cy="55.37" r="1.05" fill="#ff1a1a" fill-opacity="1"/>
<circle cx="537.76" cy="43.26" r="1.05" fill="#ff1a1a" fill-opacity="1"/>
<circle cx="616" cy="87.82" r="1.05" fill="#ff1a1a" fill-opacity="1"/>
<circle cx="517.13" cy="39.32" r="1.05" fill="#ff1a1a" fill-opacity="1"/>
<circle cx="651.37" cy="108.9" r="1.05" fill="#ff1a1a" fill-opacity="1"/>
<circle cx="552.95" cy="49.6" r="1.05" fill="#ff1a1a" fill-opacity="1"/>
<circle cx="603.91" cy="80.2" r="1.05" fill="#ff1a1a" fill-opacity="1"/>
<circle cx="580.71" cy="67.73" r="1.05" fill="#ff1a1a" fill-opacity="1"/>
<circle cx="518.83" cy="39.17" r="1.05" fill="#ff1a1a" fill-opacity="1"/>
<circle cx="590.63" cy="72.75" r="1.05" fill="#ff1a1a" fill-opacity="1"/>
<circle cx="634.13" cy="95.81" r="1.05" fill="#ff1a1a" fill-opacity="1"/>
<circle cx="647.14" cy="101.83" r="1.05" fill="#ff1a1a" fill-opacity="1"/>
<circle cx="608.59" cy="84.18" r="1.05" fill="#ff1a1a" fill-opacity="1"/>
<circle cx="582.51" cy="67.86" r="1.05" fill="#ff1a1a" fill-opacity="1"/>
<circle cx="537.83" cy="43.05" r="1.05" fill="#ff1a1a" fill-opacity="1"/>
<circle cx="585.1" cy="70.3" r="1.05" fill="#ff1a1a" fill-opacity="1"/>
<circle cx="652.8" cy="103.28" r="1.05" fill="#ff1a1a" fill-opacity="1"/>
<circle cx="585.15" cy="73.89" r="1.05" fill="#ff1a1a" fill-opacity="1"/>
<circle cx="589.9" cy="72.29" r="1.05" fill="#ff1a1a" fill-opacity="1"/>
<circle cx="561.46" cy="55.98" r="1.05" fill="#ff1a1a" fill-opacity="1"/>
<circle cx="578.17" cy="62.67" r="1.05" fill="#ff1a1a" fill-opacity="1"/>
<circle cx="651.56" cy="104.78" r="1.05" fill="#ff1a1a" fill-opacity="1"/>
<circle cx="648.29" cy="107.12" r="1.05" fill="#ff1a1a" fill-opacity="1"/>
<circle cx="568.66" cy="59.3" r="1.05" fill="#ff1a1a" fill-opacity="1"/>
<circle cx="526.17" cy="41.77" r="1.05" fill="#ff1a1a" fill-opacity="1"/>
<circle cx="637.56" cy="95.97" r="1.05" fill="#ff1a1a" fill-opacity="1"/>
<circle cx="572.03" cy="58.9" r="1.05" fill="#ff1a1a" fill-opacity="1"/>
<circle cx="616.67" cy="93.58" r="1.05" fill="#ff1a1a" fill-opacity="1"/>
<circle cx="612.85" cy="87.08" r="1.05" fill="#ff1a1a" fill-opacity="1"/>
<circle cx="617.9" cy="92.46" r="1.05" fill="#ff1a1a" fill-opacity="1"/>
<circle cx="559.88" cy="56.33" r="1.05" fill="#ff1a1a" fill-opacity="1"/>
<circle cx="616.21" cy="88.98" r="1.05" fill="#ff1a1a" fill-opacity="1"/>
<circle cx="561.9" cy="50.94" r="1.05" fill="#ff1a1a" fill-opacity="1"/>
<circle cx="602.19" cy="81.44" r="1.05" fill="#ff1a1a" fill-opacity="1"/>
<circle cx="506.82" cy="38.7" r="1.05" fill="#ff1a1a" fill-opacity="1"/>
<circle cx="613.8" cy="88.36" r="1.05" fill="#ff1a1a" fill-opacity="1"/>
<circle cx="586.45" cy="68.19" r="1.05" fill="#ff1a1a" fill-opacity="1"/>
<circle cx="629.26" cy="99.18" r="1.05" fill="#ff1a1a" fill-opacity="1"/>
<circle cx="570.06" cy="60.51" r="1.05" fill="#ff1a1a" fill-opacity="1"/>
<circle cx="632.92" cy="100.92" r="1.05" fill="#ff1a1a" fill-opacity="1"/>
<circle cx="570.37" cy="56.24" r="1.05" fill="#ff1a1a" fill-opacity="1"/>
<circle cx="615.89" cy="93.19" r="1.05" fill="#ff1a1a" fill-opacity="1"/>
<circle cx="650.16" cy="103.23" r="1.05" fill="#ff1a1a" fill-opacity="1"/>
<circle cx="595.43" cy="76.5" r="1.05" fill="#ff1a1a" fill-opacity="1"/>
<circle cx="540.88" cy="42.44" r="1.05" fill="#ff1a1a" fill-opacity="1"/>
<circle cx="588.41" cy="75.71" r="1.05" fill="#ff1a1a" fill-opacity="1"/>
<circle cx="616.28" cy="90.11" r="1.05" fill="#ff1a1a" fill-opacity="1"/>
<circle cx="541.88" cy="48.72" r="1.05" fill="#ff1a1a" fill-opacity="1"/>
<circle cx="627.18" cy="98.05" r="1.05" fill="#ff1a1a" fill-opacity="1"/>
<circle cx="580.58" cy="67.09" r="1.05" fill="#ff1a1a" fill-opacity="1"/>
<circle cx="607.74" cy="83.37" r="1.05" fill="#ff1a1a" fill-opacity="1"/>
<circle cx="619.87" cy="94.56" r="1.05" fill="#ff1a1a" fill-opacity="1"/>
<circle cx="511.73" cy="36.97" r="1.05" fill="#ff1a1a" fill-opacity="1"/>
<circle cx="611.09" cy="83.91" r="1.05" fill="#ff1a1a" fill-opacity="1"/>
<circle cx="549.95" cy="49.29" r="1.05" fill="#ff1a1a" fill-opacity="1"/>
<circle cx="515.48" cy="41.7" r="1.05" fill="#ff1a1a" fill-opacity="1"/>
<circle cx="587.63" cy="70.28" r="1.05" fill="#ff1a1a" fill-opacity="1"/>
<circle cx="534.91" cy="42.65" r="1.05" fill="#ff1a1a" fill-opacity="1"/>
<circle cx="565.49" cy="55.21" r="1.05" fill="#ff1a1a" fill-opacity="1"/>
<circle cx="513.89" cy="37.37" r="1.05" fill="#ff1a1a" fill-opacity="1"/>
<circle cx="586.78" cy="72.2" r="1.05" fill="#ff1a1a" fill-opacity="1"/>
<circle cx="603.42" cy="78.85" r="1.05" fill="#ff1a1a" fill-opacity="1"/>
<circle cx="553.04" cy="49.11" r="1.05" fill="#ff1a1a" fill-opacity="1"/>
<circle cx="578.39" cy="64.12" r="1.05" fill="#ff1a1a" fill-opacity="1"/>
<circle cx="559.52" cy="53.41" r="1.05" fill="#ff1a1a" fill-opacity="1"/>
<circle cx="633.3" cy="97.41" r="1.05" fill="#ff1a1a" fill-opacity="1"/>
<circle cx="573.86" cy="58.14" r="1.05" fill="#ff1a1a" fill-opacity="1"/>
<circle cx="527.34" cy="40.88" r="1.05" fill="#ff1a1a" fill-opacity="1"/>
<circle cx="597.54" cy="78.84" r="1.05" fill="#ff1a1a" fill-opacity="1"/>
<circle cx="648.12" cy="102.43" r="1.05" fill="#ff1a1a" fill-opacity="1"/>
<circle cx="631.76" cy="101.11" r="1.05" fill="#ff1a1a" fill-opacity="1"/>
<circle cx="610.1" cy="83.31" r="1.05" fill="#ff1a1a" fill-opacity="1"/>
<circle cx="573.22" cy="58.75" r="1.05" fill="#ff1a1a" fill-opacity="1"/>
<circle cx="599.99" cy="76.35" r="1.05" fill="#ff1a1a" fill-opacity="1"/>
<circle cx="647.99" cy="101.84" r="1.05" fill="#ff1a1a" fill-opacity="1"/>
<circle cx="570.53" cy="59.28" r="1.05" fill="#ff1a1a" fill-opacity="1"/>
<circle cx="640.61" cy="100.41" r="1.05" fill="#ff1a1a" fill-opacity="1"/>
<circle cx="600.25" cy="79.02" r="1.05" fill="#ff1a1a" fill-opacity="1"/>
<circle cx="606.64" cy="81.06" r="1.05" fill="#ff1a1a" fill-opacity="1"/>
<circle cx="640.36" cy="98.83" r="1.05" fill="#ff1a1a" fill-opacity="1"/>
<circle cx="574.15" cy="62.55" r="1.05" fill="#ff1a1a" fill-opacity="1"/>
<circle cx="561.54" cy="53" r="1.05" fill="#ff1a1a" fill-opacity="1"/>
<circle cx="649.74" cy="110.22" r="1.05" fill="#ff1a1a" fill-opacity="1"/>
<circle cx="642.98" cy="98.52" r="1.05" fill="#ff1a1a" fill-opacity="1"/>
<circle cx="604.15" cy="81.98" r="1.05" fill="#ff1a1a" fill-opacity="1"/>
<circle cx="591" cy="66.02" r="1.05" fill="#ff1a1a" fill-opacity="1"/>
<circle cx="579.83" cy="67.62" r="1.05" fill="#ff1a1a" fill-opacity="1"/>
<circle cx="590.38" cy="66.06" r="1.05" fill="#ff1a1a" fill-opacity="1"/>
<circle cx="560.75" cy="54.26" r="1.05" fill="#ff1a1a" fill-opacity="1"/>
<circle cx="607.48" cy="83.55" r="1.05" fill="#ff1a1a" fill-opacity="1"/>
<circle cx="583.75" cy="68.73" r="1.05" fill="#ff1a1a" fill-opacity="1"/>
<circle cx="632.75" cy="93.78" r="1.05" fill="#ff1a1a" fill-opacity="1"/>
<circle cx="507.37" cy="38.94" r="1.05" fill="#ff1a1a" fill-opacity="1"/>
<circle cx="645.47" cy="104.25" r="1.05" fill="#ff1a1a" fill-opacity="1"/>
<circle cx="627.37" cy="95.02" r="1.05" fill="#ff1a1a" fill-opacity="1"/>
<circle cx="538.83" cy="42.65" r="1.05" fill="#ff1a1a" fill-opacity="1"/>
<circle cx="651.61" cy="107.51" r="1.05" fill="#ff1a1a" fill-opacity="1"/>
<circle cx="588.05" cy="67.54" r="1.05" fill="#ff1a1a" fill-opacity="1"/>
<circle cx="610.43" cy="88.76" r="1.05" fill="#ff1a1a" fill-opacity="1"/>
<circle cx="531.99" cy="44.76" r="1.05" fill="#ff1a1a" fill-opacity="1"/>
<circle cx="624.76" cy="94.65" r="1.05" fill="#ff1a1a" fill-opacity="1"/>
<circle cx="568.31" cy="54.85" r="1.05" fill="#ff1a1a" fill-opacity="1"/>
<circle cx="562.36" cy="56.4" r="1.05" fill="#ff1a1a" fill-opacity="1"/>
<circle cx="571.99" cy="60.14" r="1.05" fill="#ff1a1a" fill-opacity="1"/>
<circle cx="622.89" cy="93.31" r="1.05" fill="#ff1a1a" fill-opacity="1"/>
<circle cx="555.39" cy="50.57" r="1.05" fill="#ff1a1a" fill-opacity="1"/>
<circle cx="585.44" cy="64.58" r="1.05" fill="#ff1a1a" fill-opacity="1"/>
<circle cx="597.59" cy="79.69" r="1.05" fill="#ff1a1a" fill-opacity="1"/>
<circle cx="507.82" cy="36.99" r="1.05" fill="#ff1a1a" fill-opacity="1"/>
<circle cx="601.53" cy="82.33" r="1.05" fill="#ff1a1a" fill-opacity="1"/>
<circle cx="618.36" cy="92.28" r="1.05" fill="#ff1a1a" fill-opacity="1"/>
<circle cx="642.74" cy="104.57" r="1.05" fill="#ff1a1a" fill-opacity="1"/>
<circle cx="575.54" cy="65.34" r="1.05" fill="#ff1a1a" fill-opacity="1"/>
<circle cx="546.15" cy="44.22" r="1.05" fill="#ff1a1a" fill-opacity="1"/>
<circle cx="562.3" cy="53.67" r="1.05" fill="#ff1a1a" fill-opacity="1"/>
<circle cx="633.88" cy="99.09" r="1.05" fill="#ff1a1a" fill-opacity="1"/>
<circle cx="616.67" cy="91.36" r="1.05" fill="#ff1a1a" fill-opacity="1"/>
<circle cx="627.23" cy="94.19" r="1.05" fill="#ff1a1a" fill-opacity="1"/>
<circle cx="642.62" cy="100.81" r="1.05" fill="#ff1a1a" fill-opacity="1"/>
<circle cx="598.05" cy="75.4" r="1.05" fill="#ff1a1a" fill-opacity="1"/>
<circle cx="591.19" cy="73.49" r="1.05" fill="#ff1a1a" fill-opacity="1"/>
<circle cx="602.86" cy="79.52" r="1.05" fill="#ff1a1a" fill-opacity="1"/>
<circle cx="630.96" cy="95.35" r="1.05" fill="#ff1a1a" fill-opacity="1"/>
<circle cx="631.89" cy="96.65" r="1.05" fill="#ff1a1a" fill-opacity="1"/>
<circle cx="628.56" cy="95.96" r="1.05" fill="#ff1a1a" fill-opacity="1"/>
<circle cx="620.14" cy="91.82" r="1.05" fill="#ff1a1a" fill-opacity="1"/>
<circle cx="650.45" cy="102.43" r="1.05" fill="#ff1a1a" fill-opacity="1"/>
<circle cx="517.21" cy="39.35" r="1.05" fill="#ff1a1a" fill-opacity="1"/>
<circle cx="634.57" cy="97.99" r="1.05" fill="#ff1a1a" fill-opacity="1"/>
<circle cx="647.42" cy="101.42" r="1.05" fill="#ff1a1a" fill-opacity="1"/>
<circle cx="618.88" cy="89.4" r="1.05" fill="#ff1a1a" fill-opacity="1"/>
<circle cx="643.47" cy="101.43" r="1.05" fill="#ff1a1a" fill-opacity="1"/>
<circle cx="537.91" cy="45.74" r="1.05" fill="#ff1a1a" fill-opacity="1"/>
<circle cx="539.99" cy="46.11" r="1.05" fill="#ff1a1a" fill-opacity="1"/>
<circle cx="607.57" cy="82.69" r="1.05" fill="#ff1a1a" fill-opacity="1"/>
<circle cx="574.64" cy="61.23" r="1.05" fill="#ff1a1a" fill-opacity="1"/>
<circle cx="522.52" cy="37.81" r="1.05" fill="#ff1a1a" fill-opacity="1"/>
<circle cx="622.56" cy="91.5" r="1.05" fill="#ff1a1a" fill-opacity="1"/>
<circle cx="638.86" cy="99.02" r="1.05" fill="#ff1a1a" fill-opacity="1"/>
<circle cx="565.07" cy="53.88" r="1.05" fill="#ff1a1a" fill-opacity="1"/>
<circle cx="604.72" cy="87.54" r="1.05" fill="#ff1a1a" fill-opacity="1"/>
<circle cx="573.91" cy="60.68" r="1.05" fill="#ff1a1a" fill-opacity="1"/>
<circle cx="518.84" cy="40.04" r="1.05" fill="#ff1a1a" fill-opacity="1"/>
<circle cx="608.71" cy="85.81" r="1.05" fill="#ff1a1a" fill-opacity="1"/>
<circle cx="592.29" cy="71.02" r="1.05" fill="#ff1a1a" fill-opacity="1"/>
<circle cx="607.37" cy="85.27" r="1.05" fill="#ff1a1a" fill-opacity="1"/>
<circle cx="557.12" cy="52.74" r="1.05" fill="#ff1a1a" fill-opacity="1"/>
<circle cx="623.57" cy="93.7" r="1.05" fill="#ff1a1a" fill-opacity="1"/>
<circle cx="593.78" cy="73.44" r="1.05" fill="#ff1a1a" fill-opacity="1"/>
<circle cx="573.48" cy="59.56" r="1.05" fill="#ff1a1a" fill-opacity="1"/>
<circle cx="621.88" cy="90.63" r="1.05" fill="#ff1a1a" fill-opacity="1"/>
<circle cx="611.71" cy="83.08" r="1.05" fill="#ff1a1a" fill-opacity="1"/>
<circle cx="525.36" cy="41.52" r="1.05" fill="#ff1a1a" fill-opacity="1"/>
<circle cx="533.26" cy="43.76" r="1.05" fill="#ff1a1a" fill-opacity="1"/>
<circle cx="603.91" cy="81.06" r="1.05" fill="#ff1a1a" fill-opacity="1"/>
<circle cx="588.85" cy="66.37" r="1.05" fill="#ff1a1a" fill-opacity="1"/>
<circle cx="566.38" cy="56.13" r="1.05" fill="#ff1a1a" fill-opacity="1"/>
<circle cx="620.43" cy="92.07" r="1.05" fill="#ff1a1a" fill-opacity="1"/>
<circle cx="518.35" cy="36.5" r="1.05" fill="#ff1a1a" fill-opacity="1"/>
<circle cx="614.99" cy="83.85" r="1.05" fill="#ff1a1a" fill-opacity="1"/>
<circle cx="550.62" cy="44.12" r="1.05" fill="#ff1a1a" fill-opacity="1"/>
<circle cx="612.98" cy="83.05" r="1.05" fill="#ff1a1a" fill-opacity="1"/>
<circle cx="632.01" cy="95.3" r="1.05" fill="#ff1a1a" fill-opacity="1"/>
<circle cx="571" cy="56.74" r="1.05" fill="#ff1a1a" fill-opacity="1"/>
<circle cx="552.58" cy="50.47" r="1.05" fill="#ff1a1a" fill-opacity="1"/>
<circle cx="570.17" cy="55.93" r="1.05" fill="#ff1a1a" fill-opacity="1"/>
<circle cx="575.58" cy="59.54" r="1.05" fill="#ff1a1a" fill-opacity="1"/>
<circle cx="610.81" cy="82.5" r="1.05" fill="#ff1a1a" fill-opacity="1"/>
<circle cx="630.09" cy="100.71" r="1.05" fill="#ff1a1a" fill-opacity="1"/>
<circle cx="593.85" cy="72.76" r="1.05" fill="#ff1a1a" fill-opacity="1"/>
<circle cx="603.74" cy="84.79" r="1.05" fill="#ff1a1a" fill-opacity="1"/>
<circle cx="576.98" cy="64.65" r="1.05" fill="#ff1a1a" fill-opacity="1"/>
<circle cx="527.79" cy="40.25" r="1.05" fill="#ff1a1a" fill-opacity="1"/>
<circle cx="514.87" cy="38.54" r="1.05" fill="#ff1a1a" fill-opacity="1"/>
<circle cx="640.12" cy="105.3" r="1.05" fill="#ff1a1a" fill-opacity="1"/>
<circle cx="501.93" cy="35.62" r="1.05" fill="#ff1a1a" fill-opacity="1"/>
<circle cx="587.44" cy="67.72" r="1.05" fill="#ff1a1a" fill-opacity="1"/>
<circle cx="581.68" cy="68.2" r="1.05" fill="#ff1a1a" fill-opacity="1"/>
<circle cx="586.81" cy="68.71" r="1.05" fill="#ff1a1a" fill-opacity="1"/>
<circle cx="539.6" cy="43.86" r="1.05" fill="#ff1a1a" fill-opacity="1"/>
<circle cx="573.97" cy="64.33" r="1.05" fill="#ff1a1a" fill-opacity="1"/>
<circle cx="538.35" cy="41.3" r="1.05" fill="#ff1a1a" fill-opacity="1"/>
<circle cx="555.65" cy="50.62" r="1.05" fill="#ff1a1a" fill-opacity="1"/>
<circle cx="560.85" cy="52.01" r="1.05" fill="#ff1a1a" fill-opacity="1"/>
<circle cx="552.6" cy="49.56" r="1.05" fill="#ff1a1a" fill-opacity="1"/>
<circle cx="644.23" cy="103.2" r="1.05" fill="#ff1a1a" fill-opacity="1"/>
<circle cx="573.15" cy="57.51" r="1.05" fill="#ff1a1a" fill-opacity="1"/>
<circle cx="614.08" cy="89.39" r="1.05" fill="#ff1a1a" fill-opacity="1"/>
<circle cx="587.65" cy="69.29" r="1.05" fill="#ff1a1a" fill-opacity="1"/>
<circle cx="613.42" cy="87.98" r="1.05" fill="#ff1a1a" fill-opacity="1"/>
<circle cx="561.47" cy="55.15" r="1.05" fill="#ff1a1a" fill-opacity="1"/>
<circle cx="540.35" cy="47.87" r="1.05" fill="#ff1a1a" fill-opacity="1"/>
<circle cx="546.93" cy="45.57" r="1.05" fill="#ff1a1a" fill-opacity="1"/>
<circle cx="523.86" cy="40.46" r="1.05" fill="#ff1a1a" fill-opacity="1"/>
<circle cx="577.78" cy="61.67" r="1.05" fill="#ff1a1a" fill-opacity="1"/>
<circle cx="564.65" cy="55.66" r="1.05" fill="#ff1a1a" fill-opacity="1"/>
<circle cx="587.15" cy="70.86" r="1.05" fill="#ff1a1a" fill-opacity="1"/>
<circle cx="619.56" cy="87.28" r="1.05" fill="#ff1a1a" fill-opacity="1"/>
<circle cx="540.37" cy="44.65" r="1.05" fill="#ff1a1a" fill-opacity="1"/>
<circle cx="646.07" cy="100.61" r="1.05" fill="#ff1a1a" fill-opacity="1"/>
<circle cx="610.56" cy="91.59" r="1.05" fill="#ff1a1a" fill-opacity="1"/>
<circle cx="504.84" cy="34.28" r="1.05" fill="#ff1a1a" fill-opacity="1"/>
<circle cx="520.02" cy="39.49" r="1.05" fill="#ff1a1a" fill-opacity="1"/>
<circle cx="516.25" cy="41.25" r="1.05" fill="#ff1a1a" fill-opacity="1"/>
<path d="M538.8,46.76L541.4,49.36M538.8,49.36L541.4,46.76" stroke="#ff2020" stroke-width="1.15" fill="none"/>
<path d="M595.83,78.72L598.43,81.32M595.83,81.32L598.43,78.72" stroke="#ff2020" stroke-width="1.15" fill="none"/>
<path d="M510.7,41.17L513.3,43.77M510.7,43.77L513.3,41.17" stroke="#ff2020" stroke-width="1.15" fill="none"/>
<path d="M556.74,52.52L559.34,55.12M556.74,55.12L559.34,52.52" stroke="#ff2020" stroke-width="1.15" fill="none"/>
<path d="M510.72,37.78L513.32,40.38M510.72,40.38L513.32,37.78" stroke="#ff2020" stroke-width="1.15" fill="none"/>
<path d="M581.84,60.3L584.44,62.9M581.84,62.9L584.44,60.3" stroke="#ff2020" stroke-width="1.15" fill="none"/>
<path d="M527.52,43.36L530.12,45.96M527.52,45.96L530.12,43.36" stroke="#ff2020" stroke-width="1.15" fill="none"/>
<path d="M518.04,40.38L520.64,42.98M518.04,42.98L520.64,40.38" stroke="#ff2020" stroke-width="1.15" fill="none"/>
<path d="M524.73,39.76L527.33,42.36M524.73,42.36L527.33,39.76" stroke="#ff2020" stroke-width="1.15" fill="none"/>
<path d="M530.08,43.54L532.68,46.14M530.08,46.14L532.68,43.54" stroke="#ff2020" stroke-width="1.15" fill="none"/>
<path d="M512.61,32.77L515.21,35.37M512.61,35.37L515.21,32.77" stroke="#ff2020" stroke-width="1.15" fill="none"/>
<path d="M577.25,59.48L579.85,62.08M577.25,62.08L579.85,59.48" stroke="#ff2020" stroke-width="1.15" fill="none"/>
<path d="M594.51,74.43L597.11,77.03M594.51,77.03L597.11,74.43" stroke="#ff2020" stroke-width="1.15" fill="none"/>
<path d="M530.78,47.45L533.38,50.05M530.78,50.05L533.38,47.45" stroke="#ff2020" stroke-width="1.15" fill="none"/>
<path d="M522.55,41.63L525.15,44.23M522.55,44.23L525.15,41.63" stroke="#ff2020" stroke-width="1.15" fill="none"/>
<path d="M523.16,40.69L525.76,43.29M523.16,43.29L525.76,40.69" stroke="#ff2020" stroke-width="1.15" fill="none"/>
<path d="M575.31,64.05L577.91,66.65M575.31,66.65L577.91,64.05" stroke="#ff2020" stroke-width="1.15" fill="none"/>
<path d="M535.54,44.6L538.14,47.2M535.54,47.2L538.14,44.6" stroke="#ff2020" stroke-width="1.15" fill="none"/>
<path d="M587.73,69.63L590.33,72.23M587.73,72.23L590.33,69.63" stroke="#ff2020" stroke-width="1.15" fill="none"/>
<path d="M576.42,67.87L579.02,70.47M576.42,70.47L579.02,67.87" stroke="#ff2020" stroke-width="1.15" fill="none"/>
<path d="M593.69,78.67L596.29,81.27M593.69,81.27L596.29,78.67" stroke="#ff2020" stroke-width="1.15" fill="none"/>
<path d="M561.26,55.91L563.86,58.51M561.26,58.51L563.86,55.91" stroke="#ff2020" stroke-width="1.15" fill="none"/>
<path d="M533.4,42.11L536,44.71M533.4,44.71L536,42.11" stroke="#ff2020" stroke-width="1.15" fill="none"/>
<path d="M550.18,48.99L552.78,51.59M550.18,51.59L552.78,48.99" stroke="#ff2020" stroke-width="1.15" fill="none"/>
<path d="M517.86,38.78L520.46,41.38M517.86,41.38L520.46,38.78" stroke="#ff2020" stroke-width="1.15" fill="none"/>
<path d="M541.61,45.56L544.21,48.16M541.61,48.16L544.21,45.56" stroke="#ff2020" stroke-width="1.15" fill="none"/>
<path d="M598.03,84.22L600.63,86.82M598.03,86.82L600.63,84.22" stroke="#ff2020" stroke-width="1.15" fill="none"/>
<path d="M577.65,64.86L580.25,67.46M577.65,67.46L580.25,64.86" stroke="#ff2020" stroke-width="1.15" fill="none"/>
<path d="M563.1,57.16L565.7,59.76M563.1,59.76L565.7,57.16" stroke="#ff2020" stroke-width="1.15" fill="none"/>
<path d="M536.73,42.54L539.33,45.14M536.73,45.14L539.33,42.54" stroke="#ff2020" stroke-width="1.15" fill="none"/>
<path d="M567.11,55.34L569.71,57.94M567.11,57.94L569.71,55.34" stroke="#ff2020" stroke-width="1.15" fill="none"/>
<path d="M534.63,48.1L537.23,50.7M534.63,50.7L537.23,48.1" stroke="#ff2020" stroke-width="1.15" fill="none"/>
<path d="M520.67,37.61L523.27,40.21M520.67,40.21L523.27,37.61" stroke="#ff2020" stroke-width="1.15" fill="none"/>
<path d="M528.2,42.67L530.8,45.27M528.2,45.27L530.8,42.67" stroke="#ff2020" stroke-width="1.15" fill="none"/>
<path d="M506.88,38.88L509.48,41.48M506.88,41.48L509.48,38.88" stroke="#ff2020" stroke-width="1.15" fill="none"/>
<path d="M526.01,40.54L528.61,43.14M526.01,43.14L528.61,40.54" stroke="#ff2020" stroke-width="1.15" fill="none"/>
<path d="M569.99,61.88L572.59,64.48M569.99,64.48L572.59,61.88" stroke="#ff2020" stroke-width="1.15" fill="none"/>
<path d="M576.34,65.46L578.94,68.06M576.34,68.06L578.94,65.46" stroke="#ff2020" stroke-width="1.15" fill="none"/>
<path d="M526.13,41.2L528.73,43.8M526.13,43.8L528.73,41.2" stroke="#ff2020" stroke-width="1.15" fill="none"/>
<path d="M563.06,56.62L565.66,59.22M563.06,59.22L565.66,56.62" stroke="#ff2020" stroke-width="1.15" fill="none"/>
<path d="M533.7,52.69L536.3,55.29M533.7,55.29L536.3,52.69" stroke="#ff2020" stroke-width="1.15" fill="none"/>
<path d="M536.63,56.66L539.23,59.26M536.63,59.26L539.23,56.66" stroke="#ff2020" stroke-width="1.15" fill="none"/>
<path d="M538.18,61.15L540.78,63.75M538.18,63.75L540.78,61.15" stroke="#ff2020" stroke-width="1.15" fill="none"/>
<path d="M539.1,63.53L541.7,66.13M539.1,66.13L541.7,63.53" stroke="#ff2020" stroke-width="1.15" fill="none"/>
<path d="M543.74,65.64L546.34,68.24M543.74,68.24L546.34,65.64" stroke="#ff2020" stroke-width="1.15" fill="none"/>
<path d="M598.12,96.55L600.72,99.15M598.12,99.15L600.72,96.55" stroke="#ff2020" stroke-width="1.15" fill="none"/>
<path d="M561.97,55.72L564.57,58.32M561.97,58.32L564.57,55.72" stroke="#108010" stroke-width="1.15" fill="none"/>
<path d="M577.67,68.32L580.27,70.92M577.67,70.92L580.27,68.32" stroke="#108010" stroke-width="1.15" fill="none"/>
<path d="M554.83,51.87L557.43,54.47M554.83,54.47L557.43,51.87" stroke="#108010" stroke-width="1.15" fill="none"/>
<path d="M513.13,40.55L515.73,43.15M513.13,43.15L515.73,40.55" stroke="#108010" stroke-width="1.15" fill="none"/>
<path d="M539.43,46.91L542.03,49.51M539.43,49.51L542.03,46.91" stroke="#108010" stroke-width="1.15" fill="none"/>
<path d="M565.44,57.62L568.04,60.22M565.44,60.22L568.04,57.62" stroke="#108010" stroke-width="1.15" fill="none"/>
<path d="M528.2,46.04L530.8,48.64M528.2,48.64L530.8,46.04" stroke="#108010" stroke-width="1.15" fill="none"/>
<path d="M574.59,62.67L577.19,65.27M574.59,65.27L577.19,62.67" stroke="#108010" stroke-width="1.15" fill="none"/>
<path d="M524.01,45.21L526.61,47.81M524.01,47.81L526.61,45.21" stroke="#108010" stroke-width="1.15" fill="none"/>
<path d="M557.3,54.16L559.9,56.76M557.3,56.76L559.9,54.16" stroke="#108010" stroke-width="1.15" fill="none"/>
<path d="M524.96,42.63L527.56,45.23M524.96,45.23L527.56,42.63" stroke="#108010" stroke-width="1.15" fill="none"/>
<path d="M552.18,47.21L554.78,49.81M552.18,49.81L554.78,47.21" stroke="#108010" stroke-width="1.15" fill="none"/>
<path d="M556.29,50.37L558.89,52.97M556.29,52.97L558.89,50.37" stroke="#108010" stroke-width="1.15" fill="none"/>
<path d="M548.34,46.68L550.94,49.28M548.34,49.28L550.94,46.68" stroke="#108010" stroke-width="1.15" fill="none"/>
<path d="M513.89,34.84L516.49,37.44M513.89,37.44L516.49,34.84" stroke="#108010" stroke-width="1.15" fill="none"/>
<path d="M497.5,32.51L500.1,35.11M497.5,35.11L500.1,32.51" stroke="#108010" stroke-width="1.15" fill="none"/>
<path d="M542.53,47.02L545.13,49.62M542.53,49.62L545.13,47.02" stroke="#108010" stroke-width="1.15" fill="none"/>
<path d="M520.97,40.53L523.57,43.13M520.97,43.13L523.57,40.53" stroke="#108010" stroke-width="1.15" fill="none"/>
<path d="M510.75,43.76L513.35,46.36M510.75,46.36L513.35,43.76" stroke="#108010" stroke-width="1.15" fill="none"/>
<path d="M503.02,34L505.62,36.6M503.02,36.6L505.62,34" stroke="#108010" stroke-width="1.15" fill="none"/>
<path d="M528.68,44.23L531.28,46.83M528.68,46.83L531.28,44.23" stroke="#108010" stroke-width="1.15" fill="none"/>
<path d="M497.5,39.63L500.1,42.23M497.5,42.23L500.1,39.63" stroke="#108010" stroke-width="1.15" fill="none"/>
<path d="M517.1,41.46L519.7,44.06M517.1,44.06L519.7,41.46" stroke="#108010" stroke-width="1.15" fill="none"/>
<path d="M537.2,39.52L539.8,42.12M537.2,42.12L539.8,39.52" stroke="#108010" stroke-width="1.15" fill="none"/>
<path d="M519.81,43.95L522.41,46.55M519.81,46.55L522.41,43.95" stroke="#108010" stroke-width="1.15" fill="none"/>
<path d="M509.62,38.46L512.22,41.06M509.62,41.06L512.22,38.46" stroke="#108010" stroke-width="1.15" fill="none"/>
<path d="M558.4,53.98L561,56.58M558.4,56.58L561,53.98" stroke="#108010" stroke-width="1.15" fill="none"/>
<path d="M546.18,51.05L548.78,53.65M546.18,53.65L548.78,51.05" stroke="#108010" stroke-width="1.15" fill="none"/>
<path d="M568.15,55.27L570.75,57.87M568.15,57.87L570.75,55.27" stroke="#108010" stroke-width="1.15" fill="none"/>
<path d="M499.71,37.64L502.31,40.24M499.71,40.24L502.31,37.64" stroke="#108010" stroke-width="1.15" fill="none"/>
<path d="M543.14,48.29L545.74,50.89M543.14,50.89L545.74,48.29" stroke="#108010" stroke-width="1.15" fill="none"/>
<path d="M560.02,56.34L562.62,58.94M560.02,58.94L562.62,56.34" stroke="#108010" stroke-width="1.15" fill="none"/>
<path d="M530.2,46.06L532.8,48.66M530.2,48.66L532.8,46.06" stroke="#108010" stroke-width="1.15" fill="none"/>
<path d="M558.68,56.02L561.28,58.62M558.68,58.62L561.28,56.02" stroke="#108010" stroke-width="1.15" fill="none"/>
<path d="M582.76,69.85L585.36,72.45M582.76,72.45L585.36,69.85" stroke="#108010" stroke-width="1.15" fill="none"/>
<path d="M561.9,59.36L564.5,61.96M561.9,61.96L564.5,59.36" stroke="#108010" stroke-width="1.15" fill="none"/>
<path d="M517.27,43.18L519.87,45.78M517.27,45.78L519.87,43.18" stroke="#108010" stroke-width="1.15" fill="none"/>
<path d="M501.28,39.42L503.88,42.02M501.28,42.02L503.88,39.42" stroke="#108010" stroke-width="1.15" fill="none"/>
<path d="M566.62,57.49L569.22,60.09M566.62,60.09L569.22,57.49" stroke="#108010" stroke-width="1.15" fill="none"/>
<path d="M544.9,44.6L547.5,47.2M544.9,47.2L547.5,44.6" stroke="#108010" stroke-width="1.15" fill="none"/>
<path d="M563.6,56L566.2,58.6M563.6,58.6L566.2,56" stroke="#108010" stroke-width="1.15" fill="none"/>
<path d="M584.08,72.62L586.68,75.22M584.08,75.22L586.68,72.62" stroke="#108010" stroke-width="1.15" fill="none"/>
<path d="M537.29,52.51L539.89,55.11M537.29,55.11L539.89,52.51" stroke="#108010" stroke-width="1.15" fill="none"/>
<path d="M526.05,45.66L528.65,48.26M526.05,48.26L528.65,45.66" stroke="#108010" stroke-width="1.15" fill="none"/>
<path d="M562.83,54.79L565.43,57.39M562.83,57.39L565.43,54.79" stroke="#108010" stroke-width="1.15" fill="none"/>
<path d="M568.78,59.5L571.38,62.1M568.78,62.1L571.38,59.5" stroke="#108010" stroke-width="1.15" fill="none"/>
<path d="M556.97,57.17L559.57,59.77M556.97,59.77L559.57,57.17" stroke="#108010" stroke-width="1.15" fill="none"/>
<path d="M576.58,65.69L579.18,68.29M576.58,68.29L579.18,65.69" stroke="#108010" stroke-width="1.15" fill="none"/>
<path d="M509.35,42.42L511.95,45.02M509.35,45.02L511.95,42.42" stroke="#108010" stroke-width="1.15" fill="none"/>
<path d="M561.4,54.77L564,57.37M561.4,57.37L564,54.77" stroke="#108010" stroke-width="1.15" fill="none"/>
<path d="M510.68,46.09L513.28,48.69M510.68,48.69L513.28,46.09" stroke="#108010" stroke-width="1.15" fill="none"/>
<path d="M517.17,46.62L519.76,49.22M517.17,49.22L519.76,46.62" stroke="#108010" stroke-width="1.15" fill="none"/>
<path d="M527.67,46.62L530.27,49.22M527.67,49.22L530.27,46.62" stroke="#108010" stroke-width="1.15" fill="none"/>
<path d="M538.8,53.75L541.39,56.35M538.8,56.35L541.39,53.75" stroke="#108010" stroke-width="1.15" fill="none"/>
<path d="M556.1,77.26L558.7,79.86M556.1,79.86L558.7,77.26" stroke="#108010" stroke-width="1.15" fill="none"/>
<path d="M565.06,71.19L567.66,73.79M565.06,73.79L567.66,71.19" stroke="#108010" stroke-width="1.15" fill="none"/>
<path d="M578.35,115.31L580.95,117.91M578.35,117.91L580.95,115.31" stroke="#108010" stroke-width="1.15" fill="none"/>
<path d="M596.58,123.24L599.18,125.84M596.58,125.84L599.18,123.24" stroke="#108010" stroke-width="1.15" fill="none"/>
<path d="M601.21,125.35L603.81,127.95M601.21,127.95L603.81,125.35" stroke="#108010" stroke-width="1.15" fill="none"/>
<path d="M490.9,166.3L493.5,168.9M490.9,168.9L493.5,166.3" stroke="#108010" stroke-width="1.15" fill="none"/>
</g>
<line x1="492.2" y1="174" x2="492.2" y2="176.2" stroke="#888" stroke-width="0.9"/>
<text x="492.2" y="184" font-size="7.8" text-anchor="middle" fill="#222" stroke="#222" stroke-width="0.09">0</text>
<line x1="523.1" y1="174" x2="523.1" y2="176.2" stroke="#888" stroke-width="0.9"/>
<text x="523.1" y="184" font-size="7.8" text-anchor="middle" fill="#222" stroke="#222" stroke-width="0.09">10</text>
<line x1="554" y1="174" x2="554" y2="176.2" stroke="#888" stroke-width="0.9"/>
<text x="554" y="184" font-size="7.8" text-anchor="middle" fill="#222" stroke="#222" stroke-width="0.09">20</text>
<line x1="584.9" y1="174" x2="584.9" y2="176.2" stroke="#888" stroke-width="0.9"/>
<text x="584.9" y="184" font-size="7.8" text-anchor="middle" fill="#222" stroke="#222" stroke-width="0.09">30</text>
<line x1="615.8" y1="174" x2="615.8" y2="176.2" stroke="#888" stroke-width="0.9"/>
<text x="615.8" y="184" font-size="7.8" text-anchor="middle" fill="#222" stroke="#222" stroke-width="0.09">40</text>
<line x1="646.7" y1="174" x2="646.7" y2="176.2" stroke="#888" stroke-width="0.9"/>
<text x="646.7" y="184" font-size="7.8" text-anchor="middle" fill="#222" stroke="#222" stroke-width="0.09">50</text>
<line x1="481.8" y1="167.6" x2="484" y2="167.6" stroke="#888" stroke-width="0.9"/>
<text x="480.2" y="170.4" font-size="7.8" text-anchor="end" fill="#222" stroke="#222" stroke-width="0.09">0</text>
<line x1="481.8" y1="141.18" x2="484" y2="141.18" stroke="#888" stroke-width="0.9"/>
<text x="480.2" y="143.98" font-size="7.8" text-anchor="end" fill="#222" stroke="#222" stroke-width="0.09">10</text>
<line x1="481.8" y1="114.76" x2="484" y2="114.76" stroke="#888" stroke-width="0.9"/>
<text x="480.2" y="117.56" font-size="7.8" text-anchor="end" fill="#222" stroke="#222" stroke-width="0.09">20</text>
<line x1="481.8" y1="88.34" x2="484" y2="88.34" stroke="#888" stroke-width="0.9"/>
<text x="480.2" y="91.14" font-size="7.8" text-anchor="end" fill="#222" stroke="#222" stroke-width="0.09">30</text>
<line x1="481.8" y1="61.92" x2="484" y2="61.92" stroke="#888" stroke-width="0.9"/>
<text x="480.2" y="64.72" font-size="7.8" text-anchor="end" fill="#222" stroke="#222" stroke-width="0.09">40</text>
<line x1="481.8" y1="35.5" x2="484" y2="35.5" stroke="#888" stroke-width="0.9"/>
<text x="480.2" y="38.3" font-size="7.8" text-anchor="end" fill="#222" stroke="#222" stroke-width="0.09">50</text>
<text x="466.1" y="101" font-size="7.8" text-anchor="middle" fill="#222" stroke="#222" stroke-width="0.09" transform="rotate(-90 466.1 101)" textLength="57" lengthAdjust="spacingAndGlyphs">Speed (km./Hr.)</text>
<text x="575.8" y="192.8" font-size="7.8" text-anchor="middle" fill="#222" stroke="#222" stroke-width="0.09" textLength="67" lengthAdjust="spacingAndGlyphs">Density (veh./Km)</text>
<text x="581.8" y="206.5" font-size="9.2" text-anchor="middle" fill="#111" stroke="#111" stroke-width="0.23">(c)</text>
<rect x="559.5" y="123.3" width="105.2" height="47.3" fill="#fff" fill-opacity="1" stroke="#dddddd" stroke-width="0.8" rx="1.5"/>
<circle cx="569.7" cy="130.2" r="1" fill="#ff1a1a" fill-opacity="1"/>
<circle cx="569.7" cy="141" r="1" fill="#118811" fill-opacity="1"/>
<path d="M568.35,150.65L571.05,153.35M568.35,153.35L571.05,150.65" stroke="#ff3333" stroke-width="1.1" fill="none"/>
<path d="M568.35,161.35L571.05,164.05M568.35,164.05L571.05,161.35" stroke="#1a8a1a" stroke-width="1.1" fill="none"/>
<text x="575.6" y="132.5" font-size="7.6" text-anchor="start" fill="#111" stroke="#111" stroke-width="0.09" textLength="81.5" lengthAdjust="spacingAndGlyphs">Cls -1 &amp; 4 (LD-weekdays)</text>
<text x="575.6" y="143.3" font-size="7.6" text-anchor="start" fill="#111" stroke="#111" stroke-width="0.09" textLength="86.6" lengthAdjust="spacingAndGlyphs">Cls -1 &amp; 4 (ULD-weekdays)</text>
<text x="577" y="154.4" font-size="7.6" text-anchor="start" fill="#111" stroke="#111" stroke-width="0.09" textLength="79.5" lengthAdjust="spacingAndGlyphs">Cls -2 &amp; 3 (LD-weekends)</text>
<text x="575.6" y="165" font-size="7.6" text-anchor="start" fill="#111" stroke="#111" stroke-width="0.09" textLength="87.2" lengthAdjust="spacingAndGlyphs">Cls -2 &amp; 3 (ULD-weekends)</text>
<line x1="45.15" y1="234" x2="45.15" y2="349.4" stroke="#d4d4d4" stroke-width="0.6" stroke-dasharray="1.5 1.2"/>
<line x1="64" y1="234" x2="64" y2="349.4" stroke="#d4d4d4" stroke-width="0.6" stroke-dasharray="1.5 1.2"/>
<line x1="82.85" y1="234" x2="82.85" y2="349.4" stroke="#d4d4d4" stroke-width="0.6" stroke-dasharray="1.5 1.2"/>
<line x1="101.7" y1="234" x2="101.7" y2="349.4" stroke="#d4d4d4" stroke-width="0.6" stroke-dasharray="1.5 1.2"/>
<line x1="120.55" y1="234" x2="120.55" y2="349.4" stroke="#d4d4d4" stroke-width="0.6" stroke-dasharray="1.5 1.2"/>
<line x1="139.4" y1="234" x2="139.4" y2="349.4" stroke="#d4d4d4" stroke-width="0.6" stroke-dasharray="1.5 1.2"/>
<line x1="158.25" y1="234" x2="158.25" y2="349.4" stroke="#d4d4d4" stroke-width="0.6" stroke-dasharray="1.5 1.2"/>
<line x1="26.3" y1="339.3" x2="167.4" y2="339.3" stroke="#d4d4d4" stroke-width="0.6" stroke-dasharray="1.5 1.2"/>
<line x1="26.3" y1="320.08" x2="167.4" y2="320.08" stroke="#d4d4d4" stroke-width="0.6" stroke-dasharray="1.5 1.2"/>
<line x1="26.3" y1="300.86" x2="167.4" y2="300.86" stroke="#d4d4d4" stroke-width="0.6" stroke-dasharray="1.5 1.2"/>
<line x1="26.3" y1="281.64" x2="167.4" y2="281.64" stroke="#d4d4d4" stroke-width="0.6" stroke-dasharray="1.5 1.2"/>
<line x1="26.3" y1="262.42" x2="167.4" y2="262.42" stroke="#d4d4d4" stroke-width="0.6" stroke-dasharray="1.5 1.2"/>
<line x1="26.3" y1="243.2" x2="167.4" y2="243.2" stroke="#d4d4d4" stroke-width="0.6" stroke-dasharray="1.5 1.2"/>
<clipPath id="c4"><rect x="26.3" y="234" width="141.1" height="115.4"/></clipPath><g clip-path="url(#c4)">
<polygon points="30.45,343.36 33.88,336.06 41.51,314.8 49.05,296.91 52.82,287.3 64.13,269.64 70.73,258.03 80.16,243.82 92.32,242.04 111.17,240.47 116.82,242.08 116.82,250.54 111.17,248.93 92.32,250.5 80.16,252.28 70.73,266.48 64.13,278.09 52.82,295.75 49.05,305.36 41.51,323.26 33.88,344.51 30.45,351.82" fill="#3333ff" fill-opacity="0.12"/>
<polygon points="30.47,345.71 34.12,335.46 42.21,316.31 49.75,298.04 53.52,288.62 64.83,273.37 71.43,258.44 80.85,243.96 92.52,243.15 111.37,241.59 124.57,243.97 124.57,252.43 111.37,250.05 92.52,251.61 80.85,252.42 71.43,266.9 64.83,281.82 53.52,297.07 49.75,306.5 42.21,324.77 34.12,343.92 30.47,354.17" fill="#119911" fill-opacity="0.12"/>
<polygon points="30.44,344.43 33.8,334.28 41.27,316.75 48.81,297.05 52.58,289.15 63.89,272.18 70.49,260.51 79.91,245.28 92.24,241.65 111.09,243.99 120.52,241.46 120.52,249.92 111.09,252.45 92.24,250.11 79.91,253.73 70.49,268.97 63.89,280.63 52.58,297.61 48.81,305.51 41.27,325.2 33.8,342.73 30.44,352.89" fill="#ee2222" fill-opacity="0.12"/>
<polygon points="30.46,345.01 33.99,334.59 41.84,315.29 49.38,295.53 53.15,287.27 64.46,272.27 71.06,258.83 80.49,244.82 92.41,242.86 111.26,242.49 128.23,241.69 128.23,250.14 111.26,250.95 92.41,251.32 80.49,253.28 71.06,267.29 64.46,280.73 53.15,295.72 49.38,303.98 41.84,323.75 33.99,343.04 30.46,353.47" fill="#00bbbb" fill-opacity="0.12"/>
<polygon points="30.36,345.84 32.96,336.08 38.74,318.06 46.28,294.62 50.05,289.57 61.36,271.95 67.95,258.75 77.38,242.03 91.48,244.91 110.33,240.53 114.1,242.69 114.1,251.15 110.33,248.99 91.48,253.37 77.38,250.48 67.95,267.2 61.36,280.4 50.05,298.02 46.28,303.08 38.74,326.52 32.96,344.54 30.36,354.29" fill="#bbbb00" fill-opacity="0.12"/>
<polygon points="30.44,345.39 33.77,334.39 41.16,317.05 48.7,296.72 52.47,286.65 63.78,269.7 70.38,260.73 79.8,242.16 92.21,241.81 111.06,242.17 118.6,241.85 118.6,250.31 111.06,250.63 92.21,250.27 79.8,250.62 70.38,269.19 63.78,278.16 52.47,295.1 48.7,305.17 41.16,325.51 33.77,342.85 30.44,353.85" fill="#cc00cc" fill-opacity="0.12"/>
<polygon points="30.43,342.94 33.62,334.85 40.72,316.08 48.26,296.87 52.03,287.23 63.34,271.83 69.94,259.12 79.36,241.6 92.08,244.84 110.93,245.47 126.01,242.82 126.01,251.27 110.93,253.93 92.08,253.29 79.36,250.06 69.94,267.58 63.34,280.29 52.03,295.69 48.26,305.33 40.72,324.54 33.62,343.31 30.43,351.4" fill="#ff9900" fill-opacity="0.12"/>
<polygon points="77,250 84,247 90,256 90.5,279 85,262" fill="#cc00cc" fill-opacity="0.3"/>
<polygon points="60,276 70,262 76,254 77,270 66,290" fill="#00bbbb" fill-opacity="0.2"/>
<polyline points="30.45,347.59 33.88,340.28 41.51,319.03 49.05,301.13 52.82,291.53 64.13,273.87 70.73,262.25 80.16,248.05 92.32,246.27 111.17,244.7 116.82,246.31" fill="none" stroke="#3333ff" stroke-width="1" stroke-opacity="0.85" stroke-linejoin="round"/>
<polyline points="30.47,349.94 34.12,339.69 42.21,320.54 49.75,302.27 53.52,292.84 64.83,277.59 71.43,262.67 80.85,248.19 92.52,247.38 111.37,245.82 124.57,248.2" fill="none" stroke="#119911" stroke-width="1" stroke-opacity="0.85" stroke-linejoin="round"/>
<polyline points="30.44,348.66 33.8,338.51 41.27,320.97 48.81,301.28 52.58,293.38 63.89,276.41 70.49,264.74 79.91,249.51 92.24,245.88 111.09,248.22 120.52,245.69" fill="none" stroke="#ee2222" stroke-width="1" stroke-opacity="0.85" stroke-linejoin="round"/>
<polyline points="30.46,349.24 33.99,338.81 41.84,319.52 49.38,299.75 53.15,291.49 64.46,276.5 71.06,263.06 80.49,249.05 92.41,247.09 111.26,246.72 128.23,245.91" fill="none" stroke="#00bbbb" stroke-width="1" stroke-opacity="0.85" stroke-linejoin="round"/>
<polyline points="30.36,350.07 32.96,340.31 38.74,322.29 46.28,298.85 50.05,293.8 61.36,276.17 67.95,262.98 77.38,246.25 91.48,249.14 110.33,244.76 114.1,246.92" fill="none" stroke="#bbbb00" stroke-width="1" stroke-opacity="0.85" stroke-linejoin="round"/>
<polyline points="30.44,349.62 33.77,338.62 41.16,321.28 48.7,300.94 52.47,290.88 63.78,273.93 70.38,264.96 79.8,246.39 92.21,246.04 111.06,246.4 118.6,246.08" fill="none" stroke="#cc00cc" stroke-width="1" stroke-opacity="0.85" stroke-linejoin="round"/>
<polyline points="30.43,347.17 33.62,339.08 40.72,320.31 48.26,301.1 52.03,291.46 63.34,276.06 69.94,263.35 79.36,245.83 92.08,249.06 110.93,249.7 126.01,247.05" fill="none" stroke="#ff9900" stroke-width="1" stroke-opacity="0.85" stroke-linejoin="round"/>
<circle cx="38.48" cy="327.68" r="1" fill="#3333ff" fill-opacity="0.95"/>
<circle cx="66.56" cy="270.91" r="1" fill="#3333ff" fill-opacity="0.95"/>
<circle cx="84.97" cy="241.05" r="1" fill="#3333ff" fill-opacity="0.95"/>
<circle cx="113.27" cy="244.24" r="1" fill="#3333ff" fill-opacity="0.95"/>
<circle cx="93.32" cy="250.95" r="1" fill="#3333ff" fill-opacity="0.95"/>
<circle cx="101.54" cy="245.47" r="1" fill="#3333ff" fill-opacity="0.95"/>
<circle cx="102.46" cy="242.67" r="1" fill="#3333ff" fill-opacity="0.95"/>
<circle cx="93.06" cy="248.46" r="1" fill="#3333ff" fill-opacity="0.95"/>
<circle cx="57.49" cy="282.69" r="1" fill="#3333ff" fill-opacity="0.95"/>
<circle cx="79.51" cy="249.36" r="1" fill="#3333ff" fill-opacity="0.95"/>
<circle cx="81.15" cy="243.27" r="1" fill="#3333ff" fill-opacity="0.95"/>
<circle cx="81.35" cy="247.31" r="1" fill="#3333ff" fill-opacity="0.95"/>
<circle cx="96.66" cy="248.13" r="1" fill="#3333ff" fill-opacity="0.95"/>
<circle cx="106.9" cy="249" r="1" fill="#3333ff" fill-opacity="0.95"/>
<circle cx="37.09" cy="332.23" r="1" fill="#3333ff" fill-opacity="0.95"/>
<circle cx="70.66" cy="266.21" r="1" fill="#3333ff" fill-opacity="0.95"/>
<circle cx="93.56" cy="248.89" r="1" fill="#119911" fill-opacity="0.95"/>
<circle cx="86.97" cy="245.25" r="1" fill="#119911" fill-opacity="0.95"/>
<circle cx="66.79" cy="270.13" r="1" fill="#119911" fill-opacity="0.95"/>
<circle cx="112.34" cy="246.76" r="1" fill="#119911" fill-opacity="0.95"/>
<circle cx="52.51" cy="291.3" r="1" fill="#119911" fill-opacity="0.95"/>
<circle cx="72.16" cy="261.22" r="1" fill="#119911" fill-opacity="0.95"/>
<circle cx="83.69" cy="249.05" r="1" fill="#119911" fill-opacity="0.95"/>
<circle cx="98.91" cy="243.9" r="1" fill="#119911" fill-opacity="0.95"/>
<circle cx="86.74" cy="250.02" r="1" fill="#119911" fill-opacity="0.95"/>
<circle cx="99.49" cy="242.41" r="1" fill="#119911" fill-opacity="0.95"/>
<circle cx="43.12" cy="316.31" r="1" fill="#119911" fill-opacity="0.95"/>
<circle cx="117.01" cy="246.7" r="1" fill="#119911" fill-opacity="0.95"/>
<circle cx="57.69" cy="283.6" r="1" fill="#119911" fill-opacity="0.95"/>
<circle cx="94.7" cy="251.43" r="1" fill="#119911" fill-opacity="0.95"/>
<circle cx="58.92" cy="282.41" r="1" fill="#119911" fill-opacity="0.95"/>
<circle cx="70.46" cy="263.99" r="1" fill="#119911" fill-opacity="0.95"/>
<circle cx="68.24" cy="266.37" r="1" fill="#ee2222" fill-opacity="0.95"/>
<circle cx="115.52" cy="247.13" r="1" fill="#ee2222" fill-opacity="0.95"/>
<circle cx="120.01" cy="254.08" r="1" fill="#ee2222" fill-opacity="0.95"/>
<circle cx="88.29" cy="244.04" r="1" fill="#ee2222" fill-opacity="0.95"/>
<circle cx="113.78" cy="248.2" r="1" fill="#ee2222" fill-opacity="0.95"/>
<circle cx="62.17" cy="280.11" r="1" fill="#ee2222" fill-opacity="0.95"/>
<circle cx="37.99" cy="329.47" r="1" fill="#ee2222" fill-opacity="0.95"/>
<circle cx="80.95" cy="249.4" r="1" fill="#ee2222" fill-opacity="0.95"/>
<circle cx="107.85" cy="239.69" r="1" fill="#ee2222" fill-opacity="0.95"/>
<circle cx="103.01" cy="249.7" r="1" fill="#ee2222" fill-opacity="0.95"/>
<circle cx="97.98" cy="245.35" r="1" fill="#ee2222" fill-opacity="0.95"/>
<circle cx="100.85" cy="244" r="1" fill="#ee2222" fill-opacity="0.95"/>
<circle cx="115.15" cy="248.52" r="1" fill="#ee2222" fill-opacity="0.95"/>
<circle cx="108.29" cy="248.07" r="1" fill="#ee2222" fill-opacity="0.95"/>
<circle cx="101.27" cy="247.83" r="1" fill="#ee2222" fill-opacity="0.95"/>
<circle cx="112.95" cy="244.22" r="1" fill="#ee2222" fill-opacity="0.95"/>
<circle cx="108.06" cy="240.68" r="1" fill="#00bbbb" fill-opacity="0.95"/>
<circle cx="79.45" cy="251.78" r="1" fill="#00bbbb" fill-opacity="0.95"/>
<circle cx="121.35" cy="244.03" r="1" fill="#00bbbb" fill-opacity="0.95"/>
<circle cx="82.64" cy="246.97" r="1" fill="#00bbbb" fill-opacity="0.95"/>
<circle cx="77.42" cy="251.97" r="1" fill="#00bbbb" fill-opacity="0.95"/>
<circle cx="44.15" cy="313.08" r="1" fill="#00bbbb" fill-opacity="0.95"/>
<circle cx="38.53" cy="325.29" r="1" fill="#00bbbb" fill-opacity="0.95"/>
<circle cx="80.23" cy="249.04" r="1" fill="#00bbbb" fill-opacity="0.95"/>
<circle cx="62.2" cy="279.78" r="1" fill="#00bbbb" fill-opacity="0.95"/>
<circle cx="96.76" cy="242.84" r="1" fill="#00bbbb" fill-opacity="0.95"/>
<circle cx="63.56" cy="274.93" r="1" fill="#00bbbb" fill-opacity="0.95"/>
<circle cx="97.72" cy="243.69" r="1" fill="#00bbbb" fill-opacity="0.95"/>
<circle cx="49.12" cy="301.96" r="1" fill="#00bbbb" fill-opacity="0.95"/>
<circle cx="97.72" cy="243.42" r="1" fill="#00bbbb" fill-opacity="0.95"/>
<circle cx="109.61" cy="248.95" r="1" fill="#00bbbb" fill-opacity="0.95"/>
<circle cx="99.53" cy="245.24" r="1" fill="#00bbbb" fill-opacity="0.95"/>
<circle cx="89.53" cy="249.72" r="1" fill="#bbbb00" fill-opacity="0.95"/>
<circle cx="103.98" cy="245.71" r="1" fill="#bbbb00" fill-opacity="0.95"/>
<circle cx="67.2" cy="272.47" r="1" fill="#bbbb00" fill-opacity="0.95"/>
<circle cx="92.48" cy="243.9" r="1" fill="#bbbb00" fill-opacity="0.95"/>
<circle cx="107.41" cy="246.41" r="1" fill="#bbbb00" fill-opacity="0.95"/>
<circle cx="99.4" cy="242.84" r="1" fill="#bbbb00" fill-opacity="0.95"/>
<circle cx="110.86" cy="244.58" r="1" fill="#bbbb00" fill-opacity="0.95"/>
<circle cx="99.27" cy="251.46" r="1" fill="#bbbb00" fill-opacity="0.95"/>
<circle cx="80.7" cy="246.07" r="1" fill="#bbbb00" fill-opacity="0.95"/>
<circle cx="80.67" cy="247.9" r="1" fill="#bbbb00" fill-opacity="0.95"/>
<circle cx="40.19" cy="322.63" r="1" fill="#bbbb00" fill-opacity="0.95"/>
<circle cx="101.75" cy="247.91" r="1" fill="#bbbb00" fill-opacity="0.95"/>
<circle cx="101.95" cy="249.43" r="1" fill="#bbbb00" fill-opacity="0.95"/>
<circle cx="99.82" cy="252.29" r="1" fill="#bbbb00" fill-opacity="0.95"/>
<circle cx="80.38" cy="247.53" r="1" fill="#bbbb00" fill-opacity="0.95"/>
<circle cx="82.9" cy="251.8" r="1" fill="#bbbb00" fill-opacity="0.95"/>
<circle cx="116.07" cy="243.45" r="1" fill="#cc00cc" fill-opacity="0.95"/>
<circle cx="111.86" cy="244.82" r="1" fill="#cc00cc" fill-opacity="0.95"/>
<circle cx="47.54" cy="304.37" r="1" fill="#cc00cc" fill-opacity="0.95"/>
<circle cx="94.67" cy="242.22" r="1" fill="#cc00cc" fill-opacity="0.95"/>
<circle cx="66.35" cy="272.12" r="1" fill="#cc00cc" fill-opacity="0.95"/>
<circle cx="75.34" cy="253.75" r="1" fill="#cc00cc" fill-opacity="0.95"/>
<circle cx="95.42" cy="246.88" r="1" fill="#cc00cc" fill-opacity="0.95"/>
<circle cx="109.01" cy="248.02" r="1" fill="#cc00cc" fill-opacity="0.95"/>
<circle cx="99.55" cy="251.43" r="1" fill="#cc00cc" fill-opacity="0.95"/>
<circle cx="84.99" cy="247.12" r="1" fill="#cc00cc" fill-opacity="0.95"/>
<circle cx="96.83" cy="243.23" r="1" fill="#cc00cc" fill-opacity="0.95"/>
<circle cx="94.29" cy="248.96" r="1" fill="#cc00cc" fill-opacity="0.95"/>
<circle cx="55.14" cy="287.22" r="1" fill="#cc00cc" fill-opacity="0.95"/>
<circle cx="52.1" cy="290.63" r="1" fill="#cc00cc" fill-opacity="0.95"/>
<circle cx="116.82" cy="247.78" r="1" fill="#cc00cc" fill-opacity="0.95"/>
<circle cx="105.97" cy="241.14" r="1" fill="#cc00cc" fill-opacity="0.95"/>
<circle cx="91.67" cy="246.94" r="1" fill="#ff9900" fill-opacity="0.95"/>
<circle cx="68.03" cy="267.3" r="1" fill="#ff9900" fill-opacity="0.95"/>
<circle cx="65.93" cy="273.22" r="1" fill="#ff9900" fill-opacity="0.95"/>
<circle cx="125.38" cy="241.61" r="1" fill="#ff9900" fill-opacity="0.95"/>
<circle cx="88.41" cy="253.64" r="1" fill="#ff9900" fill-opacity="0.95"/>
<circle cx="105.33" cy="244.97" r="1" fill="#ff9900" fill-opacity="0.95"/>
<circle cx="99.88" cy="244.45" r="1" fill="#ff9900" fill-opacity="0.95"/>
<circle cx="124.33" cy="249.47" r="1" fill="#ff9900" fill-opacity="0.95"/>
<circle cx="53.59" cy="289.76" r="1" fill="#ff9900" fill-opacity="0.95"/>
<circle cx="124.26" cy="241.43" r="1" fill="#ff9900" fill-opacity="0.95"/>
<circle cx="90.49" cy="246.21" r="1" fill="#ff9900" fill-opacity="0.95"/>
<circle cx="98.38" cy="244.24" r="1" fill="#ff9900" fill-opacity="0.95"/>
<circle cx="121.48" cy="246.81" r="1" fill="#ff9900" fill-opacity="0.95"/>
<circle cx="71.85" cy="257.12" r="1" fill="#ff9900" fill-opacity="0.95"/>
<circle cx="83.13" cy="242.41" r="1" fill="#ff9900" fill-opacity="0.95"/>
<circle cx="65.57" cy="270.91" r="1" fill="#ff9900" fill-opacity="0.95"/>
<circle cx="70" cy="284" r="1" fill="#ff9900" fill-opacity="1"/>
<circle cx="91.5" cy="263" r="1" fill="#cc00cc" fill-opacity="1"/>
<circle cx="90.7" cy="304.5" r="1" fill="#cc00cc" fill-opacity="1"/>
<circle cx="81" cy="255" r="1" fill="#cc00cc" fill-opacity="1"/>
<circle cx="83" cy="260" r="1" fill="#cc00cc" fill-opacity="1"/>
<circle cx="67" cy="291" r="1" fill="#ff9900" fill-opacity="1"/>
<circle cx="53.5" cy="299" r="1" fill="#ff9900" fill-opacity="1"/>
<circle cx="55" cy="302" r="1" fill="#ff9900" fill-opacity="1"/>
<circle cx="57.5" cy="297" r="1" fill="#ff9900" fill-opacity="1"/>
<circle cx="59" cy="296" r="1" fill="#ff9900" fill-opacity="1"/>
</g>
<line x1="26.3" y1="233.5" x2="26.3" y2="349.9" stroke="#b0b0b0" stroke-width="1.4"/>
<line x1="25.8" y1="234" x2="167.9" y2="234" stroke="#cccccc" stroke-width="1.7"/>
<line x1="167.4" y1="233.5" x2="167.4" y2="349.9" stroke="#888" stroke-width="1.3"/>
<line x1="25.8" y1="349.4" x2="167.9" y2="349.4" stroke="#777" stroke-width="1.3"/>
<line x1="26.3" y1="349.4" x2="26.3" y2="351.2" stroke="#777" stroke-width="0.8"/>
<text x="26.3" y="357.2" font-size="6.4" text-anchor="middle" fill="#222" stroke="#222" stroke-width="0.08">0</text>
<line x1="45.15" y1="349.4" x2="45.15" y2="351.2" stroke="#777" stroke-width="0.8"/>
<text x="45.15" y="357.2" font-size="6.4" text-anchor="middle" fill="#222" stroke="#222" stroke-width="0.08">10</text>
<line x1="64" y1="349.4" x2="64" y2="351.2" stroke="#777" stroke-width="0.8"/>
<text x="64" y="357.2" font-size="6.4" text-anchor="middle" fill="#222" stroke="#222" stroke-width="0.08">20</text>
<line x1="82.85" y1="349.4" x2="82.85" y2="351.2" stroke="#777" stroke-width="0.8"/>
<text x="82.85" y="357.2" font-size="6.4" text-anchor="middle" fill="#222" stroke="#222" stroke-width="0.08">30</text>
<line x1="101.7" y1="349.4" x2="101.7" y2="351.2" stroke="#777" stroke-width="0.8"/>
<text x="101.7" y="357.2" font-size="6.4" text-anchor="middle" fill="#222" stroke="#222" stroke-width="0.08">40</text>
<line x1="120.55" y1="349.4" x2="120.55" y2="351.2" stroke="#777" stroke-width="0.8"/>
<text x="120.55" y="357.2" font-size="6.4" text-anchor="middle" fill="#222" stroke="#222" stroke-width="0.08">50</text>
<line x1="139.4" y1="349.4" x2="139.4" y2="351.2" stroke="#777" stroke-width="0.8"/>
<text x="139.4" y="357.2" font-size="6.4" text-anchor="middle" fill="#222" stroke="#222" stroke-width="0.08">60</text>
<line x1="158.25" y1="349.4" x2="158.25" y2="351.2" stroke="#777" stroke-width="0.8"/>
<text x="158.25" y="357.2" font-size="6.4" text-anchor="middle" fill="#222" stroke="#222" stroke-width="0.08">70</text>
<line x1="24.5" y1="339.3" x2="26.3" y2="339.3" stroke="#777" stroke-width="0.8"/>
<text x="23.7" y="341.5" font-size="6.4" text-anchor="end" fill="#222" stroke="#222" stroke-width="0.08">200</text>
<line x1="24.5" y1="320.08" x2="26.3" y2="320.08" stroke="#777" stroke-width="0.8"/>
<text x="23.7" y="322.28" font-size="6.4" text-anchor="end" fill="#222" stroke="#222" stroke-width="0.08">400</text>
<line x1="24.5" y1="300.86" x2="26.3" y2="300.86" stroke="#777" stroke-width="0.8"/>
<text x="23.7" y="303.06" font-size="6.4" text-anchor="end" fill="#222" stroke="#222" stroke-width="0.08">600</text>
<line x1="24.5" y1="281.64" x2="26.3" y2="281.64" stroke="#777" stroke-width="0.8"/>
<text x="23.7" y="283.84" font-size="6.4" text-anchor="end" fill="#222" stroke="#222" stroke-width="0.08">800</text>
<line x1="24.5" y1="262.42" x2="26.3" y2="262.42" stroke="#777" stroke-width="0.8"/>
<text x="23.7" y="264.62" font-size="6.4" text-anchor="end" fill="#222" stroke="#222" stroke-width="0.08">1000</text>
<line x1="24.5" y1="243.2" x2="26.3" y2="243.2" stroke="#777" stroke-width="0.8"/>
<text x="23.7" y="245.4" font-size="6.4" text-anchor="end" fill="#222" stroke="#222" stroke-width="0.08">1200</text>
<text x="82.4" y="225.7" font-size="9.5" text-anchor="start" fill="#111" stroke="#111" stroke-width="0.24" textLength="34.2" lengthAdjust="spacingAndGlyphs">Loading</text>
<line x1="71" y1="231" x2="123" y2="231" stroke="#c8c8c8" stroke-width="1.1" stroke-dasharray="1.6 0.8 2.4 0.8 1 1.2"/>
<text x="96.9" y="364.9" font-size="6.6" text-anchor="middle" fill="#222" stroke="#222" stroke-width="0.08" textLength="52.5" lengthAdjust="spacingAndGlyphs">Density (veh./Km)</text>
<text x="96.1" y="377.7" font-size="10.4" text-anchor="middle" fill="#111" stroke="#111" stroke-width="0.26">(d)</text>
<text x="5.5" y="278.6" font-size="6.2" text-anchor="middle" fill="#222" stroke="#222" stroke-width="0.07" transform="rotate(-90 5.5 278.6)" textLength="34" lengthAdjust="spacingAndGlyphs">Flow (veh./Hr.)</text>
<rect x="110.1" y="285.5" width="54.4" height="61.5" fill="#fff" fill-opacity="0.9" stroke="#dddddd" stroke-width="0.8" rx="1.5"/>
<line x1="112" y1="289.6" x2="124" y2="289.6" stroke="#a8a8ff" stroke-width="1.3"/>
<text x="128.5" y="291.9" font-size="6.4" text-anchor="start" fill="#2a2a2a" stroke="#2a2a2a" stroke-width="0.02">Monday</text>
<line x1="112" y1="298.4" x2="124" y2="298.4" stroke="#7fc07f" stroke-width="1.3"/>
<text x="128.5" y="300.7" font-size="6.4" text-anchor="start" fill="#2a2a2a" stroke="#2a2a2a" stroke-width="0.02">Tuesday</text>
<line x1="112" y1="307.3" x2="124" y2="307.3" stroke="#f49090" stroke-width="1.3"/>
<text x="128.5" y="309.6" font-size="6.4" text-anchor="start" fill="#2a2a2a" stroke="#2a2a2a" stroke-width="0.02">Wednesday</text>
<line x1="112" y1="315.4" x2="124" y2="315.4" stroke="#7fdede" stroke-width="1.3"/>
<text x="128.5" y="317.7" font-size="6.4" text-anchor="start" fill="#2a2a2a" stroke="#2a2a2a" stroke-width="0.02">Thursday</text>
<line x1="112" y1="323.8" x2="124" y2="323.8" stroke="#dede8f" stroke-width="1.3"/>
<text x="128.5" y="326.1" font-size="6.4" text-anchor="start" fill="#2a2a2a" stroke="#2a2a2a" stroke-width="0.02">Friday</text>
<line x1="112" y1="332.5" x2="124" y2="332.5" stroke="#e38ee3" stroke-width="1.3"/>
<text x="128.5" y="334.8" font-size="6.4" text-anchor="start" fill="#2a2a2a" stroke="#2a2a2a" stroke-width="0.02">Saturday</text>
<line x1="112" y1="341.1" x2="124" y2="341.1" stroke="#fbc77f" stroke-width="1.3"/>
<text x="128.5" y="343.4" font-size="6.4" text-anchor="start" fill="#2a2a2a" stroke="#2a2a2a" stroke-width="0.02">Sunday</text>
<line x1="214.7" y1="234" x2="214.7" y2="349.4" stroke="#d4d4d4" stroke-width="0.6" stroke-dasharray="1.5 1.2"/>
<line x1="233.6" y1="234" x2="233.6" y2="349.4" stroke="#d4d4d4" stroke-width="0.6" stroke-dasharray="1.5 1.2"/>
<line x1="252.5" y1="234" x2="252.5" y2="349.4" stroke="#d4d4d4" stroke-width="0.6" stroke-dasharray="1.5 1.2"/>
<line x1="271.4" y1="234" x2="271.4" y2="349.4" stroke="#d4d4d4" stroke-width="0.6" stroke-dasharray="1.5 1.2"/>
<line x1="290.3" y1="234" x2="290.3" y2="349.4" stroke="#d4d4d4" stroke-width="0.6" stroke-dasharray="1.5 1.2"/>
<line x1="309.2" y1="234" x2="309.2" y2="349.4" stroke="#d4d4d4" stroke-width="0.6" stroke-dasharray="1.5 1.2"/>
<line x1="328.1" y1="234" x2="328.1" y2="349.4" stroke="#d4d4d4" stroke-width="0.6" stroke-dasharray="1.5 1.2"/>
<line x1="195.8" y1="339.3" x2="337.4" y2="339.3" stroke="#d4d4d4" stroke-width="0.6" stroke-dasharray="1.5 1.2"/>
<line x1="195.8" y1="320.08" x2="337.4" y2="320.08" stroke="#d4d4d4" stroke-width="0.6" stroke-dasharray="1.5 1.2"/>
<line x1="195.8" y1="300.86" x2="337.4" y2="300.86" stroke="#d4d4d4" stroke-width="0.6" stroke-dasharray="1.5 1.2"/>
<line x1="195.8" y1="281.64" x2="337.4" y2="281.64" stroke="#d4d4d4" stroke-width="0.6" stroke-dasharray="1.5 1.2"/>
<line x1="195.8" y1="262.42" x2="337.4" y2="262.42" stroke="#d4d4d4" stroke-width="0.6" stroke-dasharray="1.5 1.2"/>
<line x1="195.8" y1="243.2" x2="337.4" y2="243.2" stroke="#d4d4d4" stroke-width="0.6" stroke-dasharray="1.5 1.2"/>
<clipPath id="c5"><rect x="195.8" y="234" width="141.6" height="115.4"/></clipPath><g clip-path="url(#c5)">
<polygon points="199.96,344.19 202.24,335.56 210.79,315.48 220.24,295.65 229.12,276.98 233.09,266.15 239.33,259.13 250.67,248.51 261.97,245.96 280.87,243.16 286.54,242.69 286.54,251.15 280.87,251.62 261.97,254.42 250.67,256.97 239.33,267.58 233.09,274.61 229.12,285.43 220.24,304.11 210.79,323.94 202.24,344.02 199.96,352.65" fill="#3333ff" fill-opacity="0.12"/>
<polygon points="199.97,344.24 202.3,334.53 211.04,313.49 220.49,295.72 229.38,279.1 233.35,267.59 239.58,258.85 250.92,249.13 262.04,243.84 280.94,242.57 294.17,244.77 294.17,253.23 280.94,251.03 262.04,252.29 250.92,257.58 239.58,267.31 233.35,276.04 229.38,287.55 220.49,304.18 211.04,321.95 202.3,342.99 199.97,352.7" fill="#119911" fill-opacity="0.12"/>
<polygon points="199.97,344.99 202.33,336.31 211.16,316.83 220.62,297.29 229.5,277.44 233.47,268.25 239.71,258.12 251.05,246.64 262.08,246.06 280.98,243.19 290.43,242.87 290.43,251.32 280.98,251.65 262.08,254.52 251.05,255.1 239.71,266.57 233.47,276.71 229.5,285.89 220.62,305.75 211.16,325.28 202.33,344.77 199.97,353.45" fill="#ee2222" fill-opacity="0.12"/>
<polygon points="200.01,345.43 202.59,333.56 212.26,317.23 221.73,297.72 230.62,277.47 234.59,268.71 240.82,258.85 252.16,248.1 262.42,244.45 281.32,242.21 298.33,243.11 298.33,251.56 281.32,250.67 262.42,252.91 252.16,256.56 240.82,267.3 234.59,277.17 230.62,285.93 221.73,306.18 212.26,325.69 202.59,342.01 200.01,353.88" fill="#00bbbb" fill-opacity="0.12"/>
<polygon points="200.02,344.26 202.67,335.32 212.6,314.57 222.09,297.58 230.97,277.24 234.94,267.1 241.18,258.2 252.52,249.19 262.52,244.85 281.42,242.91 285.2,243.07 285.2,251.53 281.42,251.36 262.52,253.3 252.52,257.65 241.18,266.66 234.94,275.56 230.97,285.69 222.09,306.04 212.6,323.02 202.67,343.78 200.02,352.71" fill="#bbbb00" fill-opacity="0.12"/>
<polygon points="199.91,343.3 201.89,335.65 209.31,314.63 218.73,296.23 227.61,277.69 231.58,267.1 237.82,257.9 249.16,248.44 261.52,246.67 280.42,242.26 287.98,241.6 287.98,250.06 280.42,250.72 261.52,255.13 249.16,256.9 237.82,266.36 231.58,275.55 227.61,286.14 218.73,304.69 209.31,323.09 201.89,344.11 199.91,351.76" fill="#cc00cc" fill-opacity="0.12"/>
<polygon points="199.98,343.63 202.39,333.5 211.41,315.42 220.87,294.54 229.75,279.01 233.72,268.06 239.96,260.86 251.3,247.71 262.16,245.12 281.06,240.55 296.18,243.15 296.18,251.61 281.06,249.01 262.16,253.58 251.3,256.17 239.96,269.32 233.72,276.51 229.75,287.47 220.87,303 211.41,323.87 202.39,341.95 199.98,352.09" fill="#ff9900" fill-opacity="0.12"/>
<polygon points="247,256 259.4,239 259.6,262 259,313 253,282" fill="#cc00cc" fill-opacity="0.25"/>
<polygon points="226,296 236,276 246,262 250,258 248,268 238,285 229,303" fill="#00bbbb" fill-opacity="0.22"/>
<polygon points="248,256 250,255 258,274 257,276" fill="#cc00cc" fill-opacity="0.6"/>
<polyline points="199.96,348.42 202.24,339.79 210.79,319.71 220.24,299.88 229.12,281.21 233.09,270.38 239.33,263.36 250.67,252.74 261.97,250.19 280.87,247.39 286.54,246.92" fill="none" stroke="#3333ff" stroke-width="1" stroke-opacity="0.85" stroke-linejoin="round"/>
<polyline points="199.97,348.47 202.3,338.76 211.04,317.72 220.49,299.95 229.38,283.33 233.35,271.81 239.58,263.08 250.92,253.36 262.04,248.07 280.94,246.8 294.17,249" fill="none" stroke="#119911" stroke-width="1" stroke-opacity="0.85" stroke-linejoin="round"/>
<polyline points="199.97,349.22 202.33,340.54 211.16,321.05 220.62,301.52 229.5,281.66 233.47,272.48 239.71,262.34 251.05,250.87 262.08,250.29 280.98,247.42 290.43,247.09" fill="none" stroke="#ee2222" stroke-width="1" stroke-opacity="0.85" stroke-linejoin="round"/>
<polyline points="200.01,349.66 202.59,337.78 212.26,321.46 221.73,301.95 230.62,281.7 234.59,272.94 240.82,263.07 252.16,252.33 262.42,248.68 281.32,246.44 298.33,247.33" fill="none" stroke="#00bbbb" stroke-width="1" stroke-opacity="0.85" stroke-linejoin="round"/>
<polyline points="200.02,348.48 202.67,339.55 212.6,318.8 222.09,301.81 230.97,281.47 234.94,271.33 241.18,262.43 252.52,253.42 262.52,249.08 281.42,247.14 285.2,247.3" fill="none" stroke="#bbbb00" stroke-width="1" stroke-opacity="0.85" stroke-linejoin="round"/>
<polyline points="199.91,347.53 201.89,339.88 209.31,318.86 218.73,300.46 227.61,281.92 231.58,271.32 237.82,262.13 249.16,252.67 261.52,250.9 280.42,246.49 287.98,245.83" fill="none" stroke="#cc00cc" stroke-width="1" stroke-opacity="0.85" stroke-linejoin="round"/>
<polyline points="199.98,347.86 202.39,337.72 211.41,319.65 220.87,298.77 229.75,283.24 233.72,272.28 239.96,265.09 251.3,251.94 262.16,249.35 281.06,244.78 296.18,247.38" fill="none" stroke="#ff9900" stroke-width="1" stroke-opacity="0.85" stroke-linejoin="round"/>
<circle cx="281.7" cy="251.13" r="1" fill="#3333ff" fill-opacity="0.95"/>
<circle cx="217.75" cy="307.95" r="1" fill="#3333ff" fill-opacity="0.95"/>
<circle cx="213.07" cy="317.3" r="1" fill="#3333ff" fill-opacity="0.95"/>
<circle cx="202.27" cy="337.37" r="1" fill="#3333ff" fill-opacity="0.95"/>
<circle cx="215.89" cy="309.25" r="1" fill="#3333ff" fill-opacity="0.95"/>
<circle cx="209.73" cy="323.33" r="1" fill="#3333ff" fill-opacity="0.95"/>
<circle cx="264.75" cy="248.71" r="1" fill="#3333ff" fill-opacity="0.95"/>
<circle cx="215.82" cy="309.17" r="1" fill="#3333ff" fill-opacity="0.95"/>
<circle cx="254.38" cy="247.89" r="1" fill="#3333ff" fill-opacity="0.95"/>
<circle cx="286.32" cy="245.72" r="1" fill="#3333ff" fill-opacity="0.95"/>
<circle cx="246.48" cy="256.05" r="1" fill="#3333ff" fill-opacity="0.95"/>
<circle cx="266.78" cy="252.14" r="1" fill="#3333ff" fill-opacity="0.95"/>
<circle cx="236.39" cy="265.13" r="1" fill="#3333ff" fill-opacity="0.95"/>
<circle cx="277.11" cy="246.32" r="1" fill="#3333ff" fill-opacity="0.95"/>
<circle cx="267.57" cy="246.05" r="1" fill="#3333ff" fill-opacity="0.95"/>
<circle cx="219.17" cy="302.67" r="1" fill="#3333ff" fill-opacity="0.95"/>
<circle cx="282.01" cy="245.91" r="1" fill="#119911" fill-opacity="0.95"/>
<circle cx="274.36" cy="246.7" r="1" fill="#119911" fill-opacity="0.95"/>
<circle cx="267" cy="244.67" r="1" fill="#119911" fill-opacity="0.95"/>
<circle cx="282.5" cy="249.48" r="1" fill="#119911" fill-opacity="0.95"/>
<circle cx="210.07" cy="321.04" r="1" fill="#119911" fill-opacity="0.95"/>
<circle cx="290.66" cy="240.16" r="1" fill="#119911" fill-opacity="0.95"/>
<circle cx="262.31" cy="247.91" r="1" fill="#119911" fill-opacity="0.95"/>
<circle cx="272.67" cy="252.43" r="1" fill="#119911" fill-opacity="0.95"/>
<circle cx="279.84" cy="247.6" r="1" fill="#119911" fill-opacity="0.95"/>
<circle cx="252.09" cy="244.76" r="1" fill="#119911" fill-opacity="0.95"/>
<circle cx="292.35" cy="247.39" r="1" fill="#119911" fill-opacity="0.95"/>
<circle cx="254.51" cy="252.54" r="1" fill="#119911" fill-opacity="0.95"/>
<circle cx="278.98" cy="244.95" r="1" fill="#119911" fill-opacity="0.95"/>
<circle cx="274.54" cy="246.77" r="1" fill="#119911" fill-opacity="0.95"/>
<circle cx="290.79" cy="246.79" r="1" fill="#119911" fill-opacity="0.95"/>
<circle cx="249.31" cy="253.64" r="1" fill="#119911" fill-opacity="0.95"/>
<circle cx="253.54" cy="249.77" r="1" fill="#ee2222" fill-opacity="0.95"/>
<circle cx="271.61" cy="253.47" r="1" fill="#ee2222" fill-opacity="0.95"/>
<circle cx="257.11" cy="252.32" r="1" fill="#ee2222" fill-opacity="0.95"/>
<circle cx="280.89" cy="249.23" r="1" fill="#ee2222" fill-opacity="0.95"/>
<circle cx="248.23" cy="254.39" r="1" fill="#ee2222" fill-opacity="0.95"/>
<circle cx="269.05" cy="248.22" r="1" fill="#ee2222" fill-opacity="0.95"/>
<circle cx="274.01" cy="245.54" r="1" fill="#ee2222" fill-opacity="0.95"/>
<circle cx="270.47" cy="245.69" r="1" fill="#ee2222" fill-opacity="0.95"/>
<circle cx="275.88" cy="246.65" r="1" fill="#ee2222" fill-opacity="0.95"/>
<circle cx="264.57" cy="250.31" r="1" fill="#ee2222" fill-opacity="0.95"/>
<circle cx="261.66" cy="249.13" r="1" fill="#ee2222" fill-opacity="0.95"/>
<circle cx="252.68" cy="248.31" r="1" fill="#ee2222" fill-opacity="0.95"/>
<circle cx="256.63" cy="247.98" r="1" fill="#ee2222" fill-opacity="0.95"/>
<circle cx="277.67" cy="249.72" r="1" fill="#ee2222" fill-opacity="0.95"/>
<circle cx="251.5" cy="250.9" r="1" fill="#ee2222" fill-opacity="0.95"/>
<circle cx="275.77" cy="248.85" r="1" fill="#ee2222" fill-opacity="0.95"/>
<circle cx="278.42" cy="243.52" r="1" fill="#00bbbb" fill-opacity="0.95"/>
<circle cx="215.86" cy="306.65" r="1" fill="#00bbbb" fill-opacity="0.95"/>
<circle cx="234.11" cy="273.91" r="1" fill="#00bbbb" fill-opacity="0.95"/>
<circle cx="248.99" cy="256.08" r="1" fill="#00bbbb" fill-opacity="0.95"/>
<circle cx="254" cy="257.15" r="1" fill="#00bbbb" fill-opacity="0.95"/>
<circle cx="208.77" cy="324.38" r="1" fill="#00bbbb" fill-opacity="0.95"/>
<circle cx="283.17" cy="250.22" r="1" fill="#00bbbb" fill-opacity="0.95"/>
<circle cx="279.52" cy="242.25" r="1" fill="#00bbbb" fill-opacity="0.95"/>
<circle cx="278.67" cy="249.79" r="1" fill="#00bbbb" fill-opacity="0.95"/>
<circle cx="289.32" cy="239.91" r="1" fill="#00bbbb" fill-opacity="0.95"/>
<circle cx="285.09" cy="245.61" r="1" fill="#00bbbb" fill-opacity="0.95"/>
<circle cx="215.03" cy="313.61" r="1" fill="#00bbbb" fill-opacity="0.95"/>
<circle cx="266.52" cy="249.7" r="1" fill="#00bbbb" fill-opacity="0.95"/>
<circle cx="215.34" cy="311.47" r="1" fill="#00bbbb" fill-opacity="0.95"/>
<circle cx="257.45" cy="248.12" r="1" fill="#00bbbb" fill-opacity="0.95"/>
<circle cx="265.94" cy="250.72" r="1" fill="#00bbbb" fill-opacity="0.95"/>
<circle cx="252.08" cy="258.87" r="1" fill="#bbbb00" fill-opacity="0.95"/>
<circle cx="255.88" cy="246.69" r="1" fill="#bbbb00" fill-opacity="0.95"/>
<circle cx="226.47" cy="286.92" r="1" fill="#bbbb00" fill-opacity="0.95"/>
<circle cx="278.52" cy="246.82" r="1" fill="#bbbb00" fill-opacity="0.95"/>
<circle cx="277.71" cy="245.14" r="1" fill="#bbbb00" fill-opacity="0.95"/>
<circle cx="266.5" cy="249.33" r="1" fill="#bbbb00" fill-opacity="0.95"/>
<circle cx="282.4" cy="246.03" r="1" fill="#bbbb00" fill-opacity="0.95"/>
<circle cx="255.65" cy="260.19" r="1" fill="#bbbb00" fill-opacity="0.95"/>
<circle cx="275.48" cy="252.09" r="1" fill="#bbbb00" fill-opacity="0.95"/>
<circle cx="278.63" cy="251.21" r="1" fill="#bbbb00" fill-opacity="0.95"/>
<circle cx="251.29" cy="248.4" r="1" fill="#bbbb00" fill-opacity="0.95"/>
<circle cx="220.63" cy="301.49" r="1" fill="#bbbb00" fill-opacity="0.95"/>
<circle cx="253.59" cy="244.68" r="1" fill="#bbbb00" fill-opacity="0.95"/>
<circle cx="234.79" cy="269.41" r="1" fill="#bbbb00" fill-opacity="0.95"/>
<circle cx="258.91" cy="250.82" r="1" fill="#bbbb00" fill-opacity="0.95"/>
<circle cx="246.39" cy="256.24" r="1" fill="#bbbb00" fill-opacity="0.95"/>
<circle cx="273.12" cy="253.21" r="1" fill="#cc00cc" fill-opacity="0.95"/>
<circle cx="254.91" cy="245.28" r="1" fill="#cc00cc" fill-opacity="0.95"/>
<circle cx="286.13" cy="239.13" r="1" fill="#cc00cc" fill-opacity="0.95"/>
<circle cx="261.11" cy="250.28" r="1" fill="#cc00cc" fill-opacity="0.95"/>
<circle cx="223.89" cy="292.15" r="1" fill="#cc00cc" fill-opacity="0.95"/>
<circle cx="279.6" cy="239.11" r="1" fill="#cc00cc" fill-opacity="0.95"/>
<circle cx="222.19" cy="297.76" r="1" fill="#cc00cc" fill-opacity="0.95"/>
<circle cx="270.19" cy="240.36" r="1" fill="#cc00cc" fill-opacity="0.95"/>
<circle cx="270.44" cy="245.6" r="1" fill="#cc00cc" fill-opacity="0.95"/>
<circle cx="254.97" cy="252.18" r="1" fill="#cc00cc" fill-opacity="0.95"/>
<circle cx="204.23" cy="334.99" r="1" fill="#cc00cc" fill-opacity="0.95"/>
<circle cx="287.76" cy="245.18" r="1" fill="#cc00cc" fill-opacity="0.95"/>
<circle cx="278.87" cy="248.5" r="1" fill="#cc00cc" fill-opacity="0.95"/>
<circle cx="286.53" cy="251.96" r="1" fill="#cc00cc" fill-opacity="0.95"/>
<circle cx="277.27" cy="251.95" r="1" fill="#cc00cc" fill-opacity="0.95"/>
<circle cx="270.64" cy="250.03" r="1" fill="#cc00cc" fill-opacity="0.95"/>
<circle cx="256.01" cy="249.04" r="1" fill="#ff9900" fill-opacity="0.95"/>
<circle cx="217.35" cy="308.23" r="1" fill="#ff9900" fill-opacity="0.95"/>
<circle cx="260.82" cy="253.76" r="1" fill="#ff9900" fill-opacity="0.95"/>
<circle cx="264.24" cy="245.87" r="1" fill="#ff9900" fill-opacity="0.95"/>
<circle cx="241.45" cy="257.16" r="1" fill="#ff9900" fill-opacity="0.95"/>
<circle cx="292.2" cy="245.67" r="1" fill="#ff9900" fill-opacity="0.95"/>
<circle cx="216.28" cy="306.97" r="1" fill="#ff9900" fill-opacity="0.95"/>
<circle cx="253.78" cy="257" r="1" fill="#ff9900" fill-opacity="0.95"/>
<circle cx="269.37" cy="245.81" r="1" fill="#ff9900" fill-opacity="0.95"/>
<circle cx="282.1" cy="240.8" r="1" fill="#ff9900" fill-opacity="0.95"/>
<circle cx="293" cy="251.67" r="1" fill="#ff9900" fill-opacity="0.95"/>
<circle cx="276.47" cy="242.72" r="1" fill="#ff9900" fill-opacity="0.95"/>
<circle cx="259.99" cy="247.57" r="1" fill="#ff9900" fill-opacity="0.95"/>
<circle cx="291.11" cy="248.37" r="1" fill="#ff9900" fill-opacity="0.95"/>
<circle cx="250.48" cy="254.68" r="1" fill="#ff9900" fill-opacity="0.95"/>
<circle cx="280" cy="248.61" r="1" fill="#ff9900" fill-opacity="0.95"/>
<circle cx="254.5" cy="300" r="1" fill="#cc00cc" fill-opacity="1"/>
<circle cx="259" cy="299" r="1" fill="#cc00cc" fill-opacity="1"/>
<circle cx="262" cy="299" r="1" fill="#cc00cc" fill-opacity="1"/>
<circle cx="248" cy="307" r="1" fill="#bbbb00" fill-opacity="1"/>
<circle cx="250" cy="275" r="1" fill="#00bbbb" fill-opacity="1"/>
<circle cx="235" cy="290" r="1" fill="#00bbbb" fill-opacity="1"/>
<circle cx="236" cy="300" r="1" fill="#cc00cc" fill-opacity="1"/>
<circle cx="233" cy="312" r="1" fill="#00bbbb" fill-opacity="1"/>
<circle cx="239" cy="280" r="1" fill="#ff9900" fill-opacity="1"/>
</g>
<line x1="195.8" y1="233.5" x2="195.8" y2="349.9" stroke="#cccccc" stroke-width="1.8"/>
<line x1="195.3" y1="234" x2="337.9" y2="234" stroke="#cccccc" stroke-width="1.8"/>
<line x1="337.4" y1="233.5" x2="337.4" y2="349.9" stroke="#888" stroke-width="1.3"/>
<line x1="195.3" y1="349.4" x2="337.9" y2="349.4" stroke="#888" stroke-width="1.3"/>
<line x1="195.8" y1="349.4" x2="195.8" y2="351.2" stroke="#777" stroke-width="0.8"/>
<text x="195.8" y="357.2" font-size="6.4" text-anchor="middle" fill="#222" stroke="#222" stroke-width="0.08">0</text>
<line x1="214.7" y1="349.4" x2="214.7" y2="351.2" stroke="#777" stroke-width="0.8"/>
<text x="214.7" y="357.2" font-size="6.4" text-anchor="middle" fill="#222" stroke="#222" stroke-width="0.08">10</text>
<line x1="233.6" y1="349.4" x2="233.6" y2="351.2" stroke="#777" stroke-width="0.8"/>
<text x="233.6" y="357.2" font-size="6.4" text-anchor="middle" fill="#222" stroke="#222" stroke-width="0.08">20</text>
<line x1="252.5" y1="349.4" x2="252.5" y2="351.2" stroke="#777" stroke-width="0.8"/>
<text x="252.5" y="357.2" font-size="6.4" text-anchor="middle" fill="#222" stroke="#222" stroke-width="0.08">30</text>
<line x1="271.4" y1="349.4" x2="271.4" y2="351.2" stroke="#777" stroke-width="0.8"/>
<text x="271.4" y="357.2" font-size="6.4" text-anchor="middle" fill="#222" stroke="#222" stroke-width="0.08">40</text>
<line x1="290.3" y1="349.4" x2="290.3" y2="351.2" stroke="#777" stroke-width="0.8"/>
<text x="290.3" y="357.2" font-size="6.4" text-anchor="middle" fill="#222" stroke="#222" stroke-width="0.08">50</text>
<line x1="309.2" y1="349.4" x2="309.2" y2="351.2" stroke="#777" stroke-width="0.8"/>
<text x="309.2" y="357.2" font-size="6.4" text-anchor="middle" fill="#222" stroke="#222" stroke-width="0.08">60</text>
<line x1="328.1" y1="349.4" x2="328.1" y2="351.2" stroke="#777" stroke-width="0.8"/>
<text x="328.1" y="357.2" font-size="6.4" text-anchor="middle" fill="#222" stroke="#222" stroke-width="0.08">70</text>
<line x1="194" y1="339.3" x2="195.8" y2="339.3" stroke="#777" stroke-width="0.8"/>
<text x="193.2" y="341.5" font-size="6.4" text-anchor="end" fill="#222" stroke="#222" stroke-width="0.08">200</text>
<line x1="194" y1="320.08" x2="195.8" y2="320.08" stroke="#777" stroke-width="0.8"/>
<text x="193.2" y="322.28" font-size="6.4" text-anchor="end" fill="#222" stroke="#222" stroke-width="0.08">400</text>
<line x1="194" y1="300.86" x2="195.8" y2="300.86" stroke="#777" stroke-width="0.8"/>
<text x="193.2" y="303.06" font-size="6.4" text-anchor="end" fill="#222" stroke="#222" stroke-width="0.08">600</text>
<line x1="194" y1="281.64" x2="195.8" y2="281.64" stroke="#777" stroke-width="0.8"/>
<text x="193.2" y="283.84" font-size="6.4" text-anchor="end" fill="#222" stroke="#222" stroke-width="0.08">800</text>
<line x1="194" y1="262.42" x2="195.8" y2="262.42" stroke="#777" stroke-width="0.8"/>
<text x="193.2" y="264.62" font-size="6.4" text-anchor="end" fill="#222" stroke="#222" stroke-width="0.08">1000</text>
<line x1="194" y1="243.2" x2="195.8" y2="243.2" stroke="#777" stroke-width="0.8"/>
<text x="193.2" y="245.4" font-size="6.4" text-anchor="end" fill="#222" stroke="#222" stroke-width="0.08">1200</text>
<text x="236.9" y="225.7" font-size="9.5" text-anchor="start" fill="#111" stroke="#111" stroke-width="0.24" textLength="43.3" lengthAdjust="spacingAndGlyphs">unloading</text>
<line x1="237.5" y1="231.3" x2="295.3" y2="231.3" stroke="#c8c8c8" stroke-width="1.1" stroke-dasharray="1.6 0.8 2.4 0.8 1 1.2"/>
<text x="266.4" y="364.9" font-size="6.6" text-anchor="middle" fill="#222" stroke="#222" stroke-width="0.08" textLength="53.5" lengthAdjust="spacingAndGlyphs">Density (veh./Km)</text>
<text x="267" y="377.2" font-size="10" text-anchor="middle" fill="#111" stroke="#111" stroke-width="0.25">(e)</text>
<text x="175.1" y="289" font-size="6.2" text-anchor="middle" fill="#222" stroke="#222" stroke-width="0.07" transform="rotate(-90 175.1 289)" textLength="37" lengthAdjust="spacingAndGlyphs">Flow (veh./Hr.)</text>
<rect x="279.6" y="285.5" width="54.5" height="61.5" fill="#fff" fill-opacity="0.9" stroke="#dddddd" stroke-width="0.8" rx="1.5"/>
<line x1="281.4" y1="289.6" x2="294" y2="289.6" stroke="#a8a8ff" stroke-width="1.3"/>
<text x="298" y="291.9" font-size="6.4" text-anchor="start" fill="#2a2a2a" stroke="#2a2a2a" stroke-width="0.02">Monday</text>
<line x1="281.4" y1="298.4" x2="294" y2="298.4" stroke="#7fc07f" stroke-width="1.3"/>
<text x="298" y="300.7" font-size="6.4" text-anchor="start" fill="#2a2a2a" stroke="#2a2a2a" stroke-width="0.02">Tuesday</text>
<line x1="281.4" y1="307.3" x2="294" y2="307.3" stroke="#f49090" stroke-width="1.3"/>
<text x="298" y="309.6" font-size="6.4" text-anchor="start" fill="#2a2a2a" stroke="#2a2a2a" stroke-width="0.02">Wednesday</text>
<line x1="281.4" y1="315.4" x2="294" y2="315.4" stroke="#7fdede" stroke-width="1.3"/>
<text x="298" y="317.7" font-size="6.4" text-anchor="start" fill="#2a2a2a" stroke="#2a2a2a" stroke-width="0.02">Thursday</text>
<line x1="281.4" y1="323.8" x2="294" y2="323.8" stroke="#dede8f" stroke-width="1.3"/>
<text x="298" y="326.1" font-size="6.4" text-anchor="start" fill="#2a2a2a" stroke="#2a2a2a" stroke-width="0.02">Friday</text>
<line x1="281.4" y1="332.5" x2="294" y2="332.5" stroke="#e38ee3" stroke-width="1.3"/>
<text x="298" y="334.8" font-size="6.4" text-anchor="start" fill="#2a2a2a" stroke="#2a2a2a" stroke-width="0.02">Saturday</text>
<line x1="281.4" y1="341.1" x2="294" y2="341.1" stroke="#fbc77f" stroke-width="1.3"/>
<text x="298" y="343.4" font-size="6.4" text-anchor="start" fill="#2a2a2a" stroke="#2a2a2a" stroke-width="0.02">Sunday</text>
<line x1="385.34" y1="235" x2="385.34" y2="351" stroke="#d4d4d4" stroke-width="0.6" stroke-dasharray="1.5 1.2"/>
<line x1="405.18" y1="235" x2="405.18" y2="351" stroke="#d4d4d4" stroke-width="0.6" stroke-dasharray="1.5 1.2"/>
<line x1="425.02" y1="235" x2="425.02" y2="351" stroke="#d4d4d4" stroke-width="0.6" stroke-dasharray="1.5 1.2"/>
<line x1="444.86" y1="235" x2="444.86" y2="351" stroke="#d4d4d4" stroke-width="0.6" stroke-dasharray="1.5 1.2"/>
<line x1="464.7" y1="235" x2="464.7" y2="351" stroke="#d4d4d4" stroke-width="0.6" stroke-dasharray="1.5 1.2"/>
<line x1="484.54" y1="235" x2="484.54" y2="351" stroke="#d4d4d4" stroke-width="0.6" stroke-dasharray="1.5 1.2"/>
<line x1="504.38" y1="235" x2="504.38" y2="351" stroke="#d4d4d4" stroke-width="0.6" stroke-dasharray="1.5 1.2"/>
<line x1="365.5" y1="331.65" x2="514.3" y2="331.65" stroke="#d4d4d4" stroke-width="0.6" stroke-dasharray="1.5 1.2"/>
<line x1="365.5" y1="312.3" x2="514.3" y2="312.3" stroke="#d4d4d4" stroke-width="0.6" stroke-dasharray="1.5 1.2"/>
<line x1="365.5" y1="292.95" x2="514.3" y2="292.95" stroke="#d4d4d4" stroke-width="0.6" stroke-dasharray="1.5 1.2"/>
<line x1="365.5" y1="273.6" x2="514.3" y2="273.6" stroke="#d4d4d4" stroke-width="0.6" stroke-dasharray="1.5 1.2"/>
<line x1="365.5" y1="254.25" x2="514.3" y2="254.25" stroke="#d4d4d4" stroke-width="0.6" stroke-dasharray="1.5 1.2"/>
<clipPath id="c6"><rect x="365.5" y="235" width="148.8" height="116"/></clipPath><g clip-path="url(#c6)">
<polygon points="369.47,253.43 383.59,255.54 402.63,264.6 413.35,268.9 424.49,277.72 440.37,286.08 454.25,295.66 460.21,297.81 460.21,305.55 454.25,303.4 440.37,293.82 424.49,285.46 413.35,276.64 402.63,272.34 383.59,263.28 369.47,261.17" fill="#3333ff" fill-opacity="0.12"/>
<polygon points="369.47,251.93 384.59,256.46 403.64,263.09 414.35,268.62 424.79,276.75 440.67,287.49 454.55,295.18 468.44,303.42 468.44,311.16 454.55,302.92 440.67,295.23 424.79,284.49 414.35,276.36 403.64,270.83 384.59,264.2 369.47,259.67" fill="#119911" fill-opacity="0.12"/>
<polygon points="369.47,250.2 384.73,256.13 403.78,262.94 414.49,268.61 424.84,276.04 440.71,287.52 454.6,296.19 464.52,299.34 464.52,307.08 454.6,303.93 440.71,295.26 424.84,283.78 414.49,276.35 403.78,270.68 384.73,263.87 369.47,257.94" fill="#ee2222" fill-opacity="0.12"/>
<polygon points="369.47,252.15 385.37,255.53 404.42,260.43 415.13,268.98 425.03,276.14 440.9,284.75 454.79,297.26 470.66,304.92 472.65,303.91 472.65,311.65 470.66,312.66 454.79,305 440.9,292.49 425.03,283.88 415.13,276.72 404.42,268.17 385.37,263.27 369.47,259.89" fill="#00bbbb" fill-opacity="0.12"/>
<polygon points="369.47,253.23 388.74,258.53 407.78,261.74 418.5,269.27 426.04,275.91 441.91,286.7 455.8,295.64 459.77,297.75 459.77,305.49 455.8,303.38 441.91,294.44 426.04,283.65 418.5,277.01 407.78,269.48 388.74,266.27 369.47,260.97" fill="#bbbb00" fill-opacity="0.12"/>
<polygon points="369.47,251.07 384.7,254.73 403.74,262.35 414.46,269.2 424.83,274.83 440.7,286.68 454.59,296.86 462.52,300.65 462.52,308.39 454.59,304.6 440.7,294.42 424.83,282.57 414.46,276.94 403.74,270.09 384.7,262.47 369.47,258.81" fill="#cc00cc" fill-opacity="0.12"/>
<polygon points="369.47,252.41 386.9,256.5 405.95,262.17 416.66,268.79 425.49,275.54 441.36,289.01 455.25,294.16 471.12,304.37 471.12,312.11 455.25,301.9 441.36,296.75 425.49,283.28 416.66,276.53 405.95,269.91 386.9,264.24 369.47,260.15" fill="#ff9900" fill-opacity="0.12"/>
<polygon points="426,280 434,281 434,297 432,303 429,290" fill="#cc00cc" fill-opacity="0.3"/>
<polygon points="390,262 402,265 408,275 398,276" fill="#ff9900" fill-opacity="0.15"/>
<polygon points="410,272 418,276 420,285 412,280" fill="#ee2222" fill-opacity="0.15"/>
<polyline points="369.47,257.3 383.59,259.41 402.63,268.47 413.35,272.77 424.49,281.59 440.37,289.95 454.25,299.53 460.21,301.68" fill="none" stroke="#3333ff" stroke-width="1" stroke-opacity="0.85" stroke-linejoin="round"/>
<polyline points="369.47,255.8 384.59,260.33 403.64,266.96 414.35,272.49 424.79,280.62 440.67,291.36 454.55,299.05 468.44,307.29" fill="none" stroke="#119911" stroke-width="1" stroke-opacity="0.85" stroke-linejoin="round"/>
<polyline points="369.47,254.07 384.73,260 403.78,266.81 414.49,272.48 424.84,279.91 440.71,291.39 454.6,300.06 464.52,303.21" fill="none" stroke="#ee2222" stroke-width="1" stroke-opacity="0.85" stroke-linejoin="round"/>
<polyline points="369.47,256.02 385.37,259.4 404.42,264.3 415.13,272.85 425.03,280.01 440.9,288.62 454.79,301.13 470.66,308.79 472.65,307.78" fill="none" stroke="#00bbbb" stroke-width="1" stroke-opacity="0.85" stroke-linejoin="round"/>
<polyline points="369.47,257.1 388.74,262.4 407.78,265.61 418.5,273.14 426.04,279.78 441.91,290.57 455.8,299.51 459.77,301.62" fill="none" stroke="#bbbb00" stroke-width="1" stroke-opacity="0.85" stroke-linejoin="round"/>
<polyline points="369.47,254.94 384.7,258.6 403.74,266.22 414.46,273.07 424.83,278.7 440.7,290.55 454.59,300.73 462.52,304.52" fill="none" stroke="#cc00cc" stroke-width="1" stroke-opacity="0.85" stroke-linejoin="round"/>
<polyline points="369.47,256.28 386.9,260.37 405.95,266.04 416.66,272.66 425.49,279.41 441.36,292.88 455.25,298.03 471.12,308.24" fill="none" stroke="#ff9900" stroke-width="1" stroke-opacity="0.85" stroke-linejoin="round"/>
<circle cx="422.27" cy="277.05" r="1" fill="#3333ff" fill-opacity="0.95"/>
<circle cx="456.64" cy="300.72" r="1" fill="#3333ff" fill-opacity="0.95"/>
<circle cx="438.44" cy="285.88" r="1" fill="#3333ff" fill-opacity="0.95"/>
<circle cx="401.85" cy="267" r="1" fill="#3333ff" fill-opacity="0.95"/>
<circle cx="440.25" cy="288.55" r="1" fill="#3333ff" fill-opacity="0.95"/>
<circle cx="447.93" cy="293.81" r="1" fill="#3333ff" fill-opacity="0.95"/>
<circle cx="455.79" cy="299.09" r="1" fill="#3333ff" fill-opacity="0.95"/>
<circle cx="453.26" cy="298" r="1" fill="#3333ff" fill-opacity="0.95"/>
<circle cx="453.81" cy="300.4" r="1" fill="#3333ff" fill-opacity="0.95"/>
<circle cx="385.67" cy="260.54" r="1" fill="#3333ff" fill-opacity="0.95"/>
<circle cx="383.05" cy="260.72" r="1" fill="#3333ff" fill-opacity="0.95"/>
<circle cx="373.9" cy="260.3" r="1" fill="#3333ff" fill-opacity="0.95"/>
<circle cx="418.16" cy="275.67" r="1" fill="#3333ff" fill-opacity="0.95"/>
<circle cx="444.88" cy="292.88" r="1" fill="#3333ff" fill-opacity="0.95"/>
<circle cx="411.31" cy="267.13" r="1" fill="#119911" fill-opacity="0.95"/>
<circle cx="418.43" cy="273.72" r="1" fill="#119911" fill-opacity="0.95"/>
<circle cx="382.42" cy="259.62" r="1" fill="#119911" fill-opacity="0.95"/>
<circle cx="447.64" cy="299.01" r="1" fill="#119911" fill-opacity="0.95"/>
<circle cx="412.58" cy="269.36" r="1" fill="#119911" fill-opacity="0.95"/>
<circle cx="414.42" cy="269.82" r="1" fill="#119911" fill-opacity="0.95"/>
<circle cx="454.01" cy="297.56" r="1" fill="#119911" fill-opacity="0.95"/>
<circle cx="441.83" cy="291.86" r="1" fill="#119911" fill-opacity="0.95"/>
<circle cx="398.34" cy="265" r="1" fill="#119911" fill-opacity="0.95"/>
<circle cx="467.52" cy="306.21" r="1" fill="#119911" fill-opacity="0.95"/>
<circle cx="431.66" cy="285.67" r="1" fill="#119911" fill-opacity="0.95"/>
<circle cx="396.48" cy="263.67" r="1" fill="#119911" fill-opacity="0.95"/>
<circle cx="455.51" cy="301.87" r="1" fill="#119911" fill-opacity="0.95"/>
<circle cx="438.37" cy="287.09" r="1" fill="#119911" fill-opacity="0.95"/>
<circle cx="441.81" cy="293.17" r="1" fill="#ee2222" fill-opacity="0.95"/>
<circle cx="415.72" cy="271.23" r="1" fill="#ee2222" fill-opacity="0.95"/>
<circle cx="435.26" cy="287.91" r="1" fill="#ee2222" fill-opacity="0.95"/>
<circle cx="424.77" cy="275.64" r="1" fill="#ee2222" fill-opacity="0.95"/>
<circle cx="421.56" cy="277.05" r="1" fill="#ee2222" fill-opacity="0.95"/>
<circle cx="447.24" cy="292.69" r="1" fill="#ee2222" fill-opacity="0.95"/>
<circle cx="445.43" cy="295.14" r="1" fill="#ee2222" fill-opacity="0.95"/>
<circle cx="448.34" cy="293.87" r="1" fill="#ee2222" fill-opacity="0.95"/>
<circle cx="449.74" cy="294.94" r="1" fill="#ee2222" fill-opacity="0.95"/>
<circle cx="460.56" cy="304.62" r="1" fill="#ee2222" fill-opacity="0.95"/>
<circle cx="419.88" cy="274.41" r="1" fill="#ee2222" fill-opacity="0.95"/>
<circle cx="414.92" cy="269.98" r="1" fill="#ee2222" fill-opacity="0.95"/>
<circle cx="438.01" cy="289.02" r="1" fill="#ee2222" fill-opacity="0.95"/>
<circle cx="424.78" cy="280.19" r="1" fill="#ee2222" fill-opacity="0.95"/>
<circle cx="412.88" cy="273.21" r="1" fill="#00bbbb" fill-opacity="0.95"/>
<circle cx="443.79" cy="294.71" r="1" fill="#00bbbb" fill-opacity="0.95"/>
<circle cx="385.98" cy="262.35" r="1" fill="#00bbbb" fill-opacity="0.95"/>
<circle cx="440.24" cy="289.72" r="1" fill="#00bbbb" fill-opacity="0.95"/>
<circle cx="373.79" cy="257.92" r="1" fill="#00bbbb" fill-opacity="0.95"/>
<circle cx="383.24" cy="259.42" r="1" fill="#00bbbb" fill-opacity="0.95"/>
<circle cx="388.2" cy="260.84" r="1" fill="#00bbbb" fill-opacity="0.95"/>
<circle cx="408.7" cy="268.43" r="1" fill="#00bbbb" fill-opacity="0.95"/>
<circle cx="430.35" cy="283.05" r="1" fill="#00bbbb" fill-opacity="0.95"/>
<circle cx="411.29" cy="267.03" r="1" fill="#00bbbb" fill-opacity="0.95"/>
<circle cx="411.77" cy="268.46" r="1" fill="#00bbbb" fill-opacity="0.95"/>
<circle cx="373.19" cy="255.88" r="1" fill="#00bbbb" fill-opacity="0.95"/>
<circle cx="379.25" cy="259.42" r="1" fill="#00bbbb" fill-opacity="0.95"/>
<circle cx="468.33" cy="307.55" r="1" fill="#00bbbb" fill-opacity="0.95"/>
<circle cx="406.89" cy="266.88" r="1" fill="#bbbb00" fill-opacity="0.95"/>
<circle cx="382.16" cy="260.56" r="1" fill="#bbbb00" fill-opacity="0.95"/>
<circle cx="419.81" cy="271.93" r="1" fill="#bbbb00" fill-opacity="0.95"/>
<circle cx="400.82" cy="266.16" r="1" fill="#bbbb00" fill-opacity="0.95"/>
<circle cx="369.55" cy="255.23" r="1" fill="#bbbb00" fill-opacity="0.95"/>
<circle cx="382.03" cy="258.46" r="1" fill="#bbbb00" fill-opacity="0.95"/>
<circle cx="449.04" cy="297.29" r="1" fill="#bbbb00" fill-opacity="0.95"/>
<circle cx="395.49" cy="262.2" r="1" fill="#bbbb00" fill-opacity="0.95"/>
<circle cx="403.37" cy="262.59" r="1" fill="#bbbb00" fill-opacity="0.95"/>
<circle cx="392.67" cy="263.26" r="1" fill="#bbbb00" fill-opacity="0.95"/>
<circle cx="413.78" cy="273.02" r="1" fill="#bbbb00" fill-opacity="0.95"/>
<circle cx="413.37" cy="270.92" r="1" fill="#bbbb00" fill-opacity="0.95"/>
<circle cx="412.05" cy="269.26" r="1" fill="#bbbb00" fill-opacity="0.95"/>
<circle cx="395.64" cy="261.91" r="1" fill="#bbbb00" fill-opacity="0.95"/>
<circle cx="446.57" cy="292.67" r="1" fill="#cc00cc" fill-opacity="0.95"/>
<circle cx="456.68" cy="300.61" r="1" fill="#cc00cc" fill-opacity="0.95"/>
<circle cx="392.38" cy="262.44" r="1" fill="#cc00cc" fill-opacity="0.95"/>
<circle cx="396.81" cy="262.89" r="1" fill="#cc00cc" fill-opacity="0.95"/>
<circle cx="413.73" cy="273.11" r="1" fill="#cc00cc" fill-opacity="0.95"/>
<circle cx="380.49" cy="259.91" r="1" fill="#cc00cc" fill-opacity="0.95"/>
<circle cx="397.51" cy="265.38" r="1" fill="#cc00cc" fill-opacity="0.95"/>
<circle cx="418.88" cy="275.5" r="1" fill="#cc00cc" fill-opacity="0.95"/>
<circle cx="403.13" cy="265.9" r="1" fill="#cc00cc" fill-opacity="0.95"/>
<circle cx="393.01" cy="264.62" r="1" fill="#cc00cc" fill-opacity="0.95"/>
<circle cx="454.94" cy="298.33" r="1" fill="#cc00cc" fill-opacity="0.95"/>
<circle cx="442.05" cy="293" r="1" fill="#cc00cc" fill-opacity="0.95"/>
<circle cx="423.15" cy="278.69" r="1" fill="#cc00cc" fill-opacity="0.95"/>
<circle cx="454.48" cy="301.65" r="1" fill="#cc00cc" fill-opacity="0.95"/>
<circle cx="409.12" cy="268.46" r="1" fill="#ff9900" fill-opacity="0.95"/>
<circle cx="453.45" cy="299.71" r="1" fill="#ff9900" fill-opacity="0.95"/>
<circle cx="454.09" cy="299.85" r="1" fill="#ff9900" fill-opacity="0.95"/>
<circle cx="448.47" cy="297.31" r="1" fill="#ff9900" fill-opacity="0.95"/>
<circle cx="383.91" cy="260.92" r="1" fill="#ff9900" fill-opacity="0.95"/>
<circle cx="402.93" cy="265.51" r="1" fill="#ff9900" fill-opacity="0.95"/>
<circle cx="428.75" cy="281.91" r="1" fill="#ff9900" fill-opacity="0.95"/>
<circle cx="452.4" cy="298.77" r="1" fill="#ff9900" fill-opacity="0.95"/>
<circle cx="436.61" cy="285.44" r="1" fill="#ff9900" fill-opacity="0.95"/>
<circle cx="470.48" cy="307.94" r="1" fill="#ff9900" fill-opacity="0.95"/>
<circle cx="374.42" cy="257.02" r="1" fill="#ff9900" fill-opacity="0.95"/>
<circle cx="465.82" cy="306.69" r="1" fill="#ff9900" fill-opacity="0.95"/>
<circle cx="383.09" cy="260.08" r="1" fill="#ff9900" fill-opacity="0.95"/>
<circle cx="431.25" cy="280.62" r="1" fill="#ff9900" fill-opacity="0.95"/>
<circle cx="433" cy="319" r="1" fill="#cc00cc" fill-opacity="1"/>
<circle cx="434" cy="298" r="1" fill="#cc00cc" fill-opacity="1"/>
<circle cx="425" cy="280" r="1" fill="#ff9900" fill-opacity="1"/>
<circle cx="395.5" cy="270.5" r="1" fill="#ff9900" fill-opacity="1"/>
<circle cx="398" cy="276" r="1" fill="#ff9900" fill-opacity="1"/>
<circle cx="401" cy="277" r="1" fill="#ff9900" fill-opacity="1"/>
<circle cx="408" cy="280" r="1" fill="#00bbbb" fill-opacity="1"/>
<circle cx="400" cy="283" r="1" fill="#00bbbb" fill-opacity="1"/>
</g>
<line x1="365.5" y1="234.5" x2="365.5" y2="351.5" stroke="#888" stroke-width="1.2"/>
<line x1="365" y1="235" x2="514.8" y2="235" stroke="#888" stroke-width="1.2"/>
<line x1="514.3" y1="234.5" x2="514.3" y2="351.5" stroke="#bbbbbb" stroke-width="1.7"/>
<line x1="365" y1="351" x2="514.8" y2="351" stroke="#bbbbbb" stroke-width="1.7"/>
<line x1="365.5" y1="351" x2="365.5" y2="352.8" stroke="#777" stroke-width="0.8"/>
<text x="365.5" y="358.8" font-size="6.4" text-anchor="middle" fill="#222" stroke="#222" stroke-width="0.08">0</text>
<line x1="385.34" y1="351" x2="385.34" y2="352.8" stroke="#777" stroke-width="0.8"/>
<text x="385.34" y="358.8" font-size="6.4" text-anchor="middle" fill="#222" stroke="#222" stroke-width="0.08">10</text>
<line x1="405.18" y1="351" x2="405.18" y2="352.8" stroke="#777" stroke-width="0.8"/>
<text x="405.18" y="358.8" font-size="6.4" text-anchor="middle" fill="#222" stroke="#222" stroke-width="0.08">20</text>
<line x1="425.02" y1="351" x2="425.02" y2="352.8" stroke="#777" stroke-width="0.8"/>
<text x="425.02" y="358.8" font-size="6.4" text-anchor="middle" fill="#222" stroke="#222" stroke-width="0.08">30</text>
<line x1="444.86" y1="351" x2="444.86" y2="352.8" stroke="#777" stroke-width="0.8"/>
<text x="444.86" y="358.8" font-size="6.4" text-anchor="middle" fill="#222" stroke="#222" stroke-width="0.08">40</text>
<line x1="464.7" y1="351" x2="464.7" y2="352.8" stroke="#777" stroke-width="0.8"/>
<text x="464.7" y="358.8" font-size="6.4" text-anchor="middle" fill="#222" stroke="#222" stroke-width="0.08">50</text>
<line x1="484.54" y1="351" x2="484.54" y2="352.8" stroke="#777" stroke-width="0.8"/>
<text x="484.54" y="358.8" font-size="6.4" text-anchor="middle" fill="#222" stroke="#222" stroke-width="0.08">60</text>
<line x1="504.38" y1="351" x2="504.38" y2="352.8" stroke="#777" stroke-width="0.8"/>
<text x="504.38" y="358.8" font-size="6.4" text-anchor="middle" fill="#222" stroke="#222" stroke-width="0.08">70</text>
<line x1="363.7" y1="351" x2="365.5" y2="351" stroke="#777" stroke-width="0.8"/>
<text x="362.9" y="353.2" font-size="6.4" text-anchor="end" fill="#222" stroke="#222" stroke-width="0.08">0</text>
<line x1="363.7" y1="331.65" x2="365.5" y2="331.65" stroke="#777" stroke-width="0.8"/>
<text x="362.9" y="333.85" font-size="6.4" text-anchor="end" fill="#222" stroke="#222" stroke-width="0.08">10</text>
<line x1="363.7" y1="312.3" x2="365.5" y2="312.3" stroke="#777" stroke-width="0.8"/>
<text x="362.9" y="314.5" font-size="6.4" text-anchor="end" fill="#222" stroke="#222" stroke-width="0.08">20</text>
<line x1="363.7" y1="292.95" x2="365.5" y2="292.95" stroke="#777" stroke-width="0.8"/>
<text x="362.9" y="295.15" font-size="6.4" text-anchor="end" fill="#222" stroke="#222" stroke-width="0.08">30</text>
<line x1="363.7" y1="273.6" x2="365.5" y2="273.6" stroke="#777" stroke-width="0.8"/>
<text x="362.9" y="275.8" font-size="6.4" text-anchor="end" fill="#222" stroke="#222" stroke-width="0.08">40</text>
<line x1="363.7" y1="254.25" x2="365.5" y2="254.25" stroke="#777" stroke-width="0.8"/>
<text x="362.9" y="256.45" font-size="6.4" text-anchor="end" fill="#222" stroke="#222" stroke-width="0.08">50</text>
<line x1="363.7" y1="234.9" x2="365.5" y2="234.9" stroke="#777" stroke-width="0.8"/>
<text x="362.9" y="237.1" font-size="6.4" text-anchor="end" fill="#222" stroke="#222" stroke-width="0.08">60</text>
<text x="422.1" y="225.7" font-size="9.5" text-anchor="start" fill="#111" stroke="#111" stroke-width="0.24" textLength="33.9" lengthAdjust="spacingAndGlyphs">Loading</text>
<line x1="414" y1="232.8" x2="464.8" y2="232.8" stroke="#c8c8c8" stroke-width="1.1" stroke-dasharray="1.6 0.8 2.4 0.8 1 1.2"/>
<text x="439.8" y="365.6" font-size="6.6" text-anchor="middle" fill="#222" stroke="#222" stroke-width="0.08" textLength="53" lengthAdjust="spacingAndGlyphs">Density (veh./Km)</text>
<text x="440.6" y="377.6" font-size="10.4" text-anchor="middle" fill="#111" stroke="#111" stroke-width="0.26">(f)</text>
<text x="348.4" y="305.6" font-size="6.2" text-anchor="middle" fill="#222" stroke="#222" stroke-width="0.07" transform="rotate(-90 348.4 305.6)" textLength="39.5" lengthAdjust="spacingAndGlyphs">Speed (km./hr.)</text>
<rect x="456.4" y="238" width="56.2" height="61.5" fill="#fff" fill-opacity="0.9" stroke="#dddddd" stroke-width="0.8" rx="1.5"/>
<line x1="458.3" y1="242.7" x2="470.3" y2="242.7" stroke="#a8a8ff" stroke-width="1.3"/>
<text x="474.9" y="245" font-size="7" text-anchor="start" fill="#2a2a2a" stroke="#2a2a2a" stroke-width="0.02">Monday</text>
<line x1="458.3" y1="251.9" x2="470.3" y2="251.9" stroke="#7fc07f" stroke-width="1.3"/>
<text x="474.9" y="254.2" font-size="7" text-anchor="start" fill="#2a2a2a" stroke="#2a2a2a" stroke-width="0.02">Tuesday</text>
<line x1="458.3" y1="260.2" x2="470.3" y2="260.2" stroke="#f49090" stroke-width="1.3"/>
<text x="474.9" y="262.5" font-size="7" text-anchor="start" fill="#2a2a2a" stroke="#2a2a2a" stroke-width="0.02">Wednesday</text>
<line x1="458.3" y1="268.6" x2="470.3" y2="268.6" stroke="#7fdede" stroke-width="1.3"/>
<text x="474.9" y="270.9" font-size="7" text-anchor="start" fill="#2a2a2a" stroke="#2a2a2a" stroke-width="0.02">Thursday</text>
<line x1="458.3" y1="277.3" x2="470.3" y2="277.3" stroke="#dede8f" stroke-width="1.3"/>
<text x="474.9" y="279.6" font-size="7" text-anchor="start" fill="#2a2a2a" stroke="#2a2a2a" stroke-width="0.02">Friday</text>
<line x1="458.3" y1="285.6" x2="470.3" y2="285.6" stroke="#e38ee3" stroke-width="1.3"/>
<text x="474.9" y="287.9" font-size="7" text-anchor="start" fill="#2a2a2a" stroke="#2a2a2a" stroke-width="0.02">Saturday</text>
<line x1="458.3" y1="294.4" x2="470.3" y2="294.4" stroke="#fbc77f" stroke-width="1.3"/>
<text x="474.9" y="296.7" font-size="7" text-anchor="start" fill="#2a2a2a" stroke="#2a2a2a" stroke-width="0.02">Sunday</text>
<rect x="510.8" y="261" width="10.5" height="62.5" fill="#fff" fill-opacity="1" stroke="none" stroke-width="0" rx="0"/>
<line x1="554.45" y1="235.2" x2="554.45" y2="350.4" stroke="#d4d4d4" stroke-width="0.6" stroke-dasharray="1.5 1.2"/>
<line x1="574.3" y1="235.2" x2="574.3" y2="350.4" stroke="#d4d4d4" stroke-width="0.6" stroke-dasharray="1.5 1.2"/>
<line x1="594.15" y1="235.2" x2="594.15" y2="350.4" stroke="#d4d4d4" stroke-width="0.6" stroke-dasharray="1.5 1.2"/>
<line x1="614" y1="235.2" x2="614" y2="350.4" stroke="#d4d4d4" stroke-width="0.6" stroke-dasharray="1.5 1.2"/>
<line x1="633.85" y1="235.2" x2="633.85" y2="350.4" stroke="#d4d4d4" stroke-width="0.6" stroke-dasharray="1.5 1.2"/>
<line x1="653.7" y1="235.2" x2="653.7" y2="350.4" stroke="#d4d4d4" stroke-width="0.6" stroke-dasharray="1.5 1.2"/>
<line x1="673.55" y1="235.2" x2="673.55" y2="350.4" stroke="#d4d4d4" stroke-width="0.6" stroke-dasharray="1.5 1.2"/>
<line x1="534.6" y1="331.2" x2="683.3" y2="331.2" stroke="#d4d4d4" stroke-width="0.6" stroke-dasharray="1.5 1.2"/>
<line x1="534.6" y1="312" x2="683.3" y2="312" stroke="#d4d4d4" stroke-width="0.6" stroke-dasharray="1.5 1.2"/>
<line x1="534.6" y1="292.8" x2="683.3" y2="292.8" stroke="#d4d4d4" stroke-width="0.6" stroke-dasharray="1.5 1.2"/>
<line x1="534.6" y1="273.6" x2="683.3" y2="273.6" stroke="#d4d4d4" stroke-width="0.6" stroke-dasharray="1.5 1.2"/>
<line x1="534.6" y1="254.4" x2="683.3" y2="254.4" stroke="#d4d4d4" stroke-width="0.6" stroke-dasharray="1.5 1.2"/>
<clipPath id="c7"><rect x="534.6" y="235.2" width="148.7" height="115.2"/></clipPath><g clip-path="url(#c7)">
<polygon points="537.97,252.28 560.95,256.68 575.04,262.01 587.35,268.92 602.71,283.58 616.21,293.43 628.91,297.68 630.1,299.85 630.1,307.53 628.91,305.36 616.21,301.11 602.71,291.26 587.35,276.6 575.04,269.69 560.95,264.36 537.97,259.96" fill="#3333ff" fill-opacity="0.12"/>
<polygon points="537.97,250.81 562.03,254.23 576.13,262.21 588.43,271.32 603.03,285 616.53,292.19 629.24,297.56 638.37,302.33 638.37,310.01 629.24,305.24 616.53,299.87 603.03,292.68 588.43,279 576.13,269.89 562.03,261.91 537.97,258.49" fill="#119911" fill-opacity="0.12"/>
<polygon points="537.97,251.27 560.6,255.46 574.7,263.46 587,269.85 602.61,284.3 616.1,290.4 628.81,297.03 633.97,300.73 633.97,308.41 628.81,304.71 616.1,298.08 602.61,291.98 587,277.53 574.7,271.14 560.6,263.14 537.97,258.95" fill="#ee2222" fill-opacity="0.12"/>
<polygon points="537.97,250.03 558.69,255.58 572.78,262.61 585.09,270.93 602.03,282.36 615.53,292.22 628.23,297.56 641.33,304.52 641.33,312.2 628.23,305.24 615.53,299.9 602.03,290.04 585.09,278.61 572.78,270.29 558.69,263.26 537.97,257.71" fill="#00bbbb" fill-opacity="0.12"/>
<polygon points="537.97,248.84 558,254.96 572.09,262.7 584.4,271.25 601.82,284.76 615.32,290.94 627.23,300.07 627.23,307.75 615.32,298.62 601.82,292.44 584.4,278.93 572.09,270.38 558,262.64 537.97,256.52" fill="#bbbb00" fill-opacity="0.12"/>
<polygon points="537.97,250.4 561.59,256.59 575.69,262.57 587.99,270.69 602.9,283.81 616.4,290.99 629.11,298.79 632.28,298.84 632.28,306.52 629.11,306.47 616.4,298.67 602.9,291.49 587.99,278.37 575.69,270.25 561.59,264.27 537.97,258.08" fill="#cc00cc" fill-opacity="0.12"/>
<polygon points="537.97,250.8 561.68,255.35 575.77,262.6 588.08,270.28 602.93,283.1 616.43,289.98 629.13,298.03 640.25,304.81 640.25,312.49 629.13,305.71 616.43,297.66 602.93,290.78 588.08,277.96 575.77,270.28 561.68,263.03 537.97,258.48" fill="#ff9900" fill-opacity="0.12"/>
<polygon points="585.3,272.9 601.9,272.9 601.9,300 599,325.5 594,298" fill="#cc00cc" fill-opacity="0.25"/>
<polygon points="560.3,259.7 575,262 585,272 577.4,280.8 569.5,279.5" fill="#00bbbb" fill-opacity="0.2"/>
<polyline points="537.97,256.12 560.95,260.52 575.04,265.85 587.35,272.76 602.71,287.42 616.21,297.27 628.91,301.52 630.1,303.69" fill="none" stroke="#3333ff" stroke-width="1" stroke-opacity="0.85" stroke-linejoin="round"/>
<polyline points="537.97,254.65 562.03,258.07 576.13,266.05 588.43,275.16 603.03,288.84 616.53,296.03 629.24,301.4 638.37,306.17" fill="none" stroke="#119911" stroke-width="1" stroke-opacity="0.85" stroke-linejoin="round"/>
<polyline points="537.97,255.11 560.6,259.3 574.7,267.3 587,273.69 602.61,288.14 616.1,294.24 628.81,300.87 633.97,304.57" fill="none" stroke="#ee2222" stroke-width="1" stroke-opacity="0.85" stroke-linejoin="round"/>
<polyline points="537.97,253.87 558.69,259.42 572.78,266.45 585.09,274.77 602.03,286.2 615.53,296.06 628.23,301.4 641.33,308.36" fill="none" stroke="#00bbbb" stroke-width="1" stroke-opacity="0.85" stroke-linejoin="round"/>
<polyline points="537.97,252.68 558,258.8 572.09,266.54 584.4,275.09 601.82,288.6 615.32,294.78 627.23,303.91" fill="none" stroke="#bbbb00" stroke-width="1" stroke-opacity="0.85" stroke-linejoin="round"/>
<polyline points="537.97,254.24 561.59,260.43 575.69,266.41 587.99,274.53 602.9,287.65 616.4,294.83 629.11,302.63 632.28,302.68" fill="none" stroke="#cc00cc" stroke-width="1" stroke-opacity="0.85" stroke-linejoin="round"/>
<polyline points="537.97,254.64 561.68,259.19 575.77,266.44 588.08,274.12 602.93,286.94 616.43,293.82 629.13,301.87 640.25,308.65" fill="none" stroke="#ff9900" stroke-width="1" stroke-opacity="0.85" stroke-linejoin="round"/>
<circle cx="540.13" cy="255.96" r="1" fill="#3333ff" fill-opacity="0.95"/>
<circle cx="566.52" cy="259.64" r="1" fill="#3333ff" fill-opacity="0.95"/>
<circle cx="574.1" cy="261.28" r="1" fill="#3333ff" fill-opacity="0.95"/>
<circle cx="577.18" cy="263.19" r="1" fill="#3333ff" fill-opacity="0.95"/>
<circle cx="574.89" cy="265.17" r="1" fill="#3333ff" fill-opacity="0.95"/>
<circle cx="620.04" cy="297.78" r="1" fill="#3333ff" fill-opacity="0.95"/>
<circle cx="619.79" cy="300.26" r="1" fill="#3333ff" fill-opacity="0.95"/>
<circle cx="585.75" cy="272.66" r="1" fill="#3333ff" fill-opacity="0.95"/>
<circle cx="603" cy="288.29" r="1" fill="#3333ff" fill-opacity="0.95"/>
<circle cx="562.84" cy="260.57" r="1" fill="#3333ff" fill-opacity="0.95"/>
<circle cx="610.16" cy="291.97" r="1" fill="#3333ff" fill-opacity="0.95"/>
<circle cx="592.39" cy="278.71" r="1" fill="#3333ff" fill-opacity="0.95"/>
<circle cx="561.97" cy="263.9" r="1" fill="#3333ff" fill-opacity="0.95"/>
<circle cx="576.06" cy="266.04" r="1" fill="#3333ff" fill-opacity="0.95"/>
<circle cx="599.33" cy="284.99" r="1" fill="#119911" fill-opacity="0.95"/>
<circle cx="552.68" cy="256.87" r="1" fill="#119911" fill-opacity="0.95"/>
<circle cx="568.91" cy="263.11" r="1" fill="#119911" fill-opacity="0.95"/>
<circle cx="634.92" cy="306.85" r="1" fill="#119911" fill-opacity="0.95"/>
<circle cx="575.89" cy="268.06" r="1" fill="#119911" fill-opacity="0.95"/>
<circle cx="587" cy="275.32" r="1" fill="#119911" fill-opacity="0.95"/>
<circle cx="631.53" cy="303.57" r="1" fill="#119911" fill-opacity="0.95"/>
<circle cx="544.24" cy="255.81" r="1" fill="#119911" fill-opacity="0.95"/>
<circle cx="615.35" cy="293.43" r="1" fill="#119911" fill-opacity="0.95"/>
<circle cx="631.71" cy="302.06" r="1" fill="#119911" fill-opacity="0.95"/>
<circle cx="544.75" cy="255.22" r="1" fill="#119911" fill-opacity="0.95"/>
<circle cx="580.46" cy="266.57" r="1" fill="#119911" fill-opacity="0.95"/>
<circle cx="619.31" cy="299.01" r="1" fill="#119911" fill-opacity="0.95"/>
<circle cx="574.5" cy="265.96" r="1" fill="#119911" fill-opacity="0.95"/>
<circle cx="598.18" cy="284.5" r="1" fill="#ee2222" fill-opacity="0.95"/>
<circle cx="547.84" cy="257.12" r="1" fill="#ee2222" fill-opacity="0.95"/>
<circle cx="600.08" cy="288.62" r="1" fill="#ee2222" fill-opacity="0.95"/>
<circle cx="605.4" cy="288.44" r="1" fill="#ee2222" fill-opacity="0.95"/>
<circle cx="617.91" cy="294.76" r="1" fill="#ee2222" fill-opacity="0.95"/>
<circle cx="625.06" cy="299" r="1" fill="#ee2222" fill-opacity="0.95"/>
<circle cx="581.64" cy="271.78" r="1" fill="#ee2222" fill-opacity="0.95"/>
<circle cx="628.46" cy="304.26" r="1" fill="#ee2222" fill-opacity="0.95"/>
<circle cx="580.58" cy="269.83" r="1" fill="#ee2222" fill-opacity="0.95"/>
<circle cx="606.45" cy="291.5" r="1" fill="#ee2222" fill-opacity="0.95"/>
<circle cx="614.81" cy="293.71" r="1" fill="#ee2222" fill-opacity="0.95"/>
<circle cx="546.54" cy="256.58" r="1" fill="#ee2222" fill-opacity="0.95"/>
<circle cx="565.23" cy="260.37" r="1" fill="#ee2222" fill-opacity="0.95"/>
<circle cx="541.61" cy="255.49" r="1" fill="#ee2222" fill-opacity="0.95"/>
<circle cx="622.84" cy="300.22" r="1" fill="#00bbbb" fill-opacity="0.95"/>
<circle cx="556.46" cy="260.32" r="1" fill="#00bbbb" fill-opacity="0.95"/>
<circle cx="543.94" cy="254.21" r="1" fill="#00bbbb" fill-opacity="0.95"/>
<circle cx="610.89" cy="292.68" r="1" fill="#00bbbb" fill-opacity="0.95"/>
<circle cx="546.58" cy="256.54" r="1" fill="#00bbbb" fill-opacity="0.95"/>
<circle cx="586.47" cy="274.83" r="1" fill="#00bbbb" fill-opacity="0.95"/>
<circle cx="546.33" cy="255.38" r="1" fill="#00bbbb" fill-opacity="0.95"/>
<circle cx="592.8" cy="278.51" r="1" fill="#00bbbb" fill-opacity="0.95"/>
<circle cx="567.65" cy="261.86" r="1" fill="#00bbbb" fill-opacity="0.95"/>
<circle cx="561.6" cy="258.76" r="1" fill="#00bbbb" fill-opacity="0.95"/>
<circle cx="596.79" cy="281.32" r="1" fill="#00bbbb" fill-opacity="0.95"/>
<circle cx="571.24" cy="265.44" r="1" fill="#00bbbb" fill-opacity="0.95"/>
<circle cx="597.65" cy="282.94" r="1" fill="#00bbbb" fill-opacity="0.95"/>
<circle cx="572.14" cy="266.92" r="1" fill="#00bbbb" fill-opacity="0.95"/>
<circle cx="577.96" cy="272.63" r="1" fill="#bbbb00" fill-opacity="0.95"/>
<circle cx="597.71" cy="280.24" r="1" fill="#bbbb00" fill-opacity="0.95"/>
<circle cx="596.2" cy="281.67" r="1" fill="#bbbb00" fill-opacity="0.95"/>
<circle cx="625.45" cy="301.65" r="1" fill="#bbbb00" fill-opacity="0.95"/>
<circle cx="594.44" cy="281.12" r="1" fill="#bbbb00" fill-opacity="0.95"/>
<circle cx="606.36" cy="289.43" r="1" fill="#bbbb00" fill-opacity="0.95"/>
<circle cx="602.08" cy="285.9" r="1" fill="#bbbb00" fill-opacity="0.95"/>
<circle cx="587.05" cy="273.68" r="1" fill="#bbbb00" fill-opacity="0.95"/>
<circle cx="558.72" cy="262.6" r="1" fill="#bbbb00" fill-opacity="0.95"/>
<circle cx="580.65" cy="271.56" r="1" fill="#bbbb00" fill-opacity="0.95"/>
<circle cx="615.77" cy="294.44" r="1" fill="#bbbb00" fill-opacity="0.95"/>
<circle cx="548.59" cy="255.74" r="1" fill="#bbbb00" fill-opacity="0.95"/>
<circle cx="543.04" cy="254.22" r="1" fill="#bbbb00" fill-opacity="0.95"/>
<circle cx="603.73" cy="289.42" r="1" fill="#bbbb00" fill-opacity="0.95"/>
<circle cx="565.35" cy="262.99" r="1" fill="#cc00cc" fill-opacity="0.95"/>
<circle cx="611.23" cy="292.41" r="1" fill="#cc00cc" fill-opacity="0.95"/>
<circle cx="558.53" cy="260.36" r="1" fill="#cc00cc" fill-opacity="0.95"/>
<circle cx="608.05" cy="291.47" r="1" fill="#cc00cc" fill-opacity="0.95"/>
<circle cx="604.64" cy="289.82" r="1" fill="#cc00cc" fill-opacity="0.95"/>
<circle cx="594.11" cy="282.87" r="1" fill="#cc00cc" fill-opacity="0.95"/>
<circle cx="572.82" cy="262.5" r="1" fill="#cc00cc" fill-opacity="0.95"/>
<circle cx="624.52" cy="297.3" r="1" fill="#cc00cc" fill-opacity="0.95"/>
<circle cx="579.21" cy="268.97" r="1" fill="#cc00cc" fill-opacity="0.95"/>
<circle cx="539.49" cy="255.04" r="1" fill="#cc00cc" fill-opacity="0.95"/>
<circle cx="538.81" cy="254.41" r="1" fill="#cc00cc" fill-opacity="0.95"/>
<circle cx="564.06" cy="262.04" r="1" fill="#cc00cc" fill-opacity="0.95"/>
<circle cx="577.68" cy="266.43" r="1" fill="#cc00cc" fill-opacity="0.95"/>
<circle cx="593.97" cy="276.48" r="1" fill="#cc00cc" fill-opacity="0.95"/>
<circle cx="602.03" cy="288.25" r="1" fill="#ff9900" fill-opacity="0.95"/>
<circle cx="628.47" cy="301.57" r="1" fill="#ff9900" fill-opacity="0.95"/>
<circle cx="583.97" cy="271.68" r="1" fill="#ff9900" fill-opacity="0.95"/>
<circle cx="620.52" cy="299.75" r="1" fill="#ff9900" fill-opacity="0.95"/>
<circle cx="550.71" cy="258.39" r="1" fill="#ff9900" fill-opacity="0.95"/>
<circle cx="592.31" cy="279.89" r="1" fill="#ff9900" fill-opacity="0.95"/>
<circle cx="620.73" cy="300.88" r="1" fill="#ff9900" fill-opacity="0.95"/>
<circle cx="554.2" cy="257.98" r="1" fill="#ff9900" fill-opacity="0.95"/>
<circle cx="626.62" cy="299.97" r="1" fill="#ff9900" fill-opacity="0.95"/>
<circle cx="552.02" cy="258.48" r="1" fill="#ff9900" fill-opacity="0.95"/>
<circle cx="625.13" cy="300.21" r="1" fill="#ff9900" fill-opacity="0.95"/>
<circle cx="546.92" cy="256.49" r="1" fill="#ff9900" fill-opacity="0.95"/>
<circle cx="616.34" cy="295.26" r="1" fill="#ff9900" fill-opacity="0.95"/>
<circle cx="551.31" cy="257.81" r="1" fill="#ff9900" fill-opacity="0.95"/>
<circle cx="590" cy="313.5" r="1" fill="#cc00cc" fill-opacity="1"/>
<circle cx="600" cy="319" r="1" fill="#cc00cc" fill-opacity="1"/>
<circle cx="602" cy="320.5" r="1" fill="#cc00cc" fill-opacity="1"/>
<circle cx="560" cy="274" r="1" fill="#00bbbb" fill-opacity="1"/>
<circle cx="573.5" cy="291" r="1" fill="#00bbbb" fill-opacity="1"/>
<circle cx="577" cy="292" r="1" fill="#00bbbb" fill-opacity="1"/>
<circle cx="590" cy="296" r="1" fill="#bbbb00" fill-opacity="1"/>
<circle cx="577" cy="285" r="1" fill="#cc00cc" fill-opacity="1"/>
<circle cx="586.62" cy="269.12" r="1" fill="#ff9900" fill-opacity="0.9"/>
<circle cx="571.12" cy="258.97" r="1" fill="#ff9900" fill-opacity="0.9"/>
<circle cx="571.14" cy="259.72" r="1" fill="#ff9900" fill-opacity="0.9"/>
<circle cx="569.86" cy="260.91" r="1" fill="#ff9900" fill-opacity="0.9"/>
<circle cx="589.96" cy="271.88" r="1" fill="#ff9900" fill-opacity="0.9"/>
<circle cx="573.97" cy="260.58" r="1" fill="#ff9900" fill-opacity="0.9"/>
<circle cx="576.26" cy="262.33" r="1" fill="#ff9900" fill-opacity="0.9"/>
<circle cx="553.13" cy="255.97" r="1" fill="#ff9900" fill-opacity="0.9"/>
<circle cx="554.82" cy="254.39" r="1" fill="#ff9900" fill-opacity="0.9"/>
<circle cx="579.05" cy="266.92" r="1" fill="#ff9900" fill-opacity="0.9"/>
<circle cx="570.53" cy="262.26" r="1" fill="#ff9900" fill-opacity="0.9"/>
<circle cx="577.78" cy="263.43" r="1" fill="#ff9900" fill-opacity="0.9"/>
<circle cx="553.92" cy="252.58" r="1" fill="#ff9900" fill-opacity="0.9"/>
<circle cx="576.88" cy="265.58" r="1" fill="#ff9900" fill-opacity="0.9"/>
<circle cx="564.42" cy="259.41" r="1" fill="#ff9900" fill-opacity="0.9"/>
<circle cx="579.38" cy="263.92" r="1" fill="#ff9900" fill-opacity="0.9"/>
<circle cx="557.43" cy="256.79" r="1" fill="#ff9900" fill-opacity="0.9"/>
<circle cx="575.45" cy="261.52" r="1" fill="#ff9900" fill-opacity="0.9"/>
</g>
<line x1="534.6" y1="234.7" x2="534.6" y2="350.9" stroke="#cccccc" stroke-width="1.8"/>
<line x1="534.1" y1="235.2" x2="683.8" y2="235.2" stroke="#888" stroke-width="1.2"/>
<line x1="683.3" y1="234.7" x2="683.3" y2="350.9" stroke="#999" stroke-width="1.5"/>
<line x1="534.1" y1="350.4" x2="683.8" y2="350.4" stroke="#aaaaaa" stroke-width="1.6"/>
<line x1="534.6" y1="350.4" x2="534.6" y2="352.2" stroke="#777" stroke-width="0.8"/>
<text x="534.6" y="358.2" font-size="6.4" text-anchor="middle" fill="#222" stroke="#222" stroke-width="0.08">0</text>
<line x1="554.45" y1="350.4" x2="554.45" y2="352.2" stroke="#777" stroke-width="0.8"/>
<text x="554.45" y="358.2" font-size="6.4" text-anchor="middle" fill="#222" stroke="#222" stroke-width="0.08">10</text>
<line x1="574.3" y1="350.4" x2="574.3" y2="352.2" stroke="#777" stroke-width="0.8"/>
<text x="574.3" y="358.2" font-size="6.4" text-anchor="middle" fill="#222" stroke="#222" stroke-width="0.08">20</text>
<line x1="594.15" y1="350.4" x2="594.15" y2="352.2" stroke="#777" stroke-width="0.8"/>
<text x="594.15" y="358.2" font-size="6.4" text-anchor="middle" fill="#222" stroke="#222" stroke-width="0.08">30</text>
<line x1="614" y1="350.4" x2="614" y2="352.2" stroke="#777" stroke-width="0.8"/>
<text x="614" y="358.2" font-size="6.4" text-anchor="middle" fill="#222" stroke="#222" stroke-width="0.08">40</text>
<line x1="633.85" y1="350.4" x2="633.85" y2="352.2" stroke="#777" stroke-width="0.8"/>
<text x="633.85" y="358.2" font-size="6.4" text-anchor="middle" fill="#222" stroke="#222" stroke-width="0.08">50</text>
<line x1="653.7" y1="350.4" x2="653.7" y2="352.2" stroke="#777" stroke-width="0.8"/>
<text x="653.7" y="358.2" font-size="6.4" text-anchor="middle" fill="#222" stroke="#222" stroke-width="0.08">60</text>
<line x1="673.55" y1="350.4" x2="673.55" y2="352.2" stroke="#777" stroke-width="0.8"/>
<text x="673.55" y="358.2" font-size="6.4" text-anchor="middle" fill="#222" stroke="#222" stroke-width="0.08">70</text>
<line x1="532.8" y1="350.4" x2="534.6" y2="350.4" stroke="#777" stroke-width="0.8"/>
<text x="532" y="352.6" font-size="6.4" text-anchor="end" fill="#222" stroke="#222" stroke-width="0.08">0</text>
<line x1="532.8" y1="331.2" x2="534.6" y2="331.2" stroke="#777" stroke-width="0.8"/>
<text x="532" y="333.4" font-size="6.4" text-anchor="end" fill="#222" stroke="#222" stroke-width="0.08">10</text>
<line x1="532.8" y1="312" x2="534.6" y2="312" stroke="#777" stroke-width="0.8"/>
<text x="532" y="314.2" font-size="6.4" text-anchor="end" fill="#222" stroke="#222" stroke-width="0.08">20</text>
<line x1="532.8" y1="292.8" x2="534.6" y2="292.8" stroke="#777" stroke-width="0.8"/>
<text x="532" y="295" font-size="6.4" text-anchor="end" fill="#222" stroke="#222" stroke-width="0.08">30</text>
<line x1="532.8" y1="273.6" x2="534.6" y2="273.6" stroke="#777" stroke-width="0.8"/>
<text x="532" y="275.8" font-size="6.4" text-anchor="end" fill="#222" stroke="#222" stroke-width="0.08">40</text>
<line x1="532.8" y1="254.4" x2="534.6" y2="254.4" stroke="#777" stroke-width="0.8"/>
<text x="532" y="256.6" font-size="6.4" text-anchor="end" fill="#222" stroke="#222" stroke-width="0.08">50</text>
<line x1="532.8" y1="235.2" x2="534.6" y2="235.2" stroke="#777" stroke-width="0.8"/>
<text x="532" y="237.4" font-size="6.4" text-anchor="end" fill="#222" stroke="#222" stroke-width="0.08">60</text>
<text x="577" y="225.7" font-size="9.5" text-anchor="start" fill="#111" stroke="#111" stroke-width="0.24" textLength="43.2" lengthAdjust="spacingAndGlyphs">unloading</text>
<line x1="581" y1="232.5" x2="637.7" y2="232.5" stroke="#c8c8c8" stroke-width="1.1" stroke-dasharray="1.6 0.8 2.4 0.8 1 1.2"/>
<text x="609" y="365.9" font-size="6.6" text-anchor="middle" fill="#222" stroke="#222" stroke-width="0.08" textLength="54" lengthAdjust="spacingAndGlyphs">Density (veh./Km)</text>
<text x="617.9" y="375.8" font-size="10.4" text-anchor="middle" fill="#111" stroke="#111" stroke-width="0.26">(g)</text>
<text x="519.2" y="297.2" font-size="6.2" text-anchor="middle" fill="#222" stroke="#222" stroke-width="0.07" transform="rotate(-90 519.2 297.2)" textLength="40" lengthAdjust="spacingAndGlyphs">Speed (km./hr.)</text>
<rect x="625.7" y="238" width="54.1" height="61.5" fill="#fff" fill-opacity="0.9" stroke="#dddddd" stroke-width="0.8" rx="1.5"/>
<line x1="627.9" y1="242.7" x2="639.9" y2="242.7" stroke="#a8a8ff" stroke-width="1.3"/>
<text x="644.5" y="245" font-size="7" text-anchor="start" fill="#2a2a2a" stroke="#2a2a2a" stroke-width="0.02">Monday</text>
<line x1="627.9" y1="251.9" x2="639.9" y2="251.9" stroke="#7fc07f" stroke-width="1.3"/>
<text x="644.5" y="254.2" font-size="7" text-anchor="start" fill="#2a2a2a" stroke="#2a2a2a" stroke-width="0.02">Tuesday</text>
<line x1="627.9" y1="260.2" x2="639.9" y2="260.2" stroke="#f49090" stroke-width="1.3"/>
<text x="644.5" y="262.5" font-size="7" text-anchor="start" fill="#2a2a2a" stroke="#2a2a2a" stroke-width="0.02">Wednesday</text>
<line x1="627.9" y1="268.6" x2="639.9" y2="268.6" stroke="#7fdede" stroke-width="1.3"/>
<text x="644.5" y="270.9" font-size="7" text-anchor="start" fill="#2a2a2a" stroke="#2a2a2a" stroke-width="0.02">Thursday</text>
<line x1="627.9" y1="277.3" x2="639.9" y2="277.3" stroke="#dede8f" stroke-width="1.3"/>
<text x="644.5" y="279.6" font-size="7" text-anchor="start" fill="#2a2a2a" stroke="#2a2a2a" stroke-width="0.02">Friday</text>
<line x1="627.9" y1="285.6" x2="639.9" y2="285.6" stroke="#e38ee3" stroke-width="1.3"/>
<text x="644.5" y="287.9" font-size="7" text-anchor="start" fill="#2a2a2a" stroke="#2a2a2a" stroke-width="0.02">Saturday</text>
<line x1="627.9" y1="294.4" x2="639.9" y2="294.4" stroke="#fbc77f" stroke-width="1.3"/>
<text x="644.5" y="296.7" font-size="7" text-anchor="start" fill="#2a2a2a" stroke="#2a2a2a" stroke-width="0.02">Sunday</text>
</svg></body></html>
